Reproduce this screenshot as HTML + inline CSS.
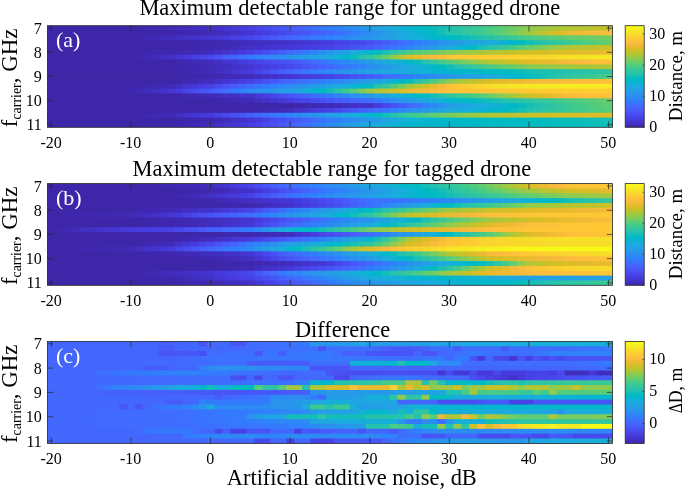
<!DOCTYPE html>
<html><head><meta charset="utf-8"><title>Detectable range</title>
<style>html,body{margin:0;padding:0;background:#fff}svg{display:block;font-family:"Liberation Serif",serif;will-change:transform}text{fill:#000}</style>
</head><body>
<svg width="685" height="489" viewBox="0 0 685 489">
<rect width="685" height="489" fill="#fff"/>
<g>
<rect x="47.40" y="25.70" width="88.85" height="6.14" fill="#3e26a8"/>
<rect x="134.95" y="25.70" width="9.26" height="6.14" fill="#3e27ac"/>
<rect x="142.91" y="25.70" width="9.26" height="6.14" fill="#3f28af"/>
<rect x="150.87" y="25.70" width="9.26" height="6.14" fill="#3f29b2"/>
<rect x="158.83" y="25.70" width="9.26" height="6.14" fill="#402ab4"/>
<rect x="166.79" y="25.70" width="9.26" height="6.14" fill="#402bb7"/>
<rect x="174.75" y="25.70" width="9.26" height="6.14" fill="#412cba"/>
<rect x="182.71" y="25.70" width="9.26" height="6.14" fill="#412dbd"/>
<rect x="190.66" y="25.70" width="9.26" height="6.14" fill="#422ebf"/>
<rect x="198.62" y="25.70" width="9.26" height="6.14" fill="#422fc2"/>
<rect x="206.58" y="25.70" width="9.26" height="6.14" fill="#4330c5"/>
<rect x="214.54" y="25.70" width="9.26" height="6.14" fill="#4332ca"/>
<rect x="222.50" y="25.70" width="9.26" height="6.14" fill="#4535d2"/>
<rect x="230.46" y="25.70" width="9.26" height="6.14" fill="#4538d7"/>
<rect x="238.42" y="25.70" width="9.26" height="6.14" fill="#463bde"/>
<rect x="246.38" y="25.70" width="9.26" height="6.14" fill="#473fe3"/>
<rect x="254.34" y="25.70" width="9.26" height="6.14" fill="#4745e9"/>
<rect x="262.30" y="25.70" width="9.26" height="6.14" fill="#484bee"/>
<rect x="270.26" y="25.70" width="9.26" height="6.14" fill="#4850f3"/>
<rect x="278.22" y="25.70" width="9.26" height="6.14" fill="#4756f7"/>
<rect x="286.17" y="25.70" width="9.26" height="6.14" fill="#475bfa"/>
<rect x="294.13" y="25.70" width="9.26" height="6.14" fill="#4562fc"/>
<rect x="302.09" y="25.70" width="9.26" height="6.14" fill="#4368fe"/>
<rect x="310.05" y="25.70" width="9.26" height="6.14" fill="#3e70ff"/>
<rect x="318.01" y="25.70" width="9.26" height="6.14" fill="#3876fe"/>
<rect x="325.97" y="25.70" width="9.26" height="6.14" fill="#317dfc"/>
<rect x="333.93" y="25.70" width="9.26" height="6.14" fill="#2e84f8"/>
<rect x="341.89" y="25.70" width="9.26" height="6.14" fill="#2d8af5"/>
<rect x="349.85" y="25.70" width="9.26" height="6.14" fill="#2c90f0"/>
<rect x="357.81" y="25.70" width="9.26" height="6.14" fill="#2895ec"/>
<rect x="365.77" y="25.70" width="9.26" height="6.14" fill="#259be8"/>
<rect x="373.73" y="25.70" width="9.26" height="6.14" fill="#23a1e4"/>
<rect x="381.68" y="25.70" width="9.26" height="6.14" fill="#1ea7e1"/>
<rect x="389.64" y="25.70" width="9.26" height="6.14" fill="#1aacdd"/>
<rect x="397.60" y="25.70" width="9.26" height="6.14" fill="#10b2d5"/>
<rect x="405.56" y="25.70" width="9.26" height="6.14" fill="#04b6ce"/>
<rect x="413.52" y="25.70" width="9.26" height="6.14" fill="#00b8c9"/>
<rect x="421.48" y="25.70" width="9.26" height="6.14" fill="#02bbc2"/>
<rect x="429.44" y="25.70" width="9.26" height="6.14" fill="#09bdbd"/>
<rect x="437.40" y="25.70" width="9.26" height="6.14" fill="#17bfb6"/>
<rect x="445.36" y="25.70" width="9.26" height="6.14" fill="#23c1af"/>
<rect x="453.32" y="25.70" width="9.26" height="6.14" fill="#2bc3a8"/>
<rect x="461.28" y="25.70" width="9.26" height="6.14" fill="#31c5a1"/>
<rect x="469.24" y="25.70" width="9.26" height="6.14" fill="#36c899"/>
<rect x="477.19" y="25.70" width="9.26" height="6.14" fill="#3dca90"/>
<rect x="485.15" y="25.70" width="9.26" height="6.14" fill="#48cb86"/>
<rect x="493.11" y="25.70" width="9.26" height="6.14" fill="#54cc7c"/>
<rect x="501.07" y="25.70" width="9.26" height="6.14" fill="#61cd72"/>
<rect x="509.03" y="25.70" width="9.26" height="6.14" fill="#6ecd66"/>
<rect x="516.99" y="25.70" width="9.26" height="6.14" fill="#7dcc5b"/>
<rect x="524.95" y="25.70" width="9.26" height="6.14" fill="#8fcb4e"/>
<rect x="532.91" y="25.70" width="9.26" height="6.14" fill="#96ca48"/>
<rect x="540.87" y="25.70" width="9.26" height="6.14" fill="#9dc943"/>
<rect x="548.83" y="25.70" width="9.26" height="6.14" fill="#a4c83e"/>
<rect x="556.79" y="25.70" width="9.26" height="6.14" fill="#abc739"/>
<rect x="564.75" y="25.70" width="9.26" height="6.14" fill="#b2c635"/>
<rect x="572.70" y="25.70" width="9.26" height="6.14" fill="#b5c533"/>
<rect x="580.66" y="25.70" width="9.26" height="6.14" fill="#b8c431"/>
<rect x="588.62" y="25.70" width="9.26" height="6.14" fill="#bbc42f"/>
<rect x="596.58" y="25.70" width="9.26" height="6.14" fill="#bec32d"/>
<rect x="604.54" y="25.70" width="7.96" height="6.14" fill="#c2c32c"/>
<rect x="47.40" y="30.54" width="128.65" height="6.14" fill="#3e26a8"/>
<rect x="174.75" y="30.54" width="9.26" height="6.14" fill="#3e27ac"/>
<rect x="182.71" y="30.54" width="9.26" height="6.14" fill="#3f28af"/>
<rect x="190.66" y="30.54" width="9.26" height="6.14" fill="#3f29b2"/>
<rect x="198.62" y="30.54" width="9.26" height="6.14" fill="#402ab4"/>
<rect x="206.58" y="30.54" width="9.26" height="6.14" fill="#402bb7"/>
<rect x="214.54" y="30.54" width="9.26" height="6.14" fill="#412dbd"/>
<rect x="222.50" y="30.54" width="9.26" height="6.14" fill="#422fc2"/>
<rect x="230.46" y="30.54" width="9.26" height="6.14" fill="#4331c8"/>
<rect x="238.42" y="30.54" width="9.26" height="6.14" fill="#4433cd"/>
<rect x="246.38" y="30.54" width="9.26" height="6.14" fill="#4535d2"/>
<rect x="254.34" y="30.54" width="9.26" height="6.14" fill="#4639d9"/>
<rect x="262.30" y="30.54" width="9.26" height="6.14" fill="#473ee1"/>
<rect x="270.26" y="30.54" width="9.26" height="6.14" fill="#4744e8"/>
<rect x="278.22" y="30.54" width="9.26" height="6.14" fill="#4848ec"/>
<rect x="286.17" y="30.54" width="9.26" height="6.14" fill="#484ef1"/>
<rect x="294.13" y="30.54" width="9.26" height="6.14" fill="#4852f4"/>
<rect x="302.09" y="30.54" width="9.26" height="6.14" fill="#4757f7"/>
<rect x="310.05" y="30.54" width="9.26" height="6.14" fill="#475dfa"/>
<rect x="318.01" y="30.54" width="9.26" height="6.14" fill="#4661fc"/>
<rect x="325.97" y="30.54" width="9.26" height="6.14" fill="#4367fd"/>
<rect x="333.93" y="30.54" width="9.26" height="6.14" fill="#3f6eff"/>
<rect x="341.89" y="30.54" width="9.26" height="6.14" fill="#3876fe"/>
<rect x="349.85" y="30.54" width="9.26" height="6.14" fill="#317dfc"/>
<rect x="357.81" y="30.54" width="9.26" height="6.14" fill="#2e84f8"/>
<rect x="365.77" y="30.54" width="9.26" height="6.14" fill="#2d8bf4"/>
<rect x="373.73" y="30.54" width="9.26" height="6.14" fill="#2a93ee"/>
<rect x="381.68" y="30.54" width="9.26" height="6.14" fill="#259be8"/>
<rect x="389.64" y="30.54" width="9.26" height="6.14" fill="#22a2e4"/>
<rect x="397.60" y="30.54" width="9.26" height="6.14" fill="#1da9e0"/>
<rect x="405.56" y="30.54" width="9.26" height="6.14" fill="#16afd9"/>
<rect x="413.52" y="30.54" width="9.26" height="6.14" fill="#0bb3d2"/>
<rect x="421.48" y="30.54" width="9.26" height="6.14" fill="#01b7ca"/>
<rect x="429.44" y="30.54" width="9.26" height="6.14" fill="#02bbc2"/>
<rect x="437.40" y="30.54" width="9.26" height="6.14" fill="#14beb8"/>
<rect x="445.36" y="30.54" width="9.26" height="6.14" fill="#23c1af"/>
<rect x="453.32" y="30.54" width="9.26" height="6.14" fill="#2bc3a8"/>
<rect x="461.28" y="30.54" width="9.26" height="6.14" fill="#31c5a1"/>
<rect x="469.24" y="30.54" width="9.26" height="6.14" fill="#36c899"/>
<rect x="477.19" y="30.54" width="9.26" height="6.14" fill="#3dca90"/>
<rect x="485.15" y="30.54" width="9.26" height="6.14" fill="#48cb86"/>
<rect x="493.11" y="30.54" width="9.26" height="6.14" fill="#57cc7a"/>
<rect x="501.07" y="30.54" width="9.26" height="6.14" fill="#67cd6c"/>
<rect x="509.03" y="30.54" width="9.26" height="6.14" fill="#79cc5e"/>
<rect x="516.99" y="30.54" width="9.26" height="6.14" fill="#8fcb4e"/>
<rect x="524.95" y="30.54" width="9.26" height="6.14" fill="#a1c840"/>
<rect x="532.91" y="30.54" width="9.26" height="6.14" fill="#b2c635"/>
<rect x="540.87" y="30.54" width="9.26" height="6.14" fill="#c2c32c"/>
<rect x="548.83" y="30.54" width="9.26" height="6.14" fill="#d0bf27"/>
<rect x="556.79" y="30.54" width="9.26" height="6.14" fill="#debc29"/>
<rect x="564.75" y="30.54" width="9.26" height="6.14" fill="#eaba30"/>
<rect x="572.70" y="30.54" width="9.26" height="6.14" fill="#efba35"/>
<rect x="580.66" y="30.54" width="9.26" height="6.14" fill="#f3ba39"/>
<rect x="588.62" y="30.54" width="9.26" height="6.14" fill="#f7ba3d"/>
<rect x="596.58" y="30.54" width="9.26" height="6.14" fill="#fbbb3e"/>
<rect x="604.54" y="30.54" width="7.96" height="6.14" fill="#febe3c"/>
<rect x="47.40" y="35.38" width="88.85" height="6.14" fill="#3e26a8"/>
<rect x="134.95" y="35.38" width="9.26" height="6.14" fill="#3e27ac"/>
<rect x="142.91" y="35.38" width="9.26" height="6.14" fill="#3f29b2"/>
<rect x="150.87" y="35.38" width="9.26" height="6.14" fill="#402ab4"/>
<rect x="158.83" y="35.38" width="9.26" height="6.14" fill="#412cba"/>
<rect x="166.79" y="35.38" width="9.26" height="6.14" fill="#412dbd"/>
<rect x="174.75" y="35.38" width="9.26" height="6.14" fill="#422fc2"/>
<rect x="182.71" y="35.38" width="9.26" height="6.14" fill="#4330c5"/>
<rect x="190.66" y="35.38" width="9.26" height="6.14" fill="#4332ca"/>
<rect x="198.62" y="35.38" width="9.26" height="6.14" fill="#4433cd"/>
<rect x="206.58" y="35.38" width="9.26" height="6.14" fill="#4535d2"/>
<rect x="214.54" y="35.38" width="9.26" height="6.14" fill="#4538d7"/>
<rect x="222.50" y="35.38" width="9.26" height="6.14" fill="#463bde"/>
<rect x="230.46" y="35.38" width="9.26" height="6.14" fill="#473fe3"/>
<rect x="238.42" y="35.38" width="9.26" height="6.14" fill="#4742e6"/>
<rect x="246.38" y="35.38" width="9.26" height="6.14" fill="#4746eb"/>
<rect x="254.34" y="35.38" width="9.26" height="6.14" fill="#484cf0"/>
<rect x="262.30" y="35.38" width="9.26" height="6.14" fill="#4853f5"/>
<rect x="270.26" y="35.38" width="9.26" height="6.14" fill="#4759f8"/>
<rect x="278.22" y="35.38" width="9.26" height="6.14" fill="#4660fb"/>
<rect x="286.17" y="35.38" width="9.26" height="6.14" fill="#4367fd"/>
<rect x="294.13" y="35.38" width="9.26" height="6.14" fill="#416bfe"/>
<rect x="302.09" y="35.38" width="9.26" height="6.14" fill="#3c71ff"/>
<rect x="310.05" y="35.38" width="9.26" height="6.14" fill="#3876fe"/>
<rect x="318.01" y="35.38" width="9.26" height="6.14" fill="#327cfc"/>
<rect x="325.97" y="35.38" width="9.26" height="6.14" fill="#2f82fa"/>
<rect x="333.93" y="35.38" width="9.26" height="6.14" fill="#2e86f8"/>
<rect x="341.89" y="35.38" width="9.26" height="6.14" fill="#2d8af5"/>
<rect x="349.85" y="35.38" width="9.26" height="6.14" fill="#2d8ef2"/>
<rect x="357.81" y="35.38" width="9.26" height="6.14" fill="#2b91ef"/>
<rect x="365.77" y="35.38" width="9.26" height="6.14" fill="#2895ec"/>
<rect x="373.73" y="35.38" width="9.26" height="6.14" fill="#269ae8"/>
<rect x="381.68" y="35.38" width="9.26" height="6.14" fill="#249fe5"/>
<rect x="389.64" y="35.38" width="9.26" height="6.14" fill="#21a3e3"/>
<rect x="397.60" y="35.38" width="9.26" height="6.14" fill="#1da8e1"/>
<rect x="405.56" y="35.38" width="9.26" height="6.14" fill="#1aacdd"/>
<rect x="413.52" y="35.38" width="9.26" height="6.14" fill="#14b0d8"/>
<rect x="421.48" y="35.38" width="9.26" height="6.14" fill="#0eb3d4"/>
<rect x="429.44" y="35.38" width="9.26" height="6.14" fill="#06b5cf"/>
<rect x="437.40" y="35.38" width="9.26" height="6.14" fill="#01b7ca"/>
<rect x="445.36" y="35.38" width="9.26" height="6.14" fill="#00bac6"/>
<rect x="453.32" y="35.38" width="9.26" height="6.14" fill="#04bbc1"/>
<rect x="461.28" y="35.38" width="9.26" height="6.14" fill="#0dbdbc"/>
<rect x="469.24" y="35.38" width="9.26" height="6.14" fill="#17bfb6"/>
<rect x="477.19" y="35.38" width="9.26" height="6.14" fill="#20c1b1"/>
<rect x="485.15" y="35.38" width="9.26" height="6.14" fill="#27c2ac"/>
<rect x="493.11" y="35.38" width="9.26" height="6.14" fill="#2ec4a5"/>
<rect x="501.07" y="35.38" width="9.26" height="6.14" fill="#32c69f"/>
<rect x="509.03" y="35.38" width="9.26" height="6.14" fill="#38c896"/>
<rect x="516.99" y="35.38" width="9.26" height="6.14" fill="#40ca8d"/>
<rect x="524.95" y="35.38" width="9.26" height="6.14" fill="#48cb86"/>
<rect x="532.91" y="35.38" width="9.26" height="6.14" fill="#4ecc81"/>
<rect x="540.87" y="35.38" width="9.26" height="6.14" fill="#51cc7f"/>
<rect x="548.83" y="35.38" width="9.26" height="6.14" fill="#57cc7a"/>
<rect x="556.79" y="35.38" width="9.26" height="6.14" fill="#5acc77"/>
<rect x="564.75" y="35.38" width="9.26" height="6.14" fill="#61cd72"/>
<rect x="572.70" y="35.38" width="9.26" height="6.14" fill="#64cd6f"/>
<rect x="580.66" y="35.38" width="9.26" height="6.14" fill="#67cd6c"/>
<rect x="588.62" y="35.38" width="9.26" height="6.14" fill="#6bcd69"/>
<rect x="596.58" y="35.38" width="9.26" height="6.14" fill="#6ecd66"/>
<rect x="604.54" y="35.38" width="7.96" height="6.14" fill="#72cd64"/>
<rect x="47.40" y="40.21" width="136.61" height="6.14" fill="#3e26a8"/>
<rect x="182.71" y="40.21" width="17.22" height="6.14" fill="#3e27ac"/>
<rect x="198.62" y="40.21" width="17.22" height="6.14" fill="#3f28af"/>
<rect x="214.54" y="40.21" width="9.26" height="6.14" fill="#3f29b2"/>
<rect x="222.50" y="40.21" width="9.26" height="6.14" fill="#402ab4"/>
<rect x="230.46" y="40.21" width="9.26" height="6.14" fill="#402bb7"/>
<rect x="238.42" y="40.21" width="9.26" height="6.14" fill="#412cba"/>
<rect x="246.38" y="40.21" width="9.26" height="6.14" fill="#412dbd"/>
<rect x="254.34" y="40.21" width="9.26" height="6.14" fill="#422ebf"/>
<rect x="262.30" y="40.21" width="9.26" height="6.14" fill="#422fc2"/>
<rect x="270.26" y="40.21" width="9.26" height="6.14" fill="#4330c5"/>
<rect x="278.22" y="40.21" width="9.26" height="6.14" fill="#4331c8"/>
<rect x="286.17" y="40.21" width="9.26" height="6.14" fill="#4332ca"/>
<rect x="294.13" y="40.21" width="9.26" height="6.14" fill="#4434d0"/>
<rect x="302.09" y="40.21" width="9.26" height="6.14" fill="#4535d2"/>
<rect x="310.05" y="40.21" width="9.26" height="6.14" fill="#4538d7"/>
<rect x="318.01" y="40.21" width="9.26" height="6.14" fill="#4639d9"/>
<rect x="325.97" y="40.21" width="9.26" height="6.14" fill="#463bde"/>
<rect x="333.93" y="40.21" width="9.26" height="6.14" fill="#473fe3"/>
<rect x="341.89" y="40.21" width="9.26" height="6.14" fill="#4742e6"/>
<rect x="349.85" y="40.21" width="9.26" height="6.14" fill="#4746eb"/>
<rect x="357.81" y="40.21" width="9.26" height="6.14" fill="#4849ed"/>
<rect x="365.77" y="40.21" width="9.26" height="6.14" fill="#484ef1"/>
<rect x="373.73" y="40.21" width="9.26" height="6.14" fill="#4854f6"/>
<rect x="381.68" y="40.21" width="9.26" height="6.14" fill="#475bfa"/>
<rect x="389.64" y="40.21" width="9.26" height="6.14" fill="#4562fc"/>
<rect x="397.60" y="40.21" width="9.26" height="6.14" fill="#426afe"/>
<rect x="405.56" y="40.21" width="9.26" height="6.14" fill="#3c71ff"/>
<rect x="413.52" y="40.21" width="9.26" height="6.14" fill="#337afd"/>
<rect x="421.48" y="40.21" width="9.26" height="6.14" fill="#2f82fa"/>
<rect x="429.44" y="40.21" width="9.26" height="6.14" fill="#2d88f6"/>
<rect x="437.40" y="40.21" width="9.26" height="6.14" fill="#2c8ff1"/>
<rect x="445.36" y="40.21" width="9.26" height="6.14" fill="#2895ec"/>
<rect x="453.32" y="40.21" width="9.26" height="6.14" fill="#269ae8"/>
<rect x="461.28" y="40.21" width="9.26" height="6.14" fill="#249ee6"/>
<rect x="469.24" y="40.21" width="9.26" height="6.14" fill="#22a2e4"/>
<rect x="477.19" y="40.21" width="9.26" height="6.14" fill="#1fa6e2"/>
<rect x="485.15" y="40.21" width="9.26" height="6.14" fill="#1caadf"/>
<rect x="493.11" y="40.21" width="9.26" height="6.14" fill="#16afd9"/>
<rect x="501.07" y="40.21" width="9.26" height="6.14" fill="#0bb3d2"/>
<rect x="509.03" y="40.21" width="9.26" height="6.14" fill="#01b7ca"/>
<rect x="516.99" y="40.21" width="9.26" height="6.14" fill="#02bbc2"/>
<rect x="524.95" y="40.21" width="9.26" height="6.14" fill="#14beb8"/>
<rect x="532.91" y="40.21" width="9.26" height="6.14" fill="#20c1b1"/>
<rect x="540.87" y="40.21" width="9.26" height="6.14" fill="#29c3aa"/>
<rect x="548.83" y="40.21" width="9.26" height="6.14" fill="#2fc5a3"/>
<rect x="556.79" y="40.21" width="9.26" height="6.14" fill="#35c79b"/>
<rect x="564.75" y="40.21" width="9.26" height="6.14" fill="#3bc992"/>
<rect x="572.70" y="40.21" width="9.26" height="6.14" fill="#42ca8b"/>
<rect x="580.66" y="40.21" width="9.26" height="6.14" fill="#4bcb84"/>
<rect x="588.62" y="40.21" width="9.26" height="6.14" fill="#54cc7c"/>
<rect x="596.58" y="40.21" width="9.26" height="6.14" fill="#5ecd74"/>
<rect x="604.54" y="40.21" width="7.96" height="6.14" fill="#67cd6c"/>
<rect x="47.40" y="45.05" width="136.61" height="6.14" fill="#3e26a8"/>
<rect x="182.71" y="45.05" width="17.22" height="6.14" fill="#3e27ac"/>
<rect x="198.62" y="45.05" width="17.22" height="6.14" fill="#3f28af"/>
<rect x="214.54" y="45.05" width="9.26" height="6.14" fill="#402ab4"/>
<rect x="222.50" y="45.05" width="9.26" height="6.14" fill="#402bb7"/>
<rect x="230.46" y="45.05" width="9.26" height="6.14" fill="#412dbd"/>
<rect x="238.42" y="45.05" width="9.26" height="6.14" fill="#422ebf"/>
<rect x="246.38" y="45.05" width="9.26" height="6.14" fill="#4330c5"/>
<rect x="254.34" y="45.05" width="9.26" height="6.14" fill="#4331c8"/>
<rect x="262.30" y="45.05" width="9.26" height="6.14" fill="#4433cd"/>
<rect x="270.26" y="45.05" width="9.26" height="6.14" fill="#4434d0"/>
<rect x="278.22" y="45.05" width="9.26" height="6.14" fill="#4537d5"/>
<rect x="286.17" y="45.05" width="9.26" height="6.14" fill="#4538d7"/>
<rect x="294.13" y="45.05" width="9.26" height="6.14" fill="#463adc"/>
<rect x="302.09" y="45.05" width="9.26" height="6.14" fill="#463bde"/>
<rect x="310.05" y="45.05" width="9.26" height="6.14" fill="#473ee1"/>
<rect x="318.01" y="45.05" width="9.26" height="6.14" fill="#4741e5"/>
<rect x="325.97" y="45.05" width="9.26" height="6.14" fill="#4742e6"/>
<rect x="333.93" y="45.05" width="9.26" height="6.14" fill="#4848ec"/>
<rect x="341.89" y="45.05" width="9.26" height="6.14" fill="#484cf0"/>
<rect x="349.85" y="45.05" width="9.26" height="6.14" fill="#4852f4"/>
<rect x="357.81" y="45.05" width="9.26" height="6.14" fill="#4756f7"/>
<rect x="365.77" y="45.05" width="9.26" height="6.14" fill="#475bfa"/>
<rect x="373.73" y="45.05" width="9.26" height="6.14" fill="#4564fd"/>
<rect x="381.68" y="45.05" width="9.26" height="6.14" fill="#416bfe"/>
<rect x="389.64" y="45.05" width="9.26" height="6.14" fill="#3974ff"/>
<rect x="397.60" y="45.05" width="9.26" height="6.14" fill="#317dfc"/>
<rect x="405.56" y="45.05" width="9.26" height="6.14" fill="#2e84f8"/>
<rect x="413.52" y="45.05" width="9.26" height="6.14" fill="#2d8cf3"/>
<rect x="421.48" y="45.05" width="9.26" height="6.14" fill="#2994ed"/>
<rect x="429.44" y="45.05" width="9.26" height="6.14" fill="#259ce7"/>
<rect x="437.40" y="45.05" width="9.26" height="6.14" fill="#21a3e3"/>
<rect x="445.36" y="45.05" width="9.26" height="6.14" fill="#1caadf"/>
<rect x="453.32" y="45.05" width="9.26" height="6.14" fill="#12b1d6"/>
<rect x="461.28" y="45.05" width="9.26" height="6.14" fill="#04b6ce"/>
<rect x="469.24" y="45.05" width="9.26" height="6.14" fill="#02bbc2"/>
<rect x="477.19" y="45.05" width="9.26" height="6.14" fill="#17bfb6"/>
<rect x="485.15" y="45.05" width="9.26" height="6.14" fill="#27c2ac"/>
<rect x="493.11" y="45.05" width="9.26" height="6.14" fill="#31c5a1"/>
<rect x="501.07" y="45.05" width="9.26" height="6.14" fill="#38c896"/>
<rect x="509.03" y="45.05" width="9.26" height="6.14" fill="#45cb89"/>
<rect x="516.99" y="45.05" width="9.26" height="6.14" fill="#57cc7a"/>
<rect x="524.95" y="45.05" width="9.26" height="6.14" fill="#67cd6c"/>
<rect x="532.91" y="45.05" width="9.26" height="6.14" fill="#76cc61"/>
<rect x="540.87" y="45.05" width="9.26" height="6.14" fill="#88cb53"/>
<rect x="548.83" y="45.05" width="9.26" height="6.14" fill="#96ca48"/>
<rect x="556.79" y="45.05" width="9.26" height="6.14" fill="#a4c83e"/>
<rect x="564.75" y="45.05" width="9.26" height="6.14" fill="#b2c635"/>
<rect x="572.70" y="45.05" width="9.26" height="6.14" fill="#b5c533"/>
<rect x="580.66" y="45.05" width="9.26" height="6.14" fill="#bbc42f"/>
<rect x="588.62" y="45.05" width="9.26" height="6.14" fill="#bec32d"/>
<rect x="596.58" y="45.05" width="9.26" height="6.14" fill="#c5c22a"/>
<rect x="604.54" y="45.05" width="7.96" height="6.14" fill="#cbc128"/>
<rect x="47.40" y="49.89" width="96.81" height="6.14" fill="#3e26a8"/>
<rect x="142.91" y="49.89" width="17.22" height="6.14" fill="#3e27ac"/>
<rect x="158.83" y="49.89" width="17.22" height="6.14" fill="#3f28af"/>
<rect x="174.75" y="49.89" width="9.26" height="6.14" fill="#3f29b2"/>
<rect x="182.71" y="49.89" width="9.26" height="6.14" fill="#402ab4"/>
<rect x="190.66" y="49.89" width="9.26" height="6.14" fill="#402bb7"/>
<rect x="198.62" y="49.89" width="9.26" height="6.14" fill="#412cba"/>
<rect x="206.58" y="49.89" width="9.26" height="6.14" fill="#412dbd"/>
<rect x="214.54" y="49.89" width="9.26" height="6.14" fill="#4330c5"/>
<rect x="222.50" y="49.89" width="9.26" height="6.14" fill="#4433cd"/>
<rect x="230.46" y="49.89" width="9.26" height="6.14" fill="#4537d5"/>
<rect x="238.42" y="49.89" width="9.26" height="6.14" fill="#463adc"/>
<rect x="246.38" y="49.89" width="9.26" height="6.14" fill="#473fe3"/>
<rect x="254.34" y="49.89" width="9.26" height="6.14" fill="#4746eb"/>
<rect x="262.30" y="49.89" width="9.26" height="6.14" fill="#484ff2"/>
<rect x="270.26" y="49.89" width="9.26" height="6.14" fill="#4756f7"/>
<rect x="278.22" y="49.89" width="9.26" height="6.14" fill="#465efb"/>
<rect x="286.17" y="49.89" width="9.26" height="6.14" fill="#4367fd"/>
<rect x="294.13" y="49.89" width="9.26" height="6.14" fill="#3e70ff"/>
<rect x="302.09" y="49.89" width="9.26" height="6.14" fill="#337afd"/>
<rect x="310.05" y="49.89" width="9.26" height="6.14" fill="#2e84f8"/>
<rect x="318.01" y="49.89" width="9.26" height="6.14" fill="#2d8cf3"/>
<rect x="325.97" y="49.89" width="9.26" height="6.14" fill="#2895ec"/>
<rect x="333.93" y="49.89" width="9.26" height="6.14" fill="#259ce7"/>
<rect x="341.89" y="49.89" width="9.26" height="6.14" fill="#21a3e3"/>
<rect x="349.85" y="49.89" width="9.26" height="6.14" fill="#1caadf"/>
<rect x="357.81" y="49.89" width="9.26" height="6.14" fill="#12b1d6"/>
<rect x="365.77" y="49.89" width="9.26" height="6.14" fill="#04b6ce"/>
<rect x="373.73" y="49.89" width="9.26" height="6.14" fill="#02bbc2"/>
<rect x="381.68" y="49.89" width="9.26" height="6.14" fill="#1ac0b5"/>
<rect x="389.64" y="49.89" width="9.26" height="6.14" fill="#2cc4a6"/>
<rect x="397.60" y="49.89" width="9.26" height="6.14" fill="#36c899"/>
<rect x="405.56" y="49.89" width="9.26" height="6.14" fill="#48cb86"/>
<rect x="413.52" y="49.89" width="9.26" height="6.14" fill="#54cc7c"/>
<rect x="421.48" y="49.89" width="9.26" height="6.14" fill="#5ecd74"/>
<rect x="429.44" y="49.89" width="9.26" height="6.14" fill="#6bcd69"/>
<rect x="437.40" y="49.89" width="9.26" height="6.14" fill="#76cc61"/>
<rect x="445.36" y="49.89" width="9.26" height="6.14" fill="#84cc56"/>
<rect x="453.32" y="49.89" width="9.26" height="6.14" fill="#8fcb4e"/>
<rect x="461.28" y="49.89" width="9.26" height="6.14" fill="#96ca48"/>
<rect x="469.24" y="49.89" width="9.26" height="6.14" fill="#a1c840"/>
<rect x="477.19" y="49.89" width="9.26" height="6.14" fill="#a7c73b"/>
<rect x="485.15" y="49.89" width="9.26" height="6.14" fill="#b2c635"/>
<rect x="493.11" y="49.89" width="9.26" height="6.14" fill="#b8c431"/>
<rect x="501.07" y="49.89" width="9.26" height="6.14" fill="#bec32d"/>
<rect x="509.03" y="49.89" width="9.26" height="6.14" fill="#c5c22a"/>
<rect x="516.99" y="49.89" width="9.26" height="6.14" fill="#cbc128"/>
<rect x="524.95" y="49.89" width="9.26" height="6.14" fill="#d0bf27"/>
<rect x="532.91" y="49.89" width="9.26" height="6.14" fill="#d3bf27"/>
<rect x="540.87" y="49.89" width="9.26" height="6.14" fill="#d6be27"/>
<rect x="548.83" y="49.89" width="9.26" height="6.14" fill="#d9be28"/>
<rect x="556.79" y="49.89" width="9.26" height="6.14" fill="#dbbd28"/>
<rect x="564.75" y="49.89" width="9.26" height="6.14" fill="#debc29"/>
<rect x="572.70" y="49.89" width="9.26" height="6.14" fill="#e1bc2a"/>
<rect x="580.66" y="49.89" width="9.26" height="6.14" fill="#e3bc2b"/>
<rect x="588.62" y="49.89" width="9.26" height="6.14" fill="#e6bb2d"/>
<rect x="596.58" y="49.89" width="9.26" height="6.14" fill="#e8bb2e"/>
<rect x="604.54" y="49.89" width="7.96" height="6.14" fill="#eaba30"/>
<rect x="47.40" y="54.73" width="88.85" height="6.14" fill="#3e26a8"/>
<rect x="134.95" y="54.73" width="9.26" height="6.14" fill="#3f28af"/>
<rect x="142.91" y="54.73" width="9.26" height="6.14" fill="#402ab4"/>
<rect x="150.87" y="54.73" width="9.26" height="6.14" fill="#412cba"/>
<rect x="158.83" y="54.73" width="9.26" height="6.14" fill="#422ebf"/>
<rect x="166.79" y="54.73" width="9.26" height="6.14" fill="#4330c5"/>
<rect x="174.75" y="54.73" width="9.26" height="6.14" fill="#4434d0"/>
<rect x="182.71" y="54.73" width="9.26" height="6.14" fill="#4639d9"/>
<rect x="190.66" y="54.73" width="9.26" height="6.14" fill="#473ee1"/>
<rect x="198.62" y="54.73" width="9.26" height="6.14" fill="#4744e8"/>
<rect x="206.58" y="54.73" width="9.26" height="6.14" fill="#4849ed"/>
<rect x="214.54" y="54.73" width="9.26" height="6.14" fill="#4853f5"/>
<rect x="222.50" y="54.73" width="9.26" height="6.14" fill="#475dfa"/>
<rect x="230.46" y="54.73" width="9.26" height="6.14" fill="#4465fd"/>
<rect x="238.42" y="54.73" width="9.26" height="6.14" fill="#3e70ff"/>
<rect x="246.38" y="54.73" width="9.26" height="6.14" fill="#337afd"/>
<rect x="254.34" y="54.73" width="9.26" height="6.14" fill="#2f80fa"/>
<rect x="262.30" y="54.73" width="9.26" height="6.14" fill="#2e86f8"/>
<rect x="270.26" y="54.73" width="9.26" height="6.14" fill="#2d8bf4"/>
<rect x="278.22" y="54.73" width="9.26" height="6.14" fill="#2c90f0"/>
<rect x="286.17" y="54.73" width="9.26" height="6.14" fill="#2895ec"/>
<rect x="294.13" y="54.73" width="9.26" height="6.14" fill="#269ae8"/>
<rect x="302.09" y="54.73" width="9.26" height="6.14" fill="#249ee6"/>
<rect x="310.05" y="54.73" width="9.26" height="6.14" fill="#22a2e4"/>
<rect x="318.01" y="54.73" width="9.26" height="6.14" fill="#1fa6e2"/>
<rect x="325.97" y="54.73" width="9.26" height="6.14" fill="#1caadf"/>
<rect x="333.93" y="54.73" width="9.26" height="6.14" fill="#10b2d5"/>
<rect x="341.89" y="54.73" width="9.26" height="6.14" fill="#01b7ca"/>
<rect x="349.85" y="54.73" width="9.26" height="6.14" fill="#09bdbd"/>
<rect x="357.81" y="54.73" width="9.26" height="6.14" fill="#23c1af"/>
<rect x="365.77" y="54.73" width="9.26" height="6.14" fill="#2fc5a3"/>
<rect x="373.73" y="54.73" width="9.26" height="6.14" fill="#45cb89"/>
<rect x="381.68" y="54.73" width="9.26" height="6.14" fill="#67cd6c"/>
<rect x="389.64" y="54.73" width="9.26" height="6.14" fill="#8fcb4e"/>
<rect x="397.60" y="54.73" width="9.26" height="6.14" fill="#b5c533"/>
<rect x="405.56" y="54.73" width="9.26" height="6.14" fill="#d9be28"/>
<rect x="413.52" y="54.73" width="9.26" height="6.14" fill="#e3bc2b"/>
<rect x="421.48" y="54.73" width="9.26" height="6.14" fill="#efba35"/>
<rect x="429.44" y="54.73" width="9.26" height="6.14" fill="#f7ba3d"/>
<rect x="437.40" y="54.73" width="9.26" height="6.14" fill="#febe3c"/>
<rect x="445.36" y="54.73" width="9.26" height="6.14" fill="#fec537"/>
<rect x="453.32" y="54.73" width="9.26" height="6.14" fill="#fec735"/>
<rect x="461.28" y="54.73" width="9.26" height="6.14" fill="#fec834"/>
<rect x="469.24" y="54.73" width="9.26" height="6.14" fill="#feca33"/>
<rect x="477.19" y="54.73" width="9.26" height="6.14" fill="#fdcb32"/>
<rect x="485.15" y="54.73" width="9.26" height="6.14" fill="#fdcd31"/>
<rect x="493.11" y="54.73" width="9.26" height="6.14" fill="#fdce31"/>
<rect x="501.07" y="54.73" width="9.26" height="6.14" fill="#fcd030"/>
<rect x="509.03" y="54.73" width="9.26" height="6.14" fill="#fbd22f"/>
<rect x="516.99" y="54.73" width="9.26" height="6.14" fill="#fbd32e"/>
<rect x="524.95" y="54.73" width="9.26" height="6.14" fill="#fad52e"/>
<rect x="532.91" y="54.73" width="9.26" height="6.14" fill="#f9d62d"/>
<rect x="540.87" y="54.73" width="9.26" height="6.14" fill="#f8d92b"/>
<rect x="548.83" y="54.73" width="9.26" height="6.14" fill="#f7dd2a"/>
<rect x="556.79" y="54.73" width="9.26" height="6.14" fill="#f6de29"/>
<rect x="564.75" y="54.73" width="9.26" height="6.14" fill="#f5e128"/>
<rect x="572.70" y="54.73" width="9.26" height="6.14" fill="#f5e327"/>
<rect x="580.66" y="54.73" width="9.26" height="6.14" fill="#f5e526"/>
<rect x="588.62" y="54.73" width="9.26" height="6.14" fill="#f5e626"/>
<rect x="596.58" y="54.73" width="9.26" height="6.14" fill="#f5e825"/>
<rect x="604.54" y="54.73" width="7.96" height="6.14" fill="#f5e924"/>
<rect x="47.40" y="59.57" width="128.65" height="6.14" fill="#3e26a8"/>
<rect x="174.75" y="59.57" width="9.26" height="6.14" fill="#3e27ac"/>
<rect x="182.71" y="59.57" width="9.26" height="6.14" fill="#3f29b2"/>
<rect x="190.66" y="59.57" width="9.26" height="6.14" fill="#402ab4"/>
<rect x="198.62" y="59.57" width="9.26" height="6.14" fill="#412cba"/>
<rect x="206.58" y="59.57" width="9.26" height="6.14" fill="#412dbd"/>
<rect x="214.54" y="59.57" width="9.26" height="6.14" fill="#4330c5"/>
<rect x="222.50" y="59.57" width="9.26" height="6.14" fill="#4433cd"/>
<rect x="230.46" y="59.57" width="9.26" height="6.14" fill="#4537d5"/>
<rect x="238.42" y="59.57" width="9.26" height="6.14" fill="#463adc"/>
<rect x="246.38" y="59.57" width="9.26" height="6.14" fill="#473fe3"/>
<rect x="254.34" y="59.57" width="9.26" height="6.14" fill="#4744e8"/>
<rect x="262.30" y="59.57" width="9.26" height="6.14" fill="#4848ec"/>
<rect x="270.26" y="59.57" width="9.26" height="6.14" fill="#484cf0"/>
<rect x="278.22" y="59.57" width="9.26" height="6.14" fill="#4850f3"/>
<rect x="286.17" y="59.57" width="9.26" height="6.14" fill="#4854f6"/>
<rect x="294.13" y="59.57" width="9.26" height="6.14" fill="#475bfa"/>
<rect x="302.09" y="59.57" width="9.26" height="6.14" fill="#4562fc"/>
<rect x="310.05" y="59.57" width="9.26" height="6.14" fill="#426afe"/>
<rect x="318.01" y="59.57" width="9.26" height="6.14" fill="#3c71ff"/>
<rect x="325.97" y="59.57" width="9.26" height="6.14" fill="#337afd"/>
<rect x="333.93" y="59.57" width="9.26" height="6.14" fill="#2f82fa"/>
<rect x="341.89" y="59.57" width="9.26" height="6.14" fill="#2d88f6"/>
<rect x="349.85" y="59.57" width="9.26" height="6.14" fill="#2c8ff1"/>
<rect x="357.81" y="59.57" width="9.26" height="6.14" fill="#2895ec"/>
<rect x="365.77" y="59.57" width="9.26" height="6.14" fill="#259be8"/>
<rect x="373.73" y="59.57" width="9.26" height="6.14" fill="#22a2e4"/>
<rect x="381.68" y="59.57" width="9.26" height="6.14" fill="#1da8e1"/>
<rect x="389.64" y="59.57" width="9.26" height="6.14" fill="#17aeda"/>
<rect x="397.60" y="59.57" width="9.26" height="6.14" fill="#0bb3d2"/>
<rect x="405.56" y="59.57" width="9.26" height="6.14" fill="#01b7ca"/>
<rect x="413.52" y="59.57" width="9.26" height="6.14" fill="#09bdbd"/>
<rect x="421.48" y="59.57" width="9.26" height="6.14" fill="#25c2ae"/>
<rect x="429.44" y="59.57" width="9.26" height="6.14" fill="#32c69f"/>
<rect x="437.40" y="59.57" width="9.26" height="6.14" fill="#40ca8d"/>
<rect x="445.36" y="59.57" width="9.26" height="6.14" fill="#57cc7a"/>
<rect x="453.32" y="59.57" width="9.26" height="6.14" fill="#67cd6c"/>
<rect x="461.28" y="59.57" width="9.26" height="6.14" fill="#79cc5e"/>
<rect x="469.24" y="59.57" width="9.26" height="6.14" fill="#8fcb4e"/>
<rect x="477.19" y="59.57" width="9.26" height="6.14" fill="#a1c840"/>
<rect x="485.15" y="59.57" width="9.26" height="6.14" fill="#b2c635"/>
<rect x="493.11" y="59.57" width="9.26" height="6.14" fill="#bbc42f"/>
<rect x="501.07" y="59.57" width="9.26" height="6.14" fill="#c5c22a"/>
<rect x="509.03" y="59.57" width="9.26" height="6.14" fill="#cec027"/>
<rect x="516.99" y="59.57" width="9.26" height="6.14" fill="#d6be27"/>
<rect x="524.95" y="59.57" width="9.26" height="6.14" fill="#debc29"/>
<rect x="532.91" y="59.57" width="9.26" height="6.14" fill="#e3bc2b"/>
<rect x="540.87" y="59.57" width="9.26" height="6.14" fill="#e8bb2e"/>
<rect x="548.83" y="59.57" width="9.26" height="6.14" fill="#ecba32"/>
<rect x="556.79" y="59.57" width="9.26" height="6.14" fill="#f1ba37"/>
<rect x="564.75" y="59.57" width="9.26" height="6.14" fill="#f5ba3b"/>
<rect x="572.70" y="59.57" width="9.26" height="6.14" fill="#f9ba3e"/>
<rect x="580.66" y="59.57" width="9.26" height="6.14" fill="#fbbb3e"/>
<rect x="588.62" y="59.57" width="9.26" height="6.14" fill="#febd3d"/>
<rect x="596.58" y="59.57" width="9.26" height="6.14" fill="#fec03b"/>
<rect x="604.54" y="59.57" width="7.96" height="6.14" fill="#fec13a"/>
<rect x="47.40" y="64.40" width="128.65" height="6.14" fill="#3e26a8"/>
<rect x="174.75" y="64.40" width="9.26" height="6.14" fill="#3e27ac"/>
<rect x="182.71" y="64.40" width="9.26" height="6.14" fill="#3f28af"/>
<rect x="190.66" y="64.40" width="9.26" height="6.14" fill="#3f29b2"/>
<rect x="198.62" y="64.40" width="9.26" height="6.14" fill="#402ab4"/>
<rect x="206.58" y="64.40" width="9.26" height="6.14" fill="#402bb7"/>
<rect x="214.54" y="64.40" width="9.26" height="6.14" fill="#412dbd"/>
<rect x="222.50" y="64.40" width="9.26" height="6.14" fill="#422fc2"/>
<rect x="230.46" y="64.40" width="9.26" height="6.14" fill="#4331c8"/>
<rect x="238.42" y="64.40" width="9.26" height="6.14" fill="#4433cd"/>
<rect x="246.38" y="64.40" width="9.26" height="6.14" fill="#4535d2"/>
<rect x="254.34" y="64.40" width="9.26" height="6.14" fill="#4639d9"/>
<rect x="262.30" y="64.40" width="9.26" height="6.14" fill="#463de0"/>
<rect x="270.26" y="64.40" width="9.26" height="6.14" fill="#4741e5"/>
<rect x="278.22" y="64.40" width="9.26" height="6.14" fill="#4745e9"/>
<rect x="286.17" y="64.40" width="9.26" height="6.14" fill="#4849ed"/>
<rect x="294.13" y="64.40" width="9.26" height="6.14" fill="#484ff2"/>
<rect x="302.09" y="64.40" width="9.26" height="6.14" fill="#4854f6"/>
<rect x="310.05" y="64.40" width="9.26" height="6.14" fill="#475bfa"/>
<rect x="318.01" y="64.40" width="9.26" height="6.14" fill="#4661fc"/>
<rect x="325.97" y="64.40" width="9.26" height="6.14" fill="#4367fd"/>
<rect x="333.93" y="64.40" width="9.26" height="6.14" fill="#3f6eff"/>
<rect x="341.89" y="64.40" width="9.26" height="6.14" fill="#3876fe"/>
<rect x="349.85" y="64.40" width="9.26" height="6.14" fill="#317dfc"/>
<rect x="357.81" y="64.40" width="9.26" height="6.14" fill="#2e84f8"/>
<rect x="365.77" y="64.40" width="9.26" height="6.14" fill="#2d8bf4"/>
<rect x="373.73" y="64.40" width="9.26" height="6.14" fill="#2b91ef"/>
<rect x="381.68" y="64.40" width="9.26" height="6.14" fill="#2699e9"/>
<rect x="389.64" y="64.40" width="9.26" height="6.14" fill="#249fe5"/>
<rect x="397.60" y="64.40" width="9.26" height="6.14" fill="#20a5e3"/>
<rect x="405.56" y="64.40" width="9.26" height="6.14" fill="#1caadf"/>
<rect x="413.52" y="64.40" width="9.26" height="6.14" fill="#16afd9"/>
<rect x="421.48" y="64.40" width="9.26" height="6.14" fill="#0bb3d2"/>
<rect x="429.44" y="64.40" width="9.26" height="6.14" fill="#01b7ca"/>
<rect x="437.40" y="64.40" width="9.26" height="6.14" fill="#02bbc2"/>
<rect x="445.36" y="64.40" width="9.26" height="6.14" fill="#14beb8"/>
<rect x="453.32" y="64.40" width="9.26" height="6.14" fill="#23c1af"/>
<rect x="461.28" y="64.40" width="9.26" height="6.14" fill="#2cc4a6"/>
<rect x="469.24" y="64.40" width="9.26" height="6.14" fill="#33c79d"/>
<rect x="477.19" y="64.40" width="9.26" height="6.14" fill="#3bc992"/>
<rect x="485.15" y="64.40" width="9.26" height="6.14" fill="#48cb86"/>
<rect x="493.11" y="64.40" width="9.26" height="6.14" fill="#54cc7c"/>
<rect x="501.07" y="64.40" width="9.26" height="6.14" fill="#5ecd74"/>
<rect x="509.03" y="64.40" width="9.26" height="6.14" fill="#6bcd69"/>
<rect x="516.99" y="64.40" width="9.26" height="6.14" fill="#76cc61"/>
<rect x="524.95" y="64.40" width="9.26" height="6.14" fill="#84cc56"/>
<rect x="532.91" y="64.40" width="9.26" height="6.14" fill="#8bcb51"/>
<rect x="540.87" y="64.40" width="9.26" height="6.14" fill="#8fcb4e"/>
<rect x="548.83" y="64.40" width="9.26" height="6.14" fill="#96ca48"/>
<rect x="556.79" y="64.40" width="9.26" height="6.14" fill="#9ac946"/>
<rect x="564.75" y="64.40" width="9.26" height="6.14" fill="#a1c840"/>
<rect x="572.70" y="64.40" width="9.26" height="6.14" fill="#a4c83e"/>
<rect x="580.66" y="64.40" width="9.26" height="6.14" fill="#a7c73b"/>
<rect x="588.62" y="64.40" width="9.26" height="6.14" fill="#abc739"/>
<rect x="596.58" y="64.40" width="9.26" height="6.14" fill="#aec637"/>
<rect x="604.54" y="64.40" width="7.96" height="6.14" fill="#b2c635"/>
<rect x="47.40" y="69.24" width="128.65" height="6.14" fill="#3e26a8"/>
<rect x="174.75" y="69.24" width="9.26" height="6.14" fill="#3e27ac"/>
<rect x="182.71" y="69.24" width="9.26" height="6.14" fill="#3f28af"/>
<rect x="190.66" y="69.24" width="9.26" height="6.14" fill="#3f29b2"/>
<rect x="198.62" y="69.24" width="9.26" height="6.14" fill="#402ab4"/>
<rect x="206.58" y="69.24" width="9.26" height="6.14" fill="#402bb7"/>
<rect x="214.54" y="69.24" width="9.26" height="6.14" fill="#422ebf"/>
<rect x="222.50" y="69.24" width="9.26" height="6.14" fill="#4331c8"/>
<rect x="230.46" y="69.24" width="9.26" height="6.14" fill="#4434d0"/>
<rect x="238.42" y="69.24" width="9.26" height="6.14" fill="#4538d7"/>
<rect x="246.38" y="69.24" width="9.26" height="6.14" fill="#463bde"/>
<rect x="254.34" y="69.24" width="9.26" height="6.14" fill="#4744e8"/>
<rect x="262.30" y="69.24" width="9.26" height="6.14" fill="#484cf0"/>
<rect x="270.26" y="69.24" width="9.26" height="6.14" fill="#4854f6"/>
<rect x="278.22" y="69.24" width="9.26" height="6.14" fill="#465efb"/>
<rect x="286.17" y="69.24" width="9.26" height="6.14" fill="#4367fd"/>
<rect x="294.13" y="69.24" width="9.26" height="6.14" fill="#3f6eff"/>
<rect x="302.09" y="69.24" width="9.26" height="6.14" fill="#3876fe"/>
<rect x="310.05" y="69.24" width="9.26" height="6.14" fill="#317dfc"/>
<rect x="318.01" y="69.24" width="9.26" height="6.14" fill="#2e84f8"/>
<rect x="325.97" y="69.24" width="9.26" height="6.14" fill="#2d8bf4"/>
<rect x="333.93" y="69.24" width="9.26" height="6.14" fill="#2c90f0"/>
<rect x="341.89" y="69.24" width="9.26" height="6.14" fill="#2994ed"/>
<rect x="349.85" y="69.24" width="9.26" height="6.14" fill="#2699e9"/>
<rect x="357.81" y="69.24" width="9.26" height="6.14" fill="#249ee6"/>
<rect x="365.77" y="69.24" width="9.26" height="6.14" fill="#23a1e4"/>
<rect x="373.73" y="69.24" width="9.26" height="6.14" fill="#20a5e3"/>
<rect x="381.68" y="69.24" width="9.26" height="6.14" fill="#1ea7e1"/>
<rect x="389.64" y="69.24" width="9.26" height="6.14" fill="#1caadf"/>
<rect x="397.60" y="69.24" width="9.26" height="6.14" fill="#1aacdd"/>
<rect x="405.56" y="69.24" width="9.26" height="6.14" fill="#16afd9"/>
<rect x="413.52" y="69.24" width="9.26" height="6.14" fill="#12b1d6"/>
<rect x="421.48" y="69.24" width="9.26" height="6.14" fill="#10b2d5"/>
<rect x="429.44" y="69.24" width="9.26" height="6.14" fill="#0bb3d2"/>
<rect x="437.40" y="69.24" width="9.26" height="6.14" fill="#08b4d1"/>
<rect x="445.36" y="69.24" width="9.26" height="6.14" fill="#04b6ce"/>
<rect x="453.32" y="69.24" width="9.26" height="6.14" fill="#02b7cc"/>
<rect x="461.28" y="69.24" width="9.26" height="6.14" fill="#01b7ca"/>
<rect x="469.24" y="69.24" width="9.26" height="6.14" fill="#00b8c9"/>
<rect x="477.19" y="69.24" width="9.26" height="6.14" fill="#00b9c7"/>
<rect x="485.15" y="69.24" width="9.26" height="6.14" fill="#00bac6"/>
<rect x="493.11" y="69.24" width="9.26" height="6.14" fill="#01bac4"/>
<rect x="501.07" y="69.24" width="9.26" height="6.14" fill="#04bbc1"/>
<rect x="509.03" y="69.24" width="9.26" height="6.14" fill="#06bcbf"/>
<rect x="516.99" y="69.24" width="9.26" height="6.14" fill="#0dbdbc"/>
<rect x="524.95" y="69.24" width="9.26" height="6.14" fill="#14beb8"/>
<rect x="532.91" y="69.24" width="9.26" height="6.14" fill="#17bfb6"/>
<rect x="540.87" y="69.24" width="9.26" height="6.14" fill="#1ac0b5"/>
<rect x="548.83" y="69.24" width="9.26" height="6.14" fill="#1dc0b3"/>
<rect x="556.79" y="69.24" width="9.26" height="6.14" fill="#20c1b1"/>
<rect x="564.75" y="69.24" width="9.26" height="6.14" fill="#23c1af"/>
<rect x="572.70" y="69.24" width="9.26" height="6.14" fill="#25c2ae"/>
<rect x="580.66" y="69.24" width="9.26" height="6.14" fill="#27c2ac"/>
<rect x="588.62" y="69.24" width="9.26" height="6.14" fill="#29c3aa"/>
<rect x="596.58" y="69.24" width="9.26" height="6.14" fill="#2bc3a8"/>
<rect x="604.54" y="69.24" width="7.96" height="6.14" fill="#2cc4a6"/>
<rect x="47.40" y="74.08" width="136.61" height="6.14" fill="#3e26a8"/>
<rect x="182.71" y="74.08" width="17.22" height="6.14" fill="#3e27ac"/>
<rect x="198.62" y="74.08" width="17.22" height="6.14" fill="#3f28af"/>
<rect x="214.54" y="74.08" width="9.26" height="6.14" fill="#3f29b2"/>
<rect x="222.50" y="74.08" width="9.26" height="6.14" fill="#402ab4"/>
<rect x="230.46" y="74.08" width="9.26" height="6.14" fill="#402bb7"/>
<rect x="238.42" y="74.08" width="9.26" height="6.14" fill="#412cba"/>
<rect x="246.38" y="74.08" width="9.26" height="6.14" fill="#412dbd"/>
<rect x="254.34" y="74.08" width="9.26" height="6.14" fill="#422fc2"/>
<rect x="262.30" y="74.08" width="9.26" height="6.14" fill="#4330c5"/>
<rect x="270.26" y="74.08" width="9.26" height="6.14" fill="#4332ca"/>
<rect x="278.22" y="74.08" width="9.26" height="6.14" fill="#4433cd"/>
<rect x="286.17" y="74.08" width="9.26" height="6.14" fill="#4535d2"/>
<rect x="294.13" y="74.08" width="9.26" height="6.14" fill="#4538d7"/>
<rect x="302.09" y="74.08" width="9.26" height="6.14" fill="#463adc"/>
<rect x="310.05" y="74.08" width="9.26" height="6.14" fill="#463de0"/>
<rect x="318.01" y="74.08" width="9.26" height="6.14" fill="#473fe3"/>
<rect x="325.97" y="74.08" width="9.26" height="6.14" fill="#4742e6"/>
<rect x="333.93" y="74.08" width="9.26" height="6.14" fill="#4848ec"/>
<rect x="341.89" y="74.08" width="9.26" height="6.14" fill="#484cf0"/>
<rect x="349.85" y="74.08" width="9.26" height="6.14" fill="#4852f4"/>
<rect x="357.81" y="74.08" width="9.26" height="6.14" fill="#4756f7"/>
<rect x="365.77" y="74.08" width="9.26" height="6.14" fill="#475bfa"/>
<rect x="373.73" y="74.08" width="9.26" height="6.14" fill="#4562fc"/>
<rect x="381.68" y="74.08" width="9.26" height="6.14" fill="#4368fe"/>
<rect x="389.64" y="74.08" width="9.26" height="6.14" fill="#3e70ff"/>
<rect x="397.60" y="74.08" width="9.26" height="6.14" fill="#3876fe"/>
<rect x="405.56" y="74.08" width="9.26" height="6.14" fill="#317dfc"/>
<rect x="413.52" y="74.08" width="9.26" height="6.14" fill="#2e83f9"/>
<rect x="421.48" y="74.08" width="9.26" height="6.14" fill="#2e87f7"/>
<rect x="429.44" y="74.08" width="9.26" height="6.14" fill="#2d8cf3"/>
<rect x="437.40" y="74.08" width="9.26" height="6.14" fill="#2c90f0"/>
<rect x="445.36" y="74.08" width="9.26" height="6.14" fill="#2895ec"/>
<rect x="453.32" y="74.08" width="9.26" height="6.14" fill="#269ae8"/>
<rect x="461.28" y="74.08" width="9.26" height="6.14" fill="#249ee6"/>
<rect x="469.24" y="74.08" width="9.26" height="6.14" fill="#22a2e4"/>
<rect x="477.19" y="74.08" width="9.26" height="6.14" fill="#1fa6e2"/>
<rect x="485.15" y="74.08" width="9.26" height="6.14" fill="#1caadf"/>
<rect x="493.11" y="74.08" width="9.26" height="6.14" fill="#17aeda"/>
<rect x="501.07" y="74.08" width="9.26" height="6.14" fill="#10b2d5"/>
<rect x="509.03" y="74.08" width="9.26" height="6.14" fill="#06b5cf"/>
<rect x="516.99" y="74.08" width="9.26" height="6.14" fill="#00b8c9"/>
<rect x="524.95" y="74.08" width="9.26" height="6.14" fill="#02bbc2"/>
<rect x="532.91" y="74.08" width="9.26" height="6.14" fill="#0dbdbc"/>
<rect x="540.87" y="74.08" width="9.26" height="6.14" fill="#1ac0b5"/>
<rect x="548.83" y="74.08" width="9.26" height="6.14" fill="#23c1af"/>
<rect x="556.79" y="74.08" width="9.26" height="6.14" fill="#2bc3a8"/>
<rect x="564.75" y="74.08" width="9.26" height="6.14" fill="#2fc5a3"/>
<rect x="572.70" y="74.08" width="9.26" height="6.14" fill="#33c79d"/>
<rect x="580.66" y="74.08" width="9.26" height="6.14" fill="#36c899"/>
<rect x="588.62" y="74.08" width="9.26" height="6.14" fill="#3bc992"/>
<rect x="596.58" y="74.08" width="9.26" height="6.14" fill="#42ca8b"/>
<rect x="604.54" y="74.08" width="7.96" height="6.14" fill="#48cb86"/>
<rect x="47.40" y="78.92" width="128.65" height="6.14" fill="#3e26a8"/>
<rect x="174.75" y="78.92" width="9.26" height="6.14" fill="#3e27ac"/>
<rect x="182.71" y="78.92" width="9.26" height="6.14" fill="#3f29b2"/>
<rect x="190.66" y="78.92" width="9.26" height="6.14" fill="#402ab4"/>
<rect x="198.62" y="78.92" width="9.26" height="6.14" fill="#412cba"/>
<rect x="206.58" y="78.92" width="9.26" height="6.14" fill="#412dbd"/>
<rect x="214.54" y="78.92" width="9.26" height="6.14" fill="#4331c8"/>
<rect x="222.50" y="78.92" width="9.26" height="6.14" fill="#4434d0"/>
<rect x="230.46" y="78.92" width="9.26" height="6.14" fill="#4639d9"/>
<rect x="238.42" y="78.92" width="9.26" height="6.14" fill="#473ee1"/>
<rect x="246.38" y="78.92" width="9.26" height="6.14" fill="#4742e6"/>
<rect x="254.34" y="78.92" width="9.26" height="6.14" fill="#4849ed"/>
<rect x="262.30" y="78.92" width="9.26" height="6.14" fill="#4850f3"/>
<rect x="270.26" y="78.92" width="9.26" height="6.14" fill="#4757f7"/>
<rect x="278.22" y="78.92" width="9.26" height="6.14" fill="#4660fb"/>
<rect x="286.17" y="78.92" width="9.26" height="6.14" fill="#4367fd"/>
<rect x="294.13" y="78.92" width="9.26" height="6.14" fill="#416bfe"/>
<rect x="302.09" y="78.92" width="9.26" height="6.14" fill="#3c71ff"/>
<rect x="310.05" y="78.92" width="9.26" height="6.14" fill="#3876fe"/>
<rect x="318.01" y="78.92" width="9.26" height="6.14" fill="#327cfc"/>
<rect x="325.97" y="78.92" width="9.26" height="6.14" fill="#2f82fa"/>
<rect x="333.93" y="78.92" width="9.26" height="6.14" fill="#2e87f7"/>
<rect x="341.89" y="78.92" width="9.26" height="6.14" fill="#2d8ef2"/>
<rect x="349.85" y="78.92" width="9.26" height="6.14" fill="#2a93ee"/>
<rect x="357.81" y="78.92" width="9.26" height="6.14" fill="#2699e9"/>
<rect x="365.77" y="78.92" width="9.26" height="6.14" fill="#249fe5"/>
<rect x="373.73" y="78.92" width="9.26" height="6.14" fill="#1fa6e2"/>
<rect x="381.68" y="78.92" width="9.26" height="6.14" fill="#19addc"/>
<rect x="389.64" y="78.92" width="9.26" height="6.14" fill="#0bb3d2"/>
<rect x="397.60" y="78.92" width="9.26" height="6.14" fill="#00b8c9"/>
<rect x="405.56" y="78.92" width="9.26" height="6.14" fill="#09bdbd"/>
<rect x="413.52" y="78.92" width="9.26" height="6.14" fill="#27c2ac"/>
<rect x="421.48" y="78.92" width="9.26" height="6.14" fill="#35c79b"/>
<rect x="429.44" y="78.92" width="9.26" height="6.14" fill="#4bcb84"/>
<rect x="437.40" y="78.92" width="9.26" height="6.14" fill="#6bcd69"/>
<rect x="445.36" y="78.92" width="9.26" height="6.14" fill="#8fcb4e"/>
<rect x="453.32" y="78.92" width="9.26" height="6.14" fill="#a1c840"/>
<rect x="461.28" y="78.92" width="9.26" height="6.14" fill="#b2c635"/>
<rect x="469.24" y="78.92" width="9.26" height="6.14" fill="#c2c32c"/>
<rect x="477.19" y="78.92" width="9.26" height="6.14" fill="#d0bf27"/>
<rect x="485.15" y="78.92" width="9.26" height="6.14" fill="#debc29"/>
<rect x="493.11" y="78.92" width="9.26" height="6.14" fill="#e3bc2b"/>
<rect x="501.07" y="78.92" width="9.26" height="6.14" fill="#e6bb2d"/>
<rect x="509.03" y="78.92" width="9.26" height="6.14" fill="#eaba30"/>
<rect x="516.99" y="78.92" width="9.26" height="6.14" fill="#ecba32"/>
<rect x="524.95" y="78.92" width="9.26" height="6.14" fill="#f1ba37"/>
<rect x="532.91" y="78.92" width="9.26" height="6.14" fill="#f3ba39"/>
<rect x="540.87" y="78.92" width="9.26" height="6.14" fill="#f5ba3b"/>
<rect x="548.83" y="78.92" width="9.26" height="6.14" fill="#f7ba3d"/>
<rect x="556.79" y="78.92" width="9.26" height="6.14" fill="#f9ba3e"/>
<rect x="564.75" y="78.92" width="9.26" height="6.14" fill="#fbbb3e"/>
<rect x="572.70" y="78.92" width="9.26" height="6.14" fill="#fcbc3e"/>
<rect x="580.66" y="78.92" width="9.26" height="6.14" fill="#febd3d"/>
<rect x="588.62" y="78.92" width="9.26" height="6.14" fill="#febe3c"/>
<rect x="596.58" y="78.92" width="9.26" height="6.14" fill="#fec03b"/>
<rect x="604.54" y="78.92" width="7.96" height="6.14" fill="#fec13a"/>
<rect x="47.40" y="83.76" width="88.85" height="6.14" fill="#3e26a8"/>
<rect x="134.95" y="83.76" width="9.26" height="6.14" fill="#3e27ac"/>
<rect x="142.91" y="83.76" width="9.26" height="6.14" fill="#3f28af"/>
<rect x="150.87" y="83.76" width="9.26" height="6.14" fill="#3f29b2"/>
<rect x="158.83" y="83.76" width="9.26" height="6.14" fill="#402ab4"/>
<rect x="166.79" y="83.76" width="9.26" height="6.14" fill="#402bb7"/>
<rect x="174.75" y="83.76" width="9.26" height="6.14" fill="#422fc2"/>
<rect x="182.71" y="83.76" width="9.26" height="6.14" fill="#4433cd"/>
<rect x="190.66" y="83.76" width="9.26" height="6.14" fill="#4538d7"/>
<rect x="198.62" y="83.76" width="9.26" height="6.14" fill="#463de0"/>
<rect x="206.58" y="83.76" width="9.26" height="6.14" fill="#4742e6"/>
<rect x="214.54" y="83.76" width="9.26" height="6.14" fill="#484bee"/>
<rect x="222.50" y="83.76" width="9.26" height="6.14" fill="#4853f5"/>
<rect x="230.46" y="83.76" width="9.26" height="6.14" fill="#475dfa"/>
<rect x="238.42" y="83.76" width="9.26" height="6.14" fill="#4465fd"/>
<rect x="246.38" y="83.76" width="9.26" height="6.14" fill="#3f6eff"/>
<rect x="254.34" y="83.76" width="9.26" height="6.14" fill="#3974ff"/>
<rect x="262.30" y="83.76" width="9.26" height="6.14" fill="#337afd"/>
<rect x="270.26" y="83.76" width="9.26" height="6.14" fill="#2f80fa"/>
<rect x="278.22" y="83.76" width="9.26" height="6.14" fill="#2e86f8"/>
<rect x="286.17" y="83.76" width="9.26" height="6.14" fill="#2d8bf4"/>
<rect x="294.13" y="83.76" width="9.26" height="6.14" fill="#2c90f0"/>
<rect x="302.09" y="83.76" width="9.26" height="6.14" fill="#2895ec"/>
<rect x="310.05" y="83.76" width="9.26" height="6.14" fill="#259be8"/>
<rect x="318.01" y="83.76" width="9.26" height="6.14" fill="#23a0e5"/>
<rect x="325.97" y="83.76" width="9.26" height="6.14" fill="#20a5e3"/>
<rect x="333.93" y="83.76" width="9.26" height="6.14" fill="#1caadf"/>
<rect x="341.89" y="83.76" width="9.26" height="6.14" fill="#16afd9"/>
<rect x="349.85" y="83.76" width="9.26" height="6.14" fill="#0bb3d2"/>
<rect x="357.81" y="83.76" width="9.26" height="6.14" fill="#01b7ca"/>
<rect x="365.77" y="83.76" width="9.26" height="6.14" fill="#02bbc2"/>
<rect x="373.73" y="83.76" width="9.26" height="6.14" fill="#25c2ae"/>
<rect x="381.68" y="83.76" width="9.26" height="6.14" fill="#36c899"/>
<rect x="389.64" y="83.76" width="9.26" height="6.14" fill="#51cc7f"/>
<rect x="397.60" y="83.76" width="9.26" height="6.14" fill="#76cc61"/>
<rect x="405.56" y="83.76" width="9.26" height="6.14" fill="#a1c840"/>
<rect x="413.52" y="83.76" width="9.26" height="6.14" fill="#b8c431"/>
<rect x="421.48" y="83.76" width="9.26" height="6.14" fill="#d0bf27"/>
<rect x="429.44" y="83.76" width="9.26" height="6.14" fill="#e6bb2d"/>
<rect x="437.40" y="83.76" width="9.26" height="6.14" fill="#f5ba3b"/>
<rect x="445.36" y="83.76" width="9.26" height="6.14" fill="#fec13a"/>
<rect x="453.32" y="83.76" width="9.26" height="6.14" fill="#fec735"/>
<rect x="461.28" y="83.76" width="9.26" height="6.14" fill="#fdcb32"/>
<rect x="469.24" y="83.76" width="9.26" height="6.14" fill="#fbd22f"/>
<rect x="477.19" y="83.76" width="9.26" height="6.14" fill="#f9d62d"/>
<rect x="485.15" y="83.76" width="9.26" height="6.14" fill="#f7dd2a"/>
<rect x="493.11" y="83.76" width="9.26" height="6.14" fill="#f6e028"/>
<rect x="501.07" y="83.76" width="9.26" height="6.14" fill="#f5e128"/>
<rect x="509.03" y="83.76" width="9.26" height="6.14" fill="#f5e526"/>
<rect x="516.99" y="83.76" width="9.26" height="6.14" fill="#f5e626"/>
<rect x="524.95" y="83.76" width="17.22" height="6.14" fill="#f5e924"/>
<rect x="540.87" y="83.76" width="17.22" height="6.14" fill="#f5eb23"/>
<rect x="556.79" y="83.76" width="55.71" height="6.14" fill="#f5ec22"/>
<rect x="47.40" y="88.60" width="33.14" height="6.14" fill="#3e26a8"/>
<rect x="79.24" y="88.60" width="33.14" height="6.14" fill="#3e27ac"/>
<rect x="111.07" y="88.60" width="25.18" height="6.14" fill="#3f28af"/>
<rect x="134.95" y="88.60" width="9.26" height="6.14" fill="#402bb7"/>
<rect x="142.91" y="88.60" width="9.26" height="6.14" fill="#412dbd"/>
<rect x="150.87" y="88.60" width="9.26" height="6.14" fill="#4330c5"/>
<rect x="158.83" y="88.60" width="9.26" height="6.14" fill="#4332ca"/>
<rect x="166.79" y="88.60" width="9.26" height="6.14" fill="#4535d2"/>
<rect x="174.75" y="88.60" width="9.26" height="6.14" fill="#463bde"/>
<rect x="182.71" y="88.60" width="9.26" height="6.14" fill="#4744e8"/>
<rect x="190.66" y="88.60" width="9.26" height="6.14" fill="#484cf0"/>
<rect x="198.62" y="88.60" width="9.26" height="6.14" fill="#4853f5"/>
<rect x="206.58" y="88.60" width="9.26" height="6.14" fill="#475bfa"/>
<rect x="214.54" y="88.60" width="9.26" height="6.14" fill="#4465fd"/>
<rect x="222.50" y="88.60" width="9.26" height="6.14" fill="#3f6eff"/>
<rect x="230.46" y="88.60" width="9.26" height="6.14" fill="#3579fd"/>
<rect x="238.42" y="88.60" width="9.26" height="6.14" fill="#2e83f9"/>
<rect x="246.38" y="88.60" width="9.26" height="6.14" fill="#2d8bf4"/>
<rect x="254.34" y="88.60" width="9.26" height="6.14" fill="#2c90f0"/>
<rect x="262.30" y="88.60" width="9.26" height="6.14" fill="#2994ed"/>
<rect x="270.26" y="88.60" width="9.26" height="6.14" fill="#2699e9"/>
<rect x="278.22" y="88.60" width="9.26" height="6.14" fill="#249ee6"/>
<rect x="286.17" y="88.60" width="9.26" height="6.14" fill="#23a1e4"/>
<rect x="294.13" y="88.60" width="9.26" height="6.14" fill="#1da9e0"/>
<rect x="302.09" y="88.60" width="9.26" height="6.14" fill="#14b0d8"/>
<rect x="310.05" y="88.60" width="9.26" height="6.14" fill="#06b5cf"/>
<rect x="318.01" y="88.60" width="9.26" height="6.14" fill="#01bac4"/>
<rect x="325.97" y="88.60" width="9.26" height="6.14" fill="#14beb8"/>
<rect x="333.93" y="88.60" width="9.26" height="6.14" fill="#2cc4a6"/>
<rect x="341.89" y="88.60" width="9.26" height="6.14" fill="#3bc992"/>
<rect x="349.85" y="88.60" width="9.26" height="6.14" fill="#57cc7a"/>
<rect x="357.81" y="88.60" width="9.26" height="6.14" fill="#79cc5e"/>
<rect x="365.77" y="88.60" width="9.26" height="6.14" fill="#a1c840"/>
<rect x="373.73" y="88.60" width="9.26" height="6.14" fill="#b2c635"/>
<rect x="381.68" y="88.60" width="9.26" height="6.14" fill="#c2c32c"/>
<rect x="389.64" y="88.60" width="9.26" height="6.14" fill="#d0bf27"/>
<rect x="397.60" y="88.60" width="9.26" height="6.14" fill="#debc29"/>
<rect x="405.56" y="88.60" width="9.26" height="6.14" fill="#eaba30"/>
<rect x="413.52" y="88.60" width="9.26" height="6.14" fill="#f1ba37"/>
<rect x="421.48" y="88.60" width="9.26" height="6.14" fill="#f5ba3b"/>
<rect x="429.44" y="88.60" width="9.26" height="6.14" fill="#fbbb3e"/>
<rect x="437.40" y="88.60" width="9.26" height="6.14" fill="#febe3c"/>
<rect x="445.36" y="88.60" width="9.26" height="6.14" fill="#fec13a"/>
<rect x="453.32" y="88.60" width="17.22" height="6.14" fill="#fec239"/>
<rect x="469.24" y="88.60" width="17.22" height="6.14" fill="#fec438"/>
<rect x="485.15" y="88.60" width="17.22" height="6.14" fill="#fec537"/>
<rect x="501.07" y="88.60" width="17.22" height="6.14" fill="#fec735"/>
<rect x="516.99" y="88.60" width="17.22" height="6.14" fill="#fec834"/>
<rect x="532.91" y="88.60" width="17.22" height="6.14" fill="#feca33"/>
<rect x="548.83" y="88.60" width="17.22" height="6.14" fill="#fdcb32"/>
<rect x="564.75" y="88.60" width="47.75" height="6.14" fill="#fdcd31"/>
<rect x="47.40" y="93.43" width="128.65" height="6.14" fill="#3e26a8"/>
<rect x="174.75" y="93.43" width="9.26" height="6.14" fill="#3e27ac"/>
<rect x="182.71" y="93.43" width="9.26" height="6.14" fill="#3f28af"/>
<rect x="190.66" y="93.43" width="9.26" height="6.14" fill="#3f29b2"/>
<rect x="198.62" y="93.43" width="9.26" height="6.14" fill="#402ab4"/>
<rect x="206.58" y="93.43" width="9.26" height="6.14" fill="#402bb7"/>
<rect x="214.54" y="93.43" width="9.26" height="6.14" fill="#412cba"/>
<rect x="222.50" y="93.43" width="9.26" height="6.14" fill="#422ebf"/>
<rect x="230.46" y="93.43" width="9.26" height="6.14" fill="#422fc2"/>
<rect x="238.42" y="93.43" width="9.26" height="6.14" fill="#4331c8"/>
<rect x="246.38" y="93.43" width="9.26" height="6.14" fill="#4332ca"/>
<rect x="254.34" y="93.43" width="9.26" height="6.14" fill="#4538d7"/>
<rect x="262.30" y="93.43" width="9.26" height="6.14" fill="#473fe3"/>
<rect x="270.26" y="93.43" width="9.26" height="6.14" fill="#4746eb"/>
<rect x="278.22" y="93.43" width="9.26" height="6.14" fill="#484ef1"/>
<rect x="286.17" y="93.43" width="9.26" height="6.14" fill="#4854f6"/>
<rect x="294.13" y="93.43" width="9.26" height="6.14" fill="#475bfa"/>
<rect x="302.09" y="93.43" width="9.26" height="6.14" fill="#4562fc"/>
<rect x="310.05" y="93.43" width="9.26" height="6.14" fill="#426afe"/>
<rect x="318.01" y="93.43" width="9.26" height="6.14" fill="#3c71ff"/>
<rect x="325.97" y="93.43" width="9.26" height="6.14" fill="#337afd"/>
<rect x="333.93" y="93.43" width="9.26" height="6.14" fill="#2f82fa"/>
<rect x="341.89" y="93.43" width="9.26" height="6.14" fill="#2d88f6"/>
<rect x="349.85" y="93.43" width="9.26" height="6.14" fill="#2c8ff1"/>
<rect x="357.81" y="93.43" width="9.26" height="6.14" fill="#2895ec"/>
<rect x="365.77" y="93.43" width="9.26" height="6.14" fill="#259be8"/>
<rect x="373.73" y="93.43" width="9.26" height="6.14" fill="#23a1e4"/>
<rect x="381.68" y="93.43" width="9.26" height="6.14" fill="#1fa6e2"/>
<rect x="389.64" y="93.43" width="9.26" height="6.14" fill="#1babde"/>
<rect x="397.60" y="93.43" width="9.26" height="6.14" fill="#14b0d8"/>
<rect x="405.56" y="93.43" width="9.26" height="6.14" fill="#0bb3d2"/>
<rect x="413.52" y="93.43" width="9.26" height="6.14" fill="#01b7ca"/>
<rect x="421.48" y="93.43" width="9.26" height="6.14" fill="#02bbc2"/>
<rect x="429.44" y="93.43" width="9.26" height="6.14" fill="#14beb8"/>
<rect x="437.40" y="93.43" width="9.26" height="6.14" fill="#23c1af"/>
<rect x="445.36" y="93.43" width="9.26" height="6.14" fill="#2cc4a6"/>
<rect x="453.32" y="93.43" width="9.26" height="6.14" fill="#33c79d"/>
<rect x="461.28" y="93.43" width="9.26" height="6.14" fill="#3bc992"/>
<rect x="469.24" y="93.43" width="9.26" height="6.14" fill="#48cb86"/>
<rect x="477.19" y="93.43" width="9.26" height="6.14" fill="#57cc7a"/>
<rect x="485.15" y="93.43" width="9.26" height="6.14" fill="#67cd6c"/>
<rect x="493.11" y="93.43" width="9.26" height="6.14" fill="#7dcc5b"/>
<rect x="501.07" y="93.43" width="9.26" height="6.14" fill="#93ca4b"/>
<rect x="509.03" y="93.43" width="9.26" height="6.14" fill="#a4c83e"/>
<rect x="516.99" y="93.43" width="9.26" height="6.14" fill="#b8c431"/>
<rect x="524.95" y="93.43" width="9.26" height="6.14" fill="#cbc128"/>
<rect x="532.91" y="93.43" width="9.26" height="6.14" fill="#d6be27"/>
<rect x="540.87" y="93.43" width="9.26" height="6.14" fill="#e1bc2a"/>
<rect x="548.83" y="93.43" width="9.26" height="6.14" fill="#eaba30"/>
<rect x="556.79" y="93.43" width="9.26" height="6.14" fill="#f3ba39"/>
<rect x="564.75" y="93.43" width="9.26" height="6.14" fill="#fbbb3e"/>
<rect x="572.70" y="93.43" width="9.26" height="6.14" fill="#fcbc3e"/>
<rect x="580.66" y="93.43" width="9.26" height="6.14" fill="#febd3d"/>
<rect x="588.62" y="93.43" width="9.26" height="6.14" fill="#febe3c"/>
<rect x="596.58" y="93.43" width="9.26" height="6.14" fill="#fec03b"/>
<rect x="604.54" y="93.43" width="7.96" height="6.14" fill="#fec13a"/>
<rect x="47.40" y="98.27" width="168.44" height="6.14" fill="#3e26a8"/>
<rect x="214.54" y="98.27" width="9.26" height="6.14" fill="#3e27ac"/>
<rect x="222.50" y="98.27" width="9.26" height="6.14" fill="#3f28af"/>
<rect x="230.46" y="98.27" width="9.26" height="6.14" fill="#3f29b2"/>
<rect x="238.42" y="98.27" width="9.26" height="6.14" fill="#402ab4"/>
<rect x="246.38" y="98.27" width="9.26" height="6.14" fill="#402bb7"/>
<rect x="254.34" y="98.27" width="9.26" height="6.14" fill="#422ebf"/>
<rect x="262.30" y="98.27" width="9.26" height="6.14" fill="#4331c8"/>
<rect x="270.26" y="98.27" width="9.26" height="6.14" fill="#4434d0"/>
<rect x="278.22" y="98.27" width="9.26" height="6.14" fill="#4538d7"/>
<rect x="286.17" y="98.27" width="9.26" height="6.14" fill="#463bde"/>
<rect x="294.13" y="98.27" width="9.26" height="6.14" fill="#4741e5"/>
<rect x="302.09" y="98.27" width="9.26" height="6.14" fill="#4745e9"/>
<rect x="310.05" y="98.27" width="9.26" height="6.14" fill="#484bee"/>
<rect x="318.01" y="98.27" width="9.26" height="6.14" fill="#484ff2"/>
<rect x="325.97" y="98.27" width="9.26" height="6.14" fill="#4854f6"/>
<rect x="333.93" y="98.27" width="9.26" height="6.14" fill="#4759f8"/>
<rect x="341.89" y="98.27" width="9.26" height="6.14" fill="#465efb"/>
<rect x="349.85" y="98.27" width="9.26" height="6.14" fill="#4564fd"/>
<rect x="357.81" y="98.27" width="9.26" height="6.14" fill="#4368fe"/>
<rect x="365.77" y="98.27" width="9.26" height="6.14" fill="#3f6eff"/>
<rect x="373.73" y="98.27" width="9.26" height="6.14" fill="#3677fe"/>
<rect x="381.68" y="98.27" width="9.26" height="6.14" fill="#2f82fa"/>
<rect x="389.64" y="98.27" width="9.26" height="6.14" fill="#2d8bf4"/>
<rect x="397.60" y="98.27" width="9.26" height="6.14" fill="#2a93ee"/>
<rect x="405.56" y="98.27" width="9.26" height="6.14" fill="#259be8"/>
<rect x="413.52" y="98.27" width="9.26" height="6.14" fill="#23a1e4"/>
<rect x="421.48" y="98.27" width="9.26" height="6.14" fill="#1ea7e1"/>
<rect x="429.44" y="98.27" width="9.26" height="6.14" fill="#1aacdd"/>
<rect x="437.40" y="98.27" width="9.26" height="6.14" fill="#10b2d5"/>
<rect x="445.36" y="98.27" width="9.26" height="6.14" fill="#04b6ce"/>
<rect x="453.32" y="98.27" width="9.26" height="6.14" fill="#01b7ca"/>
<rect x="461.28" y="98.27" width="9.26" height="6.14" fill="#00bac6"/>
<rect x="469.24" y="98.27" width="9.26" height="6.14" fill="#02bbc2"/>
<rect x="477.19" y="98.27" width="9.26" height="6.14" fill="#09bdbd"/>
<rect x="485.15" y="98.27" width="9.26" height="6.14" fill="#14beb8"/>
<rect x="493.11" y="98.27" width="9.26" height="6.14" fill="#1ac0b5"/>
<rect x="501.07" y="98.27" width="9.26" height="6.14" fill="#23c1af"/>
<rect x="509.03" y="98.27" width="9.26" height="6.14" fill="#27c2ac"/>
<rect x="516.99" y="98.27" width="9.26" height="6.14" fill="#2cc4a6"/>
<rect x="524.95" y="98.27" width="9.26" height="6.14" fill="#2fc5a3"/>
<rect x="532.91" y="98.27" width="9.26" height="6.14" fill="#33c79d"/>
<rect x="540.87" y="98.27" width="9.26" height="6.14" fill="#36c899"/>
<rect x="548.83" y="98.27" width="9.26" height="6.14" fill="#3bc992"/>
<rect x="556.79" y="98.27" width="9.26" height="6.14" fill="#42ca8b"/>
<rect x="564.75" y="98.27" width="9.26" height="6.14" fill="#48cb86"/>
<rect x="572.70" y="98.27" width="9.26" height="6.14" fill="#4ecc81"/>
<rect x="580.66" y="98.27" width="9.26" height="6.14" fill="#54cc7c"/>
<rect x="588.62" y="98.27" width="9.26" height="6.14" fill="#5acc77"/>
<rect x="596.58" y="98.27" width="9.26" height="6.14" fill="#61cd72"/>
<rect x="604.54" y="98.27" width="7.96" height="6.14" fill="#67cd6c"/>
<rect x="47.40" y="103.11" width="248.03" height="6.14" fill="#3e26a8"/>
<rect x="294.13" y="103.11" width="9.26" height="6.14" fill="#3e27ac"/>
<rect x="302.09" y="103.11" width="9.26" height="6.14" fill="#3f28af"/>
<rect x="310.05" y="103.11" width="9.26" height="6.14" fill="#3f29b2"/>
<rect x="318.01" y="103.11" width="9.26" height="6.14" fill="#402ab4"/>
<rect x="325.97" y="103.11" width="9.26" height="6.14" fill="#402bb7"/>
<rect x="333.93" y="103.11" width="9.26" height="6.14" fill="#412cba"/>
<rect x="341.89" y="103.11" width="9.26" height="6.14" fill="#422ebf"/>
<rect x="349.85" y="103.11" width="9.26" height="6.14" fill="#422fc2"/>
<rect x="357.81" y="103.11" width="9.26" height="6.14" fill="#4331c8"/>
<rect x="365.77" y="103.11" width="9.26" height="6.14" fill="#4332ca"/>
<rect x="373.73" y="103.11" width="9.26" height="6.14" fill="#463bde"/>
<rect x="381.68" y="103.11" width="9.26" height="6.14" fill="#4746eb"/>
<rect x="389.64" y="103.11" width="9.26" height="6.14" fill="#4850f3"/>
<rect x="397.60" y="103.11" width="9.26" height="6.14" fill="#475bfa"/>
<rect x="405.56" y="103.11" width="9.26" height="6.14" fill="#4367fd"/>
<rect x="413.52" y="103.11" width="9.26" height="6.14" fill="#3c71ff"/>
<rect x="421.48" y="103.11" width="9.26" height="6.14" fill="#317dfc"/>
<rect x="429.44" y="103.11" width="9.26" height="6.14" fill="#2d88f6"/>
<rect x="437.40" y="103.11" width="9.26" height="6.14" fill="#2b91ef"/>
<rect x="445.36" y="103.11" width="9.26" height="6.14" fill="#259be8"/>
<rect x="453.32" y="103.11" width="9.26" height="6.14" fill="#23a0e5"/>
<rect x="461.28" y="103.11" width="9.26" height="6.14" fill="#21a3e3"/>
<rect x="469.24" y="103.11" width="9.26" height="6.14" fill="#1da8e1"/>
<rect x="477.19" y="103.11" width="9.26" height="6.14" fill="#1babde"/>
<rect x="485.15" y="103.11" width="9.26" height="6.14" fill="#16afd9"/>
<rect x="493.11" y="103.11" width="9.26" height="6.14" fill="#0eb3d4"/>
<rect x="501.07" y="103.11" width="9.26" height="6.14" fill="#04b6ce"/>
<rect x="509.03" y="103.11" width="9.26" height="6.14" fill="#00b9c7"/>
<rect x="516.99" y="103.11" width="9.26" height="6.14" fill="#04bbc1"/>
<rect x="524.95" y="103.11" width="9.26" height="6.14" fill="#14beb8"/>
<rect x="532.91" y="103.11" width="9.26" height="6.14" fill="#20c1b1"/>
<rect x="540.87" y="103.11" width="9.26" height="6.14" fill="#29c3aa"/>
<rect x="548.83" y="103.11" width="9.26" height="6.14" fill="#2fc5a3"/>
<rect x="556.79" y="103.11" width="9.26" height="6.14" fill="#35c79b"/>
<rect x="564.75" y="103.11" width="9.26" height="6.14" fill="#3bc992"/>
<rect x="572.70" y="103.11" width="9.26" height="6.14" fill="#42ca8b"/>
<rect x="580.66" y="103.11" width="9.26" height="6.14" fill="#48cb86"/>
<rect x="588.62" y="103.11" width="9.26" height="6.14" fill="#51cc7f"/>
<rect x="596.58" y="103.11" width="9.26" height="6.14" fill="#57cc7a"/>
<rect x="604.54" y="103.11" width="7.96" height="6.14" fill="#61cd72"/>
<rect x="47.40" y="107.95" width="208.24" height="6.14" fill="#3e26a8"/>
<rect x="254.34" y="107.95" width="9.26" height="6.14" fill="#3e27ac"/>
<rect x="262.30" y="107.95" width="9.26" height="6.14" fill="#3f29b2"/>
<rect x="270.26" y="107.95" width="9.26" height="6.14" fill="#402ab4"/>
<rect x="278.22" y="107.95" width="9.26" height="6.14" fill="#412cba"/>
<rect x="286.17" y="107.95" width="9.26" height="6.14" fill="#412dbd"/>
<rect x="294.13" y="107.95" width="9.26" height="6.14" fill="#4331c8"/>
<rect x="302.09" y="107.95" width="9.26" height="6.14" fill="#4434d0"/>
<rect x="310.05" y="107.95" width="9.26" height="6.14" fill="#4639d9"/>
<rect x="318.01" y="107.95" width="9.26" height="6.14" fill="#473ee1"/>
<rect x="325.97" y="107.95" width="9.26" height="6.14" fill="#4742e6"/>
<rect x="333.93" y="107.95" width="9.26" height="6.14" fill="#4849ed"/>
<rect x="341.89" y="107.95" width="9.26" height="6.14" fill="#4850f3"/>
<rect x="349.85" y="107.95" width="9.26" height="6.14" fill="#4757f7"/>
<rect x="357.81" y="107.95" width="9.26" height="6.14" fill="#4660fb"/>
<rect x="365.77" y="107.95" width="9.26" height="6.14" fill="#4367fd"/>
<rect x="373.73" y="107.95" width="9.26" height="6.14" fill="#3f6eff"/>
<rect x="381.68" y="107.95" width="9.26" height="6.14" fill="#3677fe"/>
<rect x="389.64" y="107.95" width="9.26" height="6.14" fill="#2f80fa"/>
<rect x="397.60" y="107.95" width="9.26" height="6.14" fill="#2e87f7"/>
<rect x="405.56" y="107.95" width="9.26" height="6.14" fill="#2c8ff1"/>
<rect x="413.52" y="107.95" width="9.26" height="6.14" fill="#2994ed"/>
<rect x="421.48" y="107.95" width="9.26" height="6.14" fill="#269ae8"/>
<rect x="429.44" y="107.95" width="9.26" height="6.14" fill="#23a0e5"/>
<rect x="437.40" y="107.95" width="9.26" height="6.14" fill="#20a5e3"/>
<rect x="445.36" y="107.95" width="9.26" height="6.14" fill="#1caadf"/>
<rect x="453.32" y="107.95" width="9.26" height="6.14" fill="#1aacdd"/>
<rect x="461.28" y="107.95" width="9.26" height="6.14" fill="#16afd9"/>
<rect x="469.24" y="107.95" width="9.26" height="6.14" fill="#10b2d5"/>
<rect x="477.19" y="107.95" width="9.26" height="6.14" fill="#0bb3d2"/>
<rect x="485.15" y="107.95" width="9.26" height="6.14" fill="#04b6ce"/>
<rect x="493.11" y="107.95" width="9.26" height="6.14" fill="#00b8c9"/>
<rect x="501.07" y="107.95" width="9.26" height="6.14" fill="#02bbc2"/>
<rect x="509.03" y="107.95" width="9.26" height="6.14" fill="#09bdbd"/>
<rect x="516.99" y="107.95" width="9.26" height="6.14" fill="#17bfb6"/>
<rect x="524.95" y="107.95" width="9.26" height="6.14" fill="#23c1af"/>
<rect x="532.91" y="107.95" width="9.26" height="6.14" fill="#29c3aa"/>
<rect x="540.87" y="107.95" width="9.26" height="6.14" fill="#2ec4a5"/>
<rect x="548.83" y="107.95" width="9.26" height="6.14" fill="#32c69f"/>
<rect x="556.79" y="107.95" width="9.26" height="6.14" fill="#36c899"/>
<rect x="564.75" y="107.95" width="9.26" height="6.14" fill="#3bc992"/>
<rect x="572.70" y="107.95" width="9.26" height="6.14" fill="#40ca8d"/>
<rect x="580.66" y="107.95" width="9.26" height="6.14" fill="#45cb89"/>
<rect x="588.62" y="107.95" width="9.26" height="6.14" fill="#4bcb84"/>
<rect x="596.58" y="107.95" width="9.26" height="6.14" fill="#51cc7f"/>
<rect x="604.54" y="107.95" width="7.96" height="6.14" fill="#57cc7a"/>
<rect x="47.40" y="112.79" width="88.85" height="6.14" fill="#3e26a8"/>
<rect x="134.95" y="112.79" width="9.26" height="6.14" fill="#3e27ac"/>
<rect x="142.91" y="112.79" width="9.26" height="6.14" fill="#3f28af"/>
<rect x="150.87" y="112.79" width="9.26" height="6.14" fill="#3f29b2"/>
<rect x="158.83" y="112.79" width="9.26" height="6.14" fill="#402ab4"/>
<rect x="166.79" y="112.79" width="9.26" height="6.14" fill="#402bb7"/>
<rect x="174.75" y="112.79" width="9.26" height="6.14" fill="#422ebf"/>
<rect x="182.71" y="112.79" width="9.26" height="6.14" fill="#4331c8"/>
<rect x="190.66" y="112.79" width="9.26" height="6.14" fill="#4434d0"/>
<rect x="198.62" y="112.79" width="9.26" height="6.14" fill="#4538d7"/>
<rect x="206.58" y="112.79" width="9.26" height="6.14" fill="#463bde"/>
<rect x="214.54" y="112.79" width="9.26" height="6.14" fill="#4742e6"/>
<rect x="222.50" y="112.79" width="9.26" height="6.14" fill="#4849ed"/>
<rect x="230.46" y="112.79" width="9.26" height="6.14" fill="#4850f3"/>
<rect x="238.42" y="112.79" width="9.26" height="6.14" fill="#4757f7"/>
<rect x="246.38" y="112.79" width="9.26" height="6.14" fill="#4660fb"/>
<rect x="254.34" y="112.79" width="9.26" height="6.14" fill="#4367fd"/>
<rect x="262.30" y="112.79" width="9.26" height="6.14" fill="#3f6eff"/>
<rect x="270.26" y="112.79" width="9.26" height="6.14" fill="#3876fe"/>
<rect x="278.22" y="112.79" width="9.26" height="6.14" fill="#317dfc"/>
<rect x="286.17" y="112.79" width="9.26" height="6.14" fill="#2e84f8"/>
<rect x="294.13" y="112.79" width="9.26" height="6.14" fill="#2d8af5"/>
<rect x="302.09" y="112.79" width="9.26" height="6.14" fill="#2c8ff1"/>
<rect x="310.05" y="112.79" width="9.26" height="6.14" fill="#2994ed"/>
<rect x="318.01" y="112.79" width="9.26" height="6.14" fill="#269ae8"/>
<rect x="325.97" y="112.79" width="9.26" height="6.14" fill="#249fe5"/>
<rect x="333.93" y="112.79" width="9.26" height="6.14" fill="#21a3e3"/>
<rect x="341.89" y="112.79" width="9.26" height="6.14" fill="#1da9e0"/>
<rect x="349.85" y="112.79" width="9.26" height="6.14" fill="#19addc"/>
<rect x="357.81" y="112.79" width="9.26" height="6.14" fill="#10b2d5"/>
<rect x="365.77" y="112.79" width="9.26" height="6.14" fill="#04b6ce"/>
<rect x="373.73" y="112.79" width="9.26" height="6.14" fill="#01bac4"/>
<rect x="381.68" y="112.79" width="9.26" height="6.14" fill="#14beb8"/>
<rect x="389.64" y="112.79" width="9.26" height="6.14" fill="#27c2ac"/>
<rect x="397.60" y="112.79" width="9.26" height="6.14" fill="#31c5a1"/>
<rect x="405.56" y="112.79" width="9.26" height="6.14" fill="#3bc992"/>
<rect x="413.52" y="112.79" width="9.26" height="6.14" fill="#45cb89"/>
<rect x="421.48" y="112.79" width="9.26" height="6.14" fill="#51cc7f"/>
<rect x="429.44" y="112.79" width="9.26" height="6.14" fill="#5ecd74"/>
<rect x="437.40" y="112.79" width="9.26" height="6.14" fill="#6bcd69"/>
<rect x="445.36" y="112.79" width="9.26" height="6.14" fill="#79cc5e"/>
<rect x="453.32" y="112.79" width="9.26" height="6.14" fill="#88cb53"/>
<rect x="461.28" y="112.79" width="9.26" height="6.14" fill="#93ca4b"/>
<rect x="469.24" y="112.79" width="9.26" height="6.14" fill="#9dc943"/>
<rect x="477.19" y="112.79" width="9.26" height="6.14" fill="#a7c73b"/>
<rect x="485.15" y="112.79" width="9.26" height="6.14" fill="#b2c635"/>
<rect x="493.11" y="112.79" width="9.26" height="6.14" fill="#b5c533"/>
<rect x="501.07" y="112.79" width="9.26" height="6.14" fill="#bbc42f"/>
<rect x="509.03" y="112.79" width="9.26" height="6.14" fill="#bec32d"/>
<rect x="516.99" y="112.79" width="9.26" height="6.14" fill="#c5c22a"/>
<rect x="524.95" y="112.79" width="9.26" height="6.14" fill="#cbc128"/>
<rect x="532.91" y="112.79" width="9.26" height="6.14" fill="#cec027"/>
<rect x="540.87" y="112.79" width="9.26" height="6.14" fill="#d0bf27"/>
<rect x="548.83" y="112.79" width="9.26" height="6.14" fill="#d3bf27"/>
<rect x="556.79" y="112.79" width="9.26" height="6.14" fill="#d6be27"/>
<rect x="564.75" y="112.79" width="17.22" height="6.14" fill="#d9be28"/>
<rect x="580.66" y="112.79" width="17.22" height="6.14" fill="#dbbd28"/>
<rect x="596.58" y="112.79" width="15.92" height="6.14" fill="#debc29"/>
<rect x="47.40" y="117.62" width="136.61" height="6.14" fill="#3e26a8"/>
<rect x="182.71" y="117.62" width="17.22" height="6.14" fill="#3e27ac"/>
<rect x="198.62" y="117.62" width="17.22" height="6.14" fill="#3f28af"/>
<rect x="214.54" y="117.62" width="9.26" height="6.14" fill="#402bb7"/>
<rect x="222.50" y="117.62" width="9.26" height="6.14" fill="#412dbd"/>
<rect x="230.46" y="117.62" width="9.26" height="6.14" fill="#4330c5"/>
<rect x="238.42" y="117.62" width="9.26" height="6.14" fill="#4332ca"/>
<rect x="246.38" y="117.62" width="9.26" height="6.14" fill="#4535d2"/>
<rect x="254.34" y="117.62" width="9.26" height="6.14" fill="#463adc"/>
<rect x="262.30" y="117.62" width="9.26" height="6.14" fill="#4741e5"/>
<rect x="270.26" y="117.62" width="9.26" height="6.14" fill="#4848ec"/>
<rect x="278.22" y="117.62" width="9.26" height="6.14" fill="#484ef1"/>
<rect x="286.17" y="117.62" width="9.26" height="6.14" fill="#4854f6"/>
<rect x="294.13" y="117.62" width="9.26" height="6.14" fill="#475bfa"/>
<rect x="302.09" y="117.62" width="9.26" height="6.14" fill="#4562fc"/>
<rect x="310.05" y="117.62" width="9.26" height="6.14" fill="#426afe"/>
<rect x="318.01" y="117.62" width="9.26" height="6.14" fill="#3c71ff"/>
<rect x="325.97" y="117.62" width="9.26" height="6.14" fill="#337afd"/>
<rect x="333.93" y="117.62" width="9.26" height="6.14" fill="#2f80fa"/>
<rect x="341.89" y="117.62" width="9.26" height="6.14" fill="#2e86f8"/>
<rect x="349.85" y="117.62" width="9.26" height="6.14" fill="#2d8bf4"/>
<rect x="357.81" y="117.62" width="9.26" height="6.14" fill="#2c90f0"/>
<rect x="365.77" y="117.62" width="9.26" height="6.14" fill="#2895ec"/>
<rect x="373.73" y="117.62" width="9.26" height="6.14" fill="#259be8"/>
<rect x="381.68" y="117.62" width="9.26" height="6.14" fill="#23a1e4"/>
<rect x="389.64" y="117.62" width="9.26" height="6.14" fill="#1ea7e1"/>
<rect x="397.60" y="117.62" width="9.26" height="6.14" fill="#1aacdd"/>
<rect x="405.56" y="117.62" width="9.26" height="6.14" fill="#10b2d5"/>
<rect x="413.52" y="117.62" width="9.26" height="6.14" fill="#0eb3d4"/>
<rect x="421.48" y="117.62" width="9.26" height="6.14" fill="#08b4d1"/>
<rect x="429.44" y="117.62" width="9.26" height="6.14" fill="#06b5cf"/>
<rect x="437.40" y="117.62" width="9.26" height="6.14" fill="#02b7cc"/>
<rect x="445.36" y="117.62" width="9.26" height="6.14" fill="#01b7ca"/>
<rect x="453.32" y="117.62" width="17.22" height="6.14" fill="#00b8c9"/>
<rect x="469.24" y="117.62" width="17.22" height="6.14" fill="#00b9c7"/>
<rect x="485.15" y="117.62" width="17.22" height="6.14" fill="#00bac6"/>
<rect x="501.07" y="117.62" width="17.22" height="6.14" fill="#01bac4"/>
<rect x="516.99" y="117.62" width="17.22" height="6.14" fill="#02bbc2"/>
<rect x="532.91" y="117.62" width="17.22" height="6.14" fill="#04bbc1"/>
<rect x="548.83" y="117.62" width="17.22" height="6.14" fill="#06bcbf"/>
<rect x="564.75" y="117.62" width="17.22" height="6.14" fill="#09bdbd"/>
<rect x="580.66" y="117.62" width="17.22" height="6.14" fill="#0dbdbc"/>
<rect x="596.58" y="117.62" width="9.26" height="6.14" fill="#10beba"/>
<rect x="604.54" y="117.62" width="7.96" height="6.14" fill="#14beb8"/>
<rect x="47.40" y="122.46" width="128.65" height="4.84" fill="#3e26a8"/>
<rect x="174.75" y="122.46" width="9.26" height="4.84" fill="#3e27ac"/>
<rect x="182.71" y="122.46" width="9.26" height="4.84" fill="#3f29b2"/>
<rect x="190.66" y="122.46" width="9.26" height="4.84" fill="#402ab4"/>
<rect x="198.62" y="122.46" width="9.26" height="4.84" fill="#412cba"/>
<rect x="206.58" y="122.46" width="9.26" height="4.84" fill="#412dbd"/>
<rect x="214.54" y="122.46" width="9.26" height="4.84" fill="#4330c5"/>
<rect x="222.50" y="122.46" width="9.26" height="4.84" fill="#4433cd"/>
<rect x="230.46" y="122.46" width="9.26" height="4.84" fill="#4537d5"/>
<rect x="238.42" y="122.46" width="9.26" height="4.84" fill="#463adc"/>
<rect x="246.38" y="122.46" width="9.26" height="4.84" fill="#473fe3"/>
<rect x="254.34" y="122.46" width="9.26" height="4.84" fill="#4745e9"/>
<rect x="262.30" y="122.46" width="9.26" height="4.84" fill="#484cf0"/>
<rect x="270.26" y="122.46" width="9.26" height="4.84" fill="#4852f4"/>
<rect x="278.22" y="122.46" width="9.26" height="4.84" fill="#4759f8"/>
<rect x="286.17" y="122.46" width="9.26" height="4.84" fill="#4660fb"/>
<rect x="294.13" y="122.46" width="9.26" height="4.84" fill="#4368fe"/>
<rect x="302.09" y="122.46" width="9.26" height="4.84" fill="#3c71ff"/>
<rect x="310.05" y="122.46" width="9.26" height="4.84" fill="#337afd"/>
<rect x="318.01" y="122.46" width="9.26" height="4.84" fill="#2e83f9"/>
<rect x="325.97" y="122.46" width="9.26" height="4.84" fill="#2d8bf4"/>
<rect x="333.93" y="122.46" width="9.26" height="4.84" fill="#2b91ef"/>
<rect x="341.89" y="122.46" width="9.26" height="4.84" fill="#2699e9"/>
<rect x="349.85" y="122.46" width="9.26" height="4.84" fill="#249fe5"/>
<rect x="357.81" y="122.46" width="9.26" height="4.84" fill="#20a5e3"/>
<rect x="365.77" y="122.46" width="9.26" height="4.84" fill="#1caadf"/>
<rect x="373.73" y="122.46" width="9.26" height="4.84" fill="#1aacdd"/>
<rect x="381.68" y="122.46" width="9.26" height="4.84" fill="#16afd9"/>
<rect x="389.64" y="122.46" width="9.26" height="4.84" fill="#10b2d5"/>
<rect x="397.60" y="122.46" width="9.26" height="4.84" fill="#0bb3d2"/>
<rect x="405.56" y="122.46" width="17.22" height="4.84" fill="#04b6ce"/>
<rect x="421.48" y="122.46" width="17.22" height="4.84" fill="#02b7cc"/>
<rect x="437.40" y="122.46" width="17.22" height="4.84" fill="#01b7ca"/>
<rect x="453.32" y="122.46" width="17.22" height="4.84" fill="#00b8c9"/>
<rect x="469.24" y="122.46" width="17.22" height="4.84" fill="#00b9c7"/>
<rect x="485.15" y="122.46" width="17.22" height="4.84" fill="#00bac6"/>
<rect x="501.07" y="122.46" width="17.22" height="4.84" fill="#01bac4"/>
<rect x="516.99" y="122.46" width="17.22" height="4.84" fill="#02bbc2"/>
<rect x="532.91" y="122.46" width="17.22" height="4.84" fill="#04bbc1"/>
<rect x="548.83" y="122.46" width="17.22" height="4.84" fill="#06bcbf"/>
<rect x="564.75" y="122.46" width="17.22" height="4.84" fill="#09bdbd"/>
<rect x="580.66" y="122.46" width="17.22" height="4.84" fill="#0dbdbc"/>
<rect x="596.58" y="122.46" width="9.26" height="4.84" fill="#10beba"/>
<rect x="604.54" y="122.46" width="7.96" height="4.84" fill="#14beb8"/>
</g>
<rect x="47.40" y="25.70" width="565.10" height="101.60" fill="none" stroke="#262626" stroke-width="0.8"/>
<path d="M51.38 25.70v5.7M51.38 127.30v-5.7" stroke="#262626" stroke-width="0.7" fill="none"/>
<text x="51.08" y="148.00" text-anchor="middle" font-size="16">-20</text>
<path d="M130.97 25.70v5.7M130.97 127.30v-5.7" stroke="#262626" stroke-width="0.7" fill="none"/>
<text x="130.67" y="148.00" text-anchor="middle" font-size="16">-10</text>
<path d="M210.56 25.70v5.7M210.56 127.30v-5.7" stroke="#262626" stroke-width="0.7" fill="none"/>
<text x="210.26" y="148.00" text-anchor="middle" font-size="16">0</text>
<path d="M290.15 25.70v5.7M290.15 127.30v-5.7" stroke="#262626" stroke-width="0.7" fill="none"/>
<text x="289.85" y="148.00" text-anchor="middle" font-size="16">10</text>
<path d="M369.75 25.70v5.7M369.75 127.30v-5.7" stroke="#262626" stroke-width="0.7" fill="none"/>
<text x="369.45" y="148.00" text-anchor="middle" font-size="16">20</text>
<path d="M449.34 25.70v5.7M449.34 127.30v-5.7" stroke="#262626" stroke-width="0.7" fill="none"/>
<text x="449.04" y="148.00" text-anchor="middle" font-size="16">30</text>
<path d="M528.93 25.70v5.7M528.93 127.30v-5.7" stroke="#262626" stroke-width="0.7" fill="none"/>
<text x="528.63" y="148.00" text-anchor="middle" font-size="16">40</text>
<path d="M608.52 25.70v5.7M608.52 127.30v-5.7" stroke="#262626" stroke-width="0.7" fill="none"/>
<text x="608.22" y="148.00" text-anchor="middle" font-size="16">50</text>
<path d="M47.40 28.12h5.7M612.50 28.12h-5.7" stroke="#262626" stroke-width="0.7" fill="none"/>
<text x="41.80" y="33.72" text-anchor="end" font-size="16">7</text>
<path d="M47.40 52.31h5.7M612.50 52.31h-5.7" stroke="#262626" stroke-width="0.7" fill="none"/>
<text x="41.80" y="57.91" text-anchor="end" font-size="16">8</text>
<path d="M47.40 76.50h5.7M612.50 76.50h-5.7" stroke="#262626" stroke-width="0.7" fill="none"/>
<text x="41.80" y="82.10" text-anchor="end" font-size="16">9</text>
<path d="M47.40 100.69h5.7M612.50 100.69h-5.7" stroke="#262626" stroke-width="0.7" fill="none"/>
<text x="41.80" y="106.29" text-anchor="end" font-size="16">10</text>
<path d="M47.40 124.88h5.7M612.50 124.88h-5.7" stroke="#262626" stroke-width="0.7" fill="none"/>
<text x="41.80" y="130.48" text-anchor="end" font-size="16">11</text>
<text x="139.40" y="15.40" font-size="22.4">Maximum detectable range for untagged drone</text>
<text x="55.90" y="47.10" font-size="22" style="fill:#fff">(a)</text>
<linearGradient id="cb0" x1="0" y1="1" x2="0" y2="0"><stop offset="0.0000" stop-color="#3e26a8"/><stop offset="0.0156" stop-color="#402ab4"/><stop offset="0.0312" stop-color="#422ebf"/><stop offset="0.0469" stop-color="#4332ca"/><stop offset="0.0625" stop-color="#4537d5"/><stop offset="0.0781" stop-color="#463bde"/><stop offset="0.0938" stop-color="#4741e5"/><stop offset="0.1094" stop-color="#4746eb"/><stop offset="0.1250" stop-color="#484cf0"/><stop offset="0.1406" stop-color="#4852f4"/><stop offset="0.1562" stop-color="#4757f7"/><stop offset="0.1719" stop-color="#475dfa"/><stop offset="0.1875" stop-color="#4562fc"/><stop offset="0.2031" stop-color="#4368fe"/><stop offset="0.2188" stop-color="#3f6eff"/><stop offset="0.2344" stop-color="#3974ff"/><stop offset="0.2500" stop-color="#337afd"/><stop offset="0.2656" stop-color="#2f80fa"/><stop offset="0.2812" stop-color="#2e86f8"/><stop offset="0.2969" stop-color="#2d8bf4"/><stop offset="0.3125" stop-color="#2c90f0"/><stop offset="0.3281" stop-color="#2895ec"/><stop offset="0.3438" stop-color="#269ae8"/><stop offset="0.3594" stop-color="#249fe5"/><stop offset="0.3750" stop-color="#21a3e3"/><stop offset="0.3906" stop-color="#1da8e1"/><stop offset="0.4062" stop-color="#1aacdd"/><stop offset="0.4219" stop-color="#14b0d8"/><stop offset="0.4375" stop-color="#0bb3d2"/><stop offset="0.4531" stop-color="#02b7cc"/><stop offset="0.4688" stop-color="#00bac6"/><stop offset="0.4844" stop-color="#06bcbf"/><stop offset="0.5000" stop-color="#14beb8"/><stop offset="0.5156" stop-color="#20c1b1"/><stop offset="0.5312" stop-color="#29c3aa"/><stop offset="0.5469" stop-color="#2fc5a3"/><stop offset="0.5625" stop-color="#35c79b"/><stop offset="0.5781" stop-color="#3bc992"/><stop offset="0.5938" stop-color="#45cb89"/><stop offset="0.6094" stop-color="#51cc7f"/><stop offset="0.6250" stop-color="#5ecd74"/><stop offset="0.6406" stop-color="#6bcd69"/><stop offset="0.6562" stop-color="#79cc5e"/><stop offset="0.6719" stop-color="#88cb53"/><stop offset="0.6875" stop-color="#96ca48"/><stop offset="0.7031" stop-color="#a4c83e"/><stop offset="0.7188" stop-color="#b2c635"/><stop offset="0.7344" stop-color="#bec32d"/><stop offset="0.7500" stop-color="#cbc128"/><stop offset="0.7656" stop-color="#d6be27"/><stop offset="0.7812" stop-color="#e1bc2a"/><stop offset="0.7969" stop-color="#eaba30"/><stop offset="0.8125" stop-color="#f3ba39"/><stop offset="0.8281" stop-color="#fbbb3e"/><stop offset="0.8438" stop-color="#fec03b"/><stop offset="0.8594" stop-color="#fec537"/><stop offset="0.8750" stop-color="#fdcb32"/><stop offset="0.8906" stop-color="#fbd22f"/><stop offset="0.9062" stop-color="#f9d82c"/><stop offset="0.9219" stop-color="#f6de29"/><stop offset="0.9375" stop-color="#f5e526"/><stop offset="0.9531" stop-color="#f5eb23"/><stop offset="0.9688" stop-color="#f6f11f"/><stop offset="0.9844" stop-color="#f8f71a"/><stop offset="1.0000" stop-color="#f9fb15"/></linearGradient>
<rect x="625.20" y="25.70" width="19.00" height="101.60" fill="url(#cb0)" stroke="#262626" stroke-width="0.8"/>
<path d="M644.20 127.30h-1.6" stroke="#262626" stroke-width="0.7"/>
<text x="649.20" y="132.00" font-size="16">0</text>
<path d="M644.20 96.13h-1.6" stroke="#262626" stroke-width="0.7"/>
<text x="649.20" y="100.83" font-size="16">10</text>
<path d="M644.20 64.97h-1.6" stroke="#262626" stroke-width="0.7"/>
<text x="649.20" y="69.67" font-size="16">20</text>
<path d="M644.20 33.80h-1.6" stroke="#262626" stroke-width="0.7"/>
<text x="649.20" y="38.50" font-size="16">30</text>
<text transform="translate(682.30 76.10) rotate(-90)" text-anchor="middle" font-size="18.9">Distance, m</text>
<text transform="translate(17 77.90) rotate(-90)" text-anchor="middle" font-size="22.9">f<tspan font-size="13.9" dy="4.2">carrier</tspan><tspan dy="-4.2">, GHz</tspan></text>
<g>
<rect x="47.40" y="183.60" width="96.81" height="6.14" fill="#3e26a8"/>
<rect x="142.91" y="183.60" width="17.22" height="6.14" fill="#3e27ac"/>
<rect x="158.83" y="183.60" width="17.22" height="6.14" fill="#3f28af"/>
<rect x="174.75" y="183.60" width="9.26" height="6.14" fill="#3f29b2"/>
<rect x="182.71" y="183.60" width="9.26" height="6.14" fill="#402ab4"/>
<rect x="190.66" y="183.60" width="9.26" height="6.14" fill="#402bb7"/>
<rect x="198.62" y="183.60" width="9.26" height="6.14" fill="#412cba"/>
<rect x="206.58" y="183.60" width="9.26" height="6.14" fill="#412dbd"/>
<rect x="214.54" y="183.60" width="9.26" height="6.14" fill="#4331c8"/>
<rect x="222.50" y="183.60" width="9.26" height="6.14" fill="#4434d0"/>
<rect x="230.46" y="183.60" width="9.26" height="6.14" fill="#4639d9"/>
<rect x="238.42" y="183.60" width="9.26" height="6.14" fill="#473ee1"/>
<rect x="246.38" y="183.60" width="9.26" height="6.14" fill="#4742e6"/>
<rect x="254.34" y="183.60" width="9.26" height="6.14" fill="#484bee"/>
<rect x="262.30" y="183.60" width="9.26" height="6.14" fill="#4853f5"/>
<rect x="270.26" y="183.60" width="9.26" height="6.14" fill="#475dfa"/>
<rect x="278.22" y="183.60" width="9.26" height="6.14" fill="#4465fd"/>
<rect x="286.17" y="183.60" width="9.26" height="6.14" fill="#3f6eff"/>
<rect x="294.13" y="183.60" width="9.26" height="6.14" fill="#3974ff"/>
<rect x="302.09" y="183.60" width="9.26" height="6.14" fill="#337afd"/>
<rect x="310.05" y="183.60" width="9.26" height="6.14" fill="#2f80fa"/>
<rect x="318.01" y="183.60" width="9.26" height="6.14" fill="#2e86f8"/>
<rect x="325.97" y="183.60" width="9.26" height="6.14" fill="#2d8bf4"/>
<rect x="333.93" y="183.60" width="9.26" height="6.14" fill="#2c90f0"/>
<rect x="341.89" y="183.60" width="9.26" height="6.14" fill="#2895ec"/>
<rect x="349.85" y="183.60" width="9.26" height="6.14" fill="#259be8"/>
<rect x="357.81" y="183.60" width="9.26" height="6.14" fill="#23a0e5"/>
<rect x="365.77" y="183.60" width="9.26" height="6.14" fill="#20a5e3"/>
<rect x="373.73" y="183.60" width="9.26" height="6.14" fill="#1da9e0"/>
<rect x="381.68" y="183.60" width="9.26" height="6.14" fill="#17aeda"/>
<rect x="389.64" y="183.60" width="9.26" height="6.14" fill="#0eb3d4"/>
<rect x="397.60" y="183.60" width="9.26" height="6.14" fill="#04b6ce"/>
<rect x="405.56" y="183.60" width="9.26" height="6.14" fill="#00bac6"/>
<rect x="413.52" y="183.60" width="9.26" height="6.14" fill="#06bcbf"/>
<rect x="421.48" y="183.60" width="9.26" height="6.14" fill="#14beb8"/>
<rect x="429.44" y="183.60" width="9.26" height="6.14" fill="#20c1b1"/>
<rect x="437.40" y="183.60" width="9.26" height="6.14" fill="#29c3aa"/>
<rect x="445.36" y="183.60" width="9.26" height="6.14" fill="#2fc5a3"/>
<rect x="453.32" y="183.60" width="9.26" height="6.14" fill="#36c899"/>
<rect x="461.28" y="183.60" width="9.26" height="6.14" fill="#42ca8b"/>
<rect x="469.24" y="183.60" width="9.26" height="6.14" fill="#51cc7f"/>
<rect x="477.19" y="183.60" width="9.26" height="6.14" fill="#61cd72"/>
<rect x="485.15" y="183.60" width="9.26" height="6.14" fill="#72cd64"/>
<rect x="493.11" y="183.60" width="9.26" height="6.14" fill="#88cb53"/>
<rect x="501.07" y="183.60" width="9.26" height="6.14" fill="#9dc943"/>
<rect x="509.03" y="183.60" width="9.26" height="6.14" fill="#b2c635"/>
<rect x="516.99" y="183.60" width="9.26" height="6.14" fill="#c5c22a"/>
<rect x="524.95" y="183.60" width="9.26" height="6.14" fill="#d9be28"/>
<rect x="532.91" y="183.60" width="9.26" height="6.14" fill="#e3bc2b"/>
<rect x="540.87" y="183.60" width="9.26" height="6.14" fill="#ecba32"/>
<rect x="548.83" y="183.60" width="9.26" height="6.14" fill="#f5ba3b"/>
<rect x="556.79" y="183.60" width="9.26" height="6.14" fill="#fcbc3e"/>
<rect x="564.75" y="183.60" width="9.26" height="6.14" fill="#fec13a"/>
<rect x="572.70" y="183.60" width="9.26" height="6.14" fill="#fec239"/>
<rect x="580.66" y="183.60" width="9.26" height="6.14" fill="#fec438"/>
<rect x="588.62" y="183.60" width="9.26" height="6.14" fill="#fec537"/>
<rect x="596.58" y="183.60" width="9.26" height="6.14" fill="#fec735"/>
<rect x="604.54" y="183.60" width="7.96" height="6.14" fill="#fec834"/>
<rect x="47.40" y="188.44" width="136.61" height="6.14" fill="#3e26a8"/>
<rect x="182.71" y="188.44" width="17.22" height="6.14" fill="#3e27ac"/>
<rect x="198.62" y="188.44" width="17.22" height="6.14" fill="#3f28af"/>
<rect x="214.54" y="188.44" width="9.26" height="6.14" fill="#402ab4"/>
<rect x="222.50" y="188.44" width="9.26" height="6.14" fill="#412cba"/>
<rect x="230.46" y="188.44" width="9.26" height="6.14" fill="#422ebf"/>
<rect x="238.42" y="188.44" width="9.26" height="6.14" fill="#4330c5"/>
<rect x="246.38" y="188.44" width="9.26" height="6.14" fill="#4332ca"/>
<rect x="254.34" y="188.44" width="9.26" height="6.14" fill="#4538d7"/>
<rect x="262.30" y="188.44" width="9.26" height="6.14" fill="#473fe3"/>
<rect x="270.26" y="188.44" width="9.26" height="6.14" fill="#4746eb"/>
<rect x="278.22" y="188.44" width="9.26" height="6.14" fill="#484ef1"/>
<rect x="286.17" y="188.44" width="9.26" height="6.14" fill="#4854f6"/>
<rect x="294.13" y="188.44" width="9.26" height="6.14" fill="#475bfa"/>
<rect x="302.09" y="188.44" width="9.26" height="6.14" fill="#4562fc"/>
<rect x="310.05" y="188.44" width="9.26" height="6.14" fill="#426afe"/>
<rect x="318.01" y="188.44" width="9.26" height="6.14" fill="#3c71ff"/>
<rect x="325.97" y="188.44" width="9.26" height="6.14" fill="#337afd"/>
<rect x="333.93" y="188.44" width="9.26" height="6.14" fill="#2f80fa"/>
<rect x="341.89" y="188.44" width="9.26" height="6.14" fill="#2e86f8"/>
<rect x="349.85" y="188.44" width="9.26" height="6.14" fill="#2d8bf4"/>
<rect x="357.81" y="188.44" width="9.26" height="6.14" fill="#2c90f0"/>
<rect x="365.77" y="188.44" width="9.26" height="6.14" fill="#2895ec"/>
<rect x="373.73" y="188.44" width="9.26" height="6.14" fill="#259be8"/>
<rect x="381.68" y="188.44" width="9.26" height="6.14" fill="#23a1e4"/>
<rect x="389.64" y="188.44" width="9.26" height="6.14" fill="#1ea7e1"/>
<rect x="397.60" y="188.44" width="9.26" height="6.14" fill="#1aacdd"/>
<rect x="405.56" y="188.44" width="9.26" height="6.14" fill="#10b2d5"/>
<rect x="413.52" y="188.44" width="9.26" height="6.14" fill="#06b5cf"/>
<rect x="421.48" y="188.44" width="9.26" height="6.14" fill="#00b9c7"/>
<rect x="429.44" y="188.44" width="9.26" height="6.14" fill="#04bbc1"/>
<rect x="437.40" y="188.44" width="9.26" height="6.14" fill="#14beb8"/>
<rect x="445.36" y="188.44" width="9.26" height="6.14" fill="#23c1af"/>
<rect x="453.32" y="188.44" width="9.26" height="6.14" fill="#2cc4a6"/>
<rect x="461.28" y="188.44" width="9.26" height="6.14" fill="#33c79d"/>
<rect x="469.24" y="188.44" width="9.26" height="6.14" fill="#3bc992"/>
<rect x="477.19" y="188.44" width="9.26" height="6.14" fill="#48cb86"/>
<rect x="485.15" y="188.44" width="9.26" height="6.14" fill="#57cc7a"/>
<rect x="493.11" y="188.44" width="9.26" height="6.14" fill="#64cd6f"/>
<rect x="501.07" y="188.44" width="9.26" height="6.14" fill="#72cd64"/>
<rect x="509.03" y="188.44" width="9.26" height="6.14" fill="#84cc56"/>
<rect x="516.99" y="188.44" width="9.26" height="6.14" fill="#93ca4b"/>
<rect x="524.95" y="188.44" width="9.26" height="6.14" fill="#a1c840"/>
<rect x="532.91" y="188.44" width="9.26" height="6.14" fill="#abc739"/>
<rect x="540.87" y="188.44" width="9.26" height="6.14" fill="#b5c533"/>
<rect x="548.83" y="188.44" width="9.26" height="6.14" fill="#bec32d"/>
<rect x="556.79" y="188.44" width="9.26" height="6.14" fill="#c8c129"/>
<rect x="564.75" y="188.44" width="9.26" height="6.14" fill="#d0bf27"/>
<rect x="572.70" y="188.44" width="9.26" height="6.14" fill="#d6be27"/>
<rect x="580.66" y="188.44" width="9.26" height="6.14" fill="#d9be28"/>
<rect x="588.62" y="188.44" width="9.26" height="6.14" fill="#debc29"/>
<rect x="596.58" y="188.44" width="9.26" height="6.14" fill="#e1bc2a"/>
<rect x="604.54" y="188.44" width="7.96" height="6.14" fill="#e6bb2d"/>
<rect x="47.40" y="193.29" width="128.65" height="6.14" fill="#3e26a8"/>
<rect x="174.75" y="193.29" width="9.26" height="6.14" fill="#3f28af"/>
<rect x="182.71" y="193.29" width="9.26" height="6.14" fill="#402ab4"/>
<rect x="190.66" y="193.29" width="9.26" height="6.14" fill="#412cba"/>
<rect x="198.62" y="193.29" width="9.26" height="6.14" fill="#422ebf"/>
<rect x="206.58" y="193.29" width="9.26" height="6.14" fill="#4330c5"/>
<rect x="214.54" y="193.29" width="9.26" height="6.14" fill="#4433cd"/>
<rect x="222.50" y="193.29" width="9.26" height="6.14" fill="#4537d5"/>
<rect x="230.46" y="193.29" width="9.26" height="6.14" fill="#463adc"/>
<rect x="238.42" y="193.29" width="9.26" height="6.14" fill="#473ee1"/>
<rect x="246.38" y="193.29" width="9.26" height="6.14" fill="#4742e6"/>
<rect x="254.34" y="193.29" width="9.26" height="6.14" fill="#484bee"/>
<rect x="262.30" y="193.29" width="9.26" height="6.14" fill="#4853f5"/>
<rect x="270.26" y="193.29" width="9.26" height="6.14" fill="#475dfa"/>
<rect x="278.22" y="193.29" width="9.26" height="6.14" fill="#4465fd"/>
<rect x="286.17" y="193.29" width="9.26" height="6.14" fill="#3f6eff"/>
<rect x="294.13" y="193.29" width="9.26" height="6.14" fill="#3974ff"/>
<rect x="302.09" y="193.29" width="9.26" height="6.14" fill="#337afd"/>
<rect x="310.05" y="193.29" width="9.26" height="6.14" fill="#2f80fa"/>
<rect x="318.01" y="193.29" width="9.26" height="6.14" fill="#2e86f8"/>
<rect x="325.97" y="193.29" width="9.26" height="6.14" fill="#2d8bf4"/>
<rect x="333.93" y="193.29" width="9.26" height="6.14" fill="#2c8ff1"/>
<rect x="341.89" y="193.29" width="9.26" height="6.14" fill="#2a93ee"/>
<rect x="349.85" y="193.29" width="9.26" height="6.14" fill="#2798ea"/>
<rect x="357.81" y="193.29" width="9.26" height="6.14" fill="#259be8"/>
<rect x="365.77" y="193.29" width="9.26" height="6.14" fill="#249fe5"/>
<rect x="373.73" y="193.29" width="9.26" height="6.14" fill="#21a3e3"/>
<rect x="381.68" y="193.29" width="9.26" height="6.14" fill="#1da8e1"/>
<rect x="389.64" y="193.29" width="9.26" height="6.14" fill="#1aacdd"/>
<rect x="397.60" y="193.29" width="9.26" height="6.14" fill="#14b0d8"/>
<rect x="405.56" y="193.29" width="9.26" height="6.14" fill="#0bb3d2"/>
<rect x="413.52" y="193.29" width="9.26" height="6.14" fill="#04b6ce"/>
<rect x="421.48" y="193.29" width="9.26" height="6.14" fill="#00b8c9"/>
<rect x="429.44" y="193.29" width="9.26" height="6.14" fill="#01bac4"/>
<rect x="437.40" y="193.29" width="9.26" height="6.14" fill="#06bcbf"/>
<rect x="445.36" y="193.29" width="9.26" height="6.14" fill="#14beb8"/>
<rect x="453.32" y="193.29" width="9.26" height="6.14" fill="#1dc0b3"/>
<rect x="461.28" y="193.29" width="9.26" height="6.14" fill="#27c2ac"/>
<rect x="469.24" y="193.29" width="9.26" height="6.14" fill="#2cc4a6"/>
<rect x="477.19" y="193.29" width="9.26" height="6.14" fill="#32c69f"/>
<rect x="485.15" y="193.29" width="9.26" height="6.14" fill="#36c899"/>
<rect x="493.11" y="193.29" width="9.26" height="6.14" fill="#3bc992"/>
<rect x="501.07" y="193.29" width="9.26" height="6.14" fill="#45cb89"/>
<rect x="509.03" y="193.29" width="9.26" height="6.14" fill="#4ecc81"/>
<rect x="516.99" y="193.29" width="9.26" height="6.14" fill="#57cc7a"/>
<rect x="524.95" y="193.29" width="9.26" height="6.14" fill="#61cd72"/>
<rect x="532.91" y="193.29" width="9.26" height="6.14" fill="#67cd6c"/>
<rect x="540.87" y="193.29" width="9.26" height="6.14" fill="#72cd64"/>
<rect x="548.83" y="193.29" width="9.26" height="6.14" fill="#79cc5e"/>
<rect x="556.79" y="193.29" width="9.26" height="6.14" fill="#84cc56"/>
<rect x="564.75" y="193.29" width="9.26" height="6.14" fill="#8fcb4e"/>
<rect x="572.70" y="193.29" width="9.26" height="6.14" fill="#93ca4b"/>
<rect x="580.66" y="193.29" width="9.26" height="6.14" fill="#96ca48"/>
<rect x="588.62" y="193.29" width="9.26" height="6.14" fill="#9ac946"/>
<rect x="596.58" y="193.29" width="9.26" height="6.14" fill="#9dc943"/>
<rect x="604.54" y="193.29" width="7.96" height="6.14" fill="#a1c840"/>
<rect x="47.40" y="198.13" width="136.61" height="6.14" fill="#3e26a8"/>
<rect x="182.71" y="198.13" width="17.22" height="6.14" fill="#3e27ac"/>
<rect x="198.62" y="198.13" width="17.22" height="6.14" fill="#3f28af"/>
<rect x="214.54" y="198.13" width="9.26" height="6.14" fill="#402ab4"/>
<rect x="222.50" y="198.13" width="9.26" height="6.14" fill="#402bb7"/>
<rect x="230.46" y="198.13" width="9.26" height="6.14" fill="#412dbd"/>
<rect x="238.42" y="198.13" width="9.26" height="6.14" fill="#422ebf"/>
<rect x="246.38" y="198.13" width="9.26" height="6.14" fill="#4330c5"/>
<rect x="254.34" y="198.13" width="9.26" height="6.14" fill="#4331c8"/>
<rect x="262.30" y="198.13" width="9.26" height="6.14" fill="#4433cd"/>
<rect x="270.26" y="198.13" width="9.26" height="6.14" fill="#4434d0"/>
<rect x="278.22" y="198.13" width="9.26" height="6.14" fill="#4537d5"/>
<rect x="286.17" y="198.13" width="9.26" height="6.14" fill="#4538d7"/>
<rect x="294.13" y="198.13" width="9.26" height="6.14" fill="#463bde"/>
<rect x="302.09" y="198.13" width="9.26" height="6.14" fill="#4741e5"/>
<rect x="310.05" y="198.13" width="9.26" height="6.14" fill="#4745e9"/>
<rect x="318.01" y="198.13" width="9.26" height="6.14" fill="#4849ed"/>
<rect x="325.97" y="198.13" width="9.26" height="6.14" fill="#484ef1"/>
<rect x="333.93" y="198.13" width="9.26" height="6.14" fill="#4854f6"/>
<rect x="341.89" y="198.13" width="9.26" height="6.14" fill="#475bfa"/>
<rect x="349.85" y="198.13" width="9.26" height="6.14" fill="#4562fc"/>
<rect x="357.81" y="198.13" width="9.26" height="6.14" fill="#426afe"/>
<rect x="365.77" y="198.13" width="9.26" height="6.14" fill="#3c71ff"/>
<rect x="373.73" y="198.13" width="17.22" height="6.14" fill="#3b73ff"/>
<rect x="389.64" y="198.13" width="17.22" height="6.14" fill="#3974ff"/>
<rect x="405.56" y="198.13" width="9.26" height="6.14" fill="#3876fe"/>
<rect x="413.52" y="198.13" width="9.26" height="6.14" fill="#337afd"/>
<rect x="421.48" y="198.13" width="9.26" height="6.14" fill="#317dfc"/>
<rect x="429.44" y="198.13" width="9.26" height="6.14" fill="#2f82fa"/>
<rect x="437.40" y="198.13" width="9.26" height="6.14" fill="#2e84f8"/>
<rect x="445.36" y="198.13" width="9.26" height="6.14" fill="#2d88f6"/>
<rect x="453.32" y="198.13" width="9.26" height="6.14" fill="#2d8cf3"/>
<rect x="461.28" y="198.13" width="9.26" height="6.14" fill="#2b91ef"/>
<rect x="469.24" y="198.13" width="9.26" height="6.14" fill="#2895ec"/>
<rect x="477.19" y="198.13" width="9.26" height="6.14" fill="#269ae8"/>
<rect x="485.15" y="198.13" width="9.26" height="6.14" fill="#249fe5"/>
<rect x="493.11" y="198.13" width="9.26" height="6.14" fill="#22a2e4"/>
<rect x="501.07" y="198.13" width="9.26" height="6.14" fill="#1ea7e1"/>
<rect x="509.03" y="198.13" width="9.26" height="6.14" fill="#1caadf"/>
<rect x="516.99" y="198.13" width="9.26" height="6.14" fill="#17aeda"/>
<rect x="524.95" y="198.13" width="9.26" height="6.14" fill="#10b2d5"/>
<rect x="532.91" y="198.13" width="9.26" height="6.14" fill="#08b4d1"/>
<rect x="540.87" y="198.13" width="9.26" height="6.14" fill="#01b7ca"/>
<rect x="548.83" y="198.13" width="9.26" height="6.14" fill="#00bac6"/>
<rect x="556.79" y="198.13" width="9.26" height="6.14" fill="#06bcbf"/>
<rect x="564.75" y="198.13" width="9.26" height="6.14" fill="#14beb8"/>
<rect x="572.70" y="198.13" width="9.26" height="6.14" fill="#1dc0b3"/>
<rect x="580.66" y="198.13" width="9.26" height="6.14" fill="#25c2ae"/>
<rect x="588.62" y="198.13" width="9.26" height="6.14" fill="#2bc3a8"/>
<rect x="596.58" y="198.13" width="9.26" height="6.14" fill="#2fc5a3"/>
<rect x="604.54" y="198.13" width="7.96" height="6.14" fill="#33c79d"/>
<rect x="47.40" y="202.97" width="176.40" height="6.14" fill="#3e26a8"/>
<rect x="222.50" y="202.97" width="17.22" height="6.14" fill="#3e27ac"/>
<rect x="238.42" y="202.97" width="17.22" height="6.14" fill="#3f28af"/>
<rect x="254.34" y="202.97" width="9.26" height="6.14" fill="#402ab4"/>
<rect x="262.30" y="202.97" width="9.26" height="6.14" fill="#412cba"/>
<rect x="270.26" y="202.97" width="9.26" height="6.14" fill="#422ebf"/>
<rect x="278.22" y="202.97" width="9.26" height="6.14" fill="#4330c5"/>
<rect x="286.17" y="202.97" width="9.26" height="6.14" fill="#4332ca"/>
<rect x="294.13" y="202.97" width="9.26" height="6.14" fill="#4537d5"/>
<rect x="302.09" y="202.97" width="9.26" height="6.14" fill="#463adc"/>
<rect x="310.05" y="202.97" width="9.26" height="6.14" fill="#473fe3"/>
<rect x="318.01" y="202.97" width="9.26" height="6.14" fill="#4745e9"/>
<rect x="325.97" y="202.97" width="9.26" height="6.14" fill="#4849ed"/>
<rect x="333.93" y="202.97" width="9.26" height="6.14" fill="#4850f3"/>
<rect x="341.89" y="202.97" width="9.26" height="6.14" fill="#4757f7"/>
<rect x="349.85" y="202.97" width="9.26" height="6.14" fill="#4660fb"/>
<rect x="357.81" y="202.97" width="9.26" height="6.14" fill="#4367fd"/>
<rect x="365.77" y="202.97" width="9.26" height="6.14" fill="#3f6eff"/>
<rect x="373.73" y="202.97" width="9.26" height="6.14" fill="#3677fe"/>
<rect x="381.68" y="202.97" width="9.26" height="6.14" fill="#2f82fa"/>
<rect x="389.64" y="202.97" width="9.26" height="6.14" fill="#2d8bf4"/>
<rect x="397.60" y="202.97" width="9.26" height="6.14" fill="#2a93ee"/>
<rect x="405.56" y="202.97" width="9.26" height="6.14" fill="#259be8"/>
<rect x="413.52" y="202.97" width="9.26" height="6.14" fill="#21a3e3"/>
<rect x="421.48" y="202.97" width="9.26" height="6.14" fill="#1caadf"/>
<rect x="429.44" y="202.97" width="9.26" height="6.14" fill="#12b1d6"/>
<rect x="437.40" y="202.97" width="9.26" height="6.14" fill="#02b7cc"/>
<rect x="445.36" y="202.97" width="9.26" height="6.14" fill="#02bbc2"/>
<rect x="453.32" y="202.97" width="9.26" height="6.14" fill="#14beb8"/>
<rect x="461.28" y="202.97" width="9.26" height="6.14" fill="#23c1af"/>
<rect x="469.24" y="202.97" width="9.26" height="6.14" fill="#2cc4a6"/>
<rect x="477.19" y="202.97" width="9.26" height="6.14" fill="#33c79d"/>
<rect x="485.15" y="202.97" width="9.26" height="6.14" fill="#3bc992"/>
<rect x="493.11" y="202.97" width="9.26" height="6.14" fill="#48cb86"/>
<rect x="501.07" y="202.97" width="9.26" height="6.14" fill="#57cc7a"/>
<rect x="509.03" y="202.97" width="9.26" height="6.14" fill="#67cd6c"/>
<rect x="516.99" y="202.97" width="9.26" height="6.14" fill="#79cc5e"/>
<rect x="524.95" y="202.97" width="9.26" height="6.14" fill="#8fcb4e"/>
<rect x="532.91" y="202.97" width="9.26" height="6.14" fill="#96ca48"/>
<rect x="540.87" y="202.97" width="9.26" height="6.14" fill="#9dc943"/>
<rect x="548.83" y="202.97" width="9.26" height="6.14" fill="#a4c83e"/>
<rect x="556.79" y="202.97" width="9.26" height="6.14" fill="#abc739"/>
<rect x="564.75" y="202.97" width="9.26" height="6.14" fill="#b2c635"/>
<rect x="572.70" y="202.97" width="9.26" height="6.14" fill="#b5c533"/>
<rect x="580.66" y="202.97" width="9.26" height="6.14" fill="#bbc42f"/>
<rect x="588.62" y="202.97" width="9.26" height="6.14" fill="#bec32d"/>
<rect x="596.58" y="202.97" width="9.26" height="6.14" fill="#c5c22a"/>
<rect x="604.54" y="202.97" width="7.96" height="6.14" fill="#cbc128"/>
<rect x="47.40" y="207.81" width="88.85" height="6.14" fill="#3e26a8"/>
<rect x="134.95" y="207.81" width="9.26" height="6.14" fill="#3e27ac"/>
<rect x="142.91" y="207.81" width="9.26" height="6.14" fill="#3f28af"/>
<rect x="150.87" y="207.81" width="9.26" height="6.14" fill="#3f29b2"/>
<rect x="158.83" y="207.81" width="9.26" height="6.14" fill="#402ab4"/>
<rect x="166.79" y="207.81" width="9.26" height="6.14" fill="#402bb7"/>
<rect x="174.75" y="207.81" width="9.26" height="6.14" fill="#412cba"/>
<rect x="182.71" y="207.81" width="9.26" height="6.14" fill="#422ebf"/>
<rect x="190.66" y="207.81" width="9.26" height="6.14" fill="#422fc2"/>
<rect x="198.62" y="207.81" width="9.26" height="6.14" fill="#4331c8"/>
<rect x="206.58" y="207.81" width="9.26" height="6.14" fill="#4332ca"/>
<rect x="214.54" y="207.81" width="9.26" height="6.14" fill="#4535d2"/>
<rect x="222.50" y="207.81" width="9.26" height="6.14" fill="#4538d7"/>
<rect x="230.46" y="207.81" width="9.26" height="6.14" fill="#463bde"/>
<rect x="238.42" y="207.81" width="9.26" height="6.14" fill="#473fe3"/>
<rect x="246.38" y="207.81" width="9.26" height="6.14" fill="#4742e6"/>
<rect x="254.34" y="207.81" width="9.26" height="6.14" fill="#484ef1"/>
<rect x="262.30" y="207.81" width="9.26" height="6.14" fill="#4757f7"/>
<rect x="270.26" y="207.81" width="9.26" height="6.14" fill="#4562fc"/>
<rect x="278.22" y="207.81" width="9.26" height="6.14" fill="#3f6eff"/>
<rect x="286.17" y="207.81" width="9.26" height="6.14" fill="#337afd"/>
<rect x="294.13" y="207.81" width="9.26" height="6.14" fill="#2f82fa"/>
<rect x="302.09" y="207.81" width="9.26" height="6.14" fill="#2d88f6"/>
<rect x="310.05" y="207.81" width="9.26" height="6.14" fill="#2c8ff1"/>
<rect x="318.01" y="207.81" width="9.26" height="6.14" fill="#2895ec"/>
<rect x="325.97" y="207.81" width="9.26" height="6.14" fill="#259be8"/>
<rect x="333.93" y="207.81" width="9.26" height="6.14" fill="#21a3e3"/>
<rect x="341.89" y="207.81" width="9.26" height="6.14" fill="#1caadf"/>
<rect x="349.85" y="207.81" width="9.26" height="6.14" fill="#12b1d6"/>
<rect x="357.81" y="207.81" width="9.26" height="6.14" fill="#02b7cc"/>
<rect x="365.77" y="207.81" width="9.26" height="6.14" fill="#02bbc2"/>
<rect x="373.73" y="207.81" width="9.26" height="6.14" fill="#17bfb6"/>
<rect x="381.68" y="207.81" width="9.26" height="6.14" fill="#27c2ac"/>
<rect x="389.64" y="207.81" width="9.26" height="6.14" fill="#31c5a1"/>
<rect x="397.60" y="207.81" width="9.26" height="6.14" fill="#39c994"/>
<rect x="405.56" y="207.81" width="9.26" height="6.14" fill="#48cb86"/>
<rect x="413.52" y="207.81" width="9.26" height="6.14" fill="#57cc7a"/>
<rect x="421.48" y="207.81" width="9.26" height="6.14" fill="#67cd6c"/>
<rect x="429.44" y="207.81" width="9.26" height="6.14" fill="#79cc5e"/>
<rect x="437.40" y="207.81" width="9.26" height="6.14" fill="#8fcb4e"/>
<rect x="445.36" y="207.81" width="9.26" height="6.14" fill="#a1c840"/>
<rect x="453.32" y="207.81" width="9.26" height="6.14" fill="#a7c73b"/>
<rect x="461.28" y="207.81" width="9.26" height="6.14" fill="#b2c635"/>
<rect x="469.24" y="207.81" width="9.26" height="6.14" fill="#b8c431"/>
<rect x="477.19" y="207.81" width="9.26" height="6.14" fill="#c2c32c"/>
<rect x="485.15" y="207.81" width="9.26" height="6.14" fill="#cbc128"/>
<rect x="493.11" y="207.81" width="9.26" height="6.14" fill="#cec027"/>
<rect x="501.07" y="207.81" width="9.26" height="6.14" fill="#d3bf27"/>
<rect x="509.03" y="207.81" width="9.26" height="6.14" fill="#d6be27"/>
<rect x="516.99" y="207.81" width="9.26" height="6.14" fill="#dbbd28"/>
<rect x="524.95" y="207.81" width="9.26" height="6.14" fill="#debc29"/>
<rect x="532.91" y="207.81" width="9.26" height="6.14" fill="#e1bc2a"/>
<rect x="540.87" y="207.81" width="9.26" height="6.14" fill="#e3bc2b"/>
<rect x="548.83" y="207.81" width="9.26" height="6.14" fill="#e6bb2d"/>
<rect x="556.79" y="207.81" width="9.26" height="6.14" fill="#e8bb2e"/>
<rect x="564.75" y="207.81" width="9.26" height="6.14" fill="#eaba30"/>
<rect x="572.70" y="207.81" width="9.26" height="6.14" fill="#ecba32"/>
<rect x="580.66" y="207.81" width="9.26" height="6.14" fill="#efba35"/>
<rect x="588.62" y="207.81" width="9.26" height="6.14" fill="#f1ba37"/>
<rect x="596.58" y="207.81" width="9.26" height="6.14" fill="#f3ba39"/>
<rect x="604.54" y="207.81" width="7.96" height="6.14" fill="#f5ba3b"/>
<rect x="47.40" y="212.66" width="17.22" height="6.14" fill="#3e26a8"/>
<rect x="63.32" y="212.66" width="17.22" height="6.14" fill="#3e27ac"/>
<rect x="79.24" y="212.66" width="17.22" height="6.14" fill="#3f28af"/>
<rect x="95.15" y="212.66" width="17.22" height="6.14" fill="#3f29b2"/>
<rect x="111.07" y="212.66" width="17.22" height="6.14" fill="#402ab4"/>
<rect x="126.99" y="212.66" width="9.26" height="6.14" fill="#402bb7"/>
<rect x="134.95" y="212.66" width="9.26" height="6.14" fill="#412dbd"/>
<rect x="142.91" y="212.66" width="9.26" height="6.14" fill="#422fc2"/>
<rect x="150.87" y="212.66" width="9.26" height="6.14" fill="#4331c8"/>
<rect x="158.83" y="212.66" width="9.26" height="6.14" fill="#4433cd"/>
<rect x="166.79" y="212.66" width="9.26" height="6.14" fill="#4535d2"/>
<rect x="174.75" y="212.66" width="9.26" height="6.14" fill="#463adc"/>
<rect x="182.71" y="212.66" width="9.26" height="6.14" fill="#4741e5"/>
<rect x="190.66" y="212.66" width="9.26" height="6.14" fill="#4848ec"/>
<rect x="198.62" y="212.66" width="9.26" height="6.14" fill="#484ef1"/>
<rect x="206.58" y="212.66" width="9.26" height="6.14" fill="#4854f6"/>
<rect x="214.54" y="212.66" width="9.26" height="6.14" fill="#4759f8"/>
<rect x="222.50" y="212.66" width="9.26" height="6.14" fill="#465efb"/>
<rect x="230.46" y="212.66" width="9.26" height="6.14" fill="#4564fd"/>
<rect x="238.42" y="212.66" width="9.26" height="6.14" fill="#4368fe"/>
<rect x="246.38" y="212.66" width="9.26" height="6.14" fill="#3f6eff"/>
<rect x="254.34" y="212.66" width="9.26" height="6.14" fill="#3876fe"/>
<rect x="262.30" y="212.66" width="9.26" height="6.14" fill="#307ffb"/>
<rect x="270.26" y="212.66" width="9.26" height="6.14" fill="#2e87f7"/>
<rect x="278.22" y="212.66" width="9.26" height="6.14" fill="#2d8ef2"/>
<rect x="286.17" y="212.66" width="9.26" height="6.14" fill="#2895ec"/>
<rect x="294.13" y="212.66" width="9.26" height="6.14" fill="#259be8"/>
<rect x="302.09" y="212.66" width="9.26" height="6.14" fill="#23a0e5"/>
<rect x="310.05" y="212.66" width="9.26" height="6.14" fill="#1fa6e2"/>
<rect x="318.01" y="212.66" width="9.26" height="6.14" fill="#1caadf"/>
<rect x="325.97" y="212.66" width="9.26" height="6.14" fill="#16afd9"/>
<rect x="333.93" y="212.66" width="9.26" height="6.14" fill="#06b5cf"/>
<rect x="341.89" y="212.66" width="9.26" height="6.14" fill="#00bac6"/>
<rect x="349.85" y="212.66" width="9.26" height="6.14" fill="#10beba"/>
<rect x="357.81" y="212.66" width="9.26" height="6.14" fill="#25c2ae"/>
<rect x="365.77" y="212.66" width="9.26" height="6.14" fill="#2fc5a3"/>
<rect x="373.73" y="212.66" width="9.26" height="6.14" fill="#40ca8d"/>
<rect x="381.68" y="212.66" width="9.26" height="6.14" fill="#5ecd74"/>
<rect x="389.64" y="212.66" width="9.26" height="6.14" fill="#7dcc5b"/>
<rect x="397.60" y="212.66" width="9.26" height="6.14" fill="#a1c840"/>
<rect x="405.56" y="212.66" width="9.26" height="6.14" fill="#c2c32c"/>
<rect x="413.52" y="212.66" width="9.26" height="6.14" fill="#cbc128"/>
<rect x="421.48" y="212.66" width="9.26" height="6.14" fill="#d3bf27"/>
<rect x="429.44" y="212.66" width="9.26" height="6.14" fill="#dbbd28"/>
<rect x="437.40" y="212.66" width="9.26" height="6.14" fill="#e3bc2b"/>
<rect x="445.36" y="212.66" width="9.26" height="6.14" fill="#eaba30"/>
<rect x="453.32" y="212.66" width="9.26" height="6.14" fill="#efba35"/>
<rect x="461.28" y="212.66" width="9.26" height="6.14" fill="#f3ba39"/>
<rect x="469.24" y="212.66" width="9.26" height="6.14" fill="#f7ba3d"/>
<rect x="477.19" y="212.66" width="9.26" height="6.14" fill="#fbbb3e"/>
<rect x="485.15" y="212.66" width="9.26" height="6.14" fill="#febe3c"/>
<rect x="493.11" y="212.66" width="9.26" height="6.14" fill="#fec03b"/>
<rect x="501.07" y="212.66" width="9.26" height="6.14" fill="#fec13a"/>
<rect x="509.03" y="212.66" width="9.26" height="6.14" fill="#fec239"/>
<rect x="516.99" y="212.66" width="9.26" height="6.14" fill="#fec438"/>
<rect x="524.95" y="212.66" width="17.22" height="6.14" fill="#fec537"/>
<rect x="540.87" y="212.66" width="17.22" height="6.14" fill="#fec735"/>
<rect x="556.79" y="212.66" width="55.71" height="6.14" fill="#fec834"/>
<rect x="47.40" y="217.50" width="96.81" height="6.14" fill="#3e26a8"/>
<rect x="142.91" y="217.50" width="17.22" height="6.14" fill="#3e27ac"/>
<rect x="158.83" y="217.50" width="17.22" height="6.14" fill="#3f28af"/>
<rect x="174.75" y="217.50" width="9.26" height="6.14" fill="#3f29b2"/>
<rect x="182.71" y="217.50" width="9.26" height="6.14" fill="#402ab4"/>
<rect x="190.66" y="217.50" width="9.26" height="6.14" fill="#402bb7"/>
<rect x="198.62" y="217.50" width="9.26" height="6.14" fill="#412cba"/>
<rect x="206.58" y="217.50" width="9.26" height="6.14" fill="#412dbd"/>
<rect x="214.54" y="217.50" width="9.26" height="6.14" fill="#422fc2"/>
<rect x="222.50" y="217.50" width="9.26" height="6.14" fill="#4330c5"/>
<rect x="230.46" y="217.50" width="9.26" height="6.14" fill="#4332ca"/>
<rect x="238.42" y="217.50" width="9.26" height="6.14" fill="#4433cd"/>
<rect x="246.38" y="217.50" width="9.26" height="6.14" fill="#4535d2"/>
<rect x="254.34" y="217.50" width="9.26" height="6.14" fill="#463adc"/>
<rect x="262.30" y="217.50" width="9.26" height="6.14" fill="#4741e5"/>
<rect x="270.26" y="217.50" width="9.26" height="6.14" fill="#4848ec"/>
<rect x="278.22" y="217.50" width="9.26" height="6.14" fill="#484ef1"/>
<rect x="286.17" y="217.50" width="9.26" height="6.14" fill="#4854f6"/>
<rect x="294.13" y="217.50" width="9.26" height="6.14" fill="#475bfa"/>
<rect x="302.09" y="217.50" width="9.26" height="6.14" fill="#4562fc"/>
<rect x="310.05" y="217.50" width="9.26" height="6.14" fill="#426afe"/>
<rect x="318.01" y="217.50" width="9.26" height="6.14" fill="#3c71ff"/>
<rect x="325.97" y="217.50" width="9.26" height="6.14" fill="#337afd"/>
<rect x="333.93" y="217.50" width="9.26" height="6.14" fill="#2f80fa"/>
<rect x="341.89" y="217.50" width="9.26" height="6.14" fill="#2e86f8"/>
<rect x="349.85" y="217.50" width="9.26" height="6.14" fill="#2d8bf4"/>
<rect x="357.81" y="217.50" width="9.26" height="6.14" fill="#2c90f0"/>
<rect x="365.77" y="217.50" width="9.26" height="6.14" fill="#2895ec"/>
<rect x="373.73" y="217.50" width="9.26" height="6.14" fill="#259ce7"/>
<rect x="381.68" y="217.50" width="9.26" height="6.14" fill="#21a3e3"/>
<rect x="389.64" y="217.50" width="9.26" height="6.14" fill="#1caadf"/>
<rect x="397.60" y="217.50" width="9.26" height="6.14" fill="#12b1d6"/>
<rect x="405.56" y="217.50" width="9.26" height="6.14" fill="#04b6ce"/>
<rect x="413.52" y="217.50" width="9.26" height="6.14" fill="#02bbc2"/>
<rect x="421.48" y="217.50" width="9.26" height="6.14" fill="#1ac0b5"/>
<rect x="429.44" y="217.50" width="9.26" height="6.14" fill="#2cc4a6"/>
<rect x="437.40" y="217.50" width="9.26" height="6.14" fill="#36c899"/>
<rect x="445.36" y="217.50" width="9.26" height="6.14" fill="#48cb86"/>
<rect x="453.32" y="217.50" width="9.26" height="6.14" fill="#57cc7a"/>
<rect x="461.28" y="217.50" width="9.26" height="6.14" fill="#67cd6c"/>
<rect x="469.24" y="217.50" width="9.26" height="6.14" fill="#79cc5e"/>
<rect x="477.19" y="217.50" width="9.26" height="6.14" fill="#8fcb4e"/>
<rect x="485.15" y="217.50" width="9.26" height="6.14" fill="#a1c840"/>
<rect x="493.11" y="217.50" width="9.26" height="6.14" fill="#abc739"/>
<rect x="501.07" y="217.50" width="9.26" height="6.14" fill="#b5c533"/>
<rect x="509.03" y="217.50" width="9.26" height="6.14" fill="#bec32d"/>
<rect x="516.99" y="217.50" width="9.26" height="6.14" fill="#c8c129"/>
<rect x="524.95" y="217.50" width="9.26" height="6.14" fill="#d0bf27"/>
<rect x="532.91" y="217.50" width="9.26" height="6.14" fill="#d6be27"/>
<rect x="540.87" y="217.50" width="9.26" height="6.14" fill="#dbbd28"/>
<rect x="548.83" y="217.50" width="9.26" height="6.14" fill="#e1bc2a"/>
<rect x="556.79" y="217.50" width="9.26" height="6.14" fill="#e6bb2d"/>
<rect x="564.75" y="217.50" width="9.26" height="6.14" fill="#eaba30"/>
<rect x="572.70" y="217.50" width="9.26" height="6.14" fill="#efba35"/>
<rect x="580.66" y="217.50" width="9.26" height="6.14" fill="#f1ba37"/>
<rect x="588.62" y="217.50" width="9.26" height="6.14" fill="#f5ba3b"/>
<rect x="596.58" y="217.50" width="9.26" height="6.14" fill="#f7ba3d"/>
<rect x="604.54" y="217.50" width="7.96" height="6.14" fill="#fbbb3e"/>
<rect x="47.40" y="222.34" width="96.81" height="6.14" fill="#3e26a8"/>
<rect x="142.91" y="222.34" width="17.22" height="6.14" fill="#3e27ac"/>
<rect x="158.83" y="222.34" width="17.22" height="6.14" fill="#3f28af"/>
<rect x="174.75" y="222.34" width="9.26" height="6.14" fill="#3f29b2"/>
<rect x="182.71" y="222.34" width="9.26" height="6.14" fill="#402ab4"/>
<rect x="190.66" y="222.34" width="9.26" height="6.14" fill="#402bb7"/>
<rect x="198.62" y="222.34" width="9.26" height="6.14" fill="#412cba"/>
<rect x="206.58" y="222.34" width="9.26" height="6.14" fill="#412dbd"/>
<rect x="214.54" y="222.34" width="9.26" height="6.14" fill="#422fc2"/>
<rect x="222.50" y="222.34" width="9.26" height="6.14" fill="#4331c8"/>
<rect x="230.46" y="222.34" width="9.26" height="6.14" fill="#4433cd"/>
<rect x="238.42" y="222.34" width="9.26" height="6.14" fill="#4535d2"/>
<rect x="246.38" y="222.34" width="9.26" height="6.14" fill="#4538d7"/>
<rect x="254.34" y="222.34" width="9.26" height="6.14" fill="#4741e5"/>
<rect x="262.30" y="222.34" width="9.26" height="6.14" fill="#484bee"/>
<rect x="270.26" y="222.34" width="9.26" height="6.14" fill="#4853f5"/>
<rect x="278.22" y="222.34" width="9.26" height="6.14" fill="#475dfa"/>
<rect x="286.17" y="222.34" width="9.26" height="6.14" fill="#4367fd"/>
<rect x="294.13" y="222.34" width="9.26" height="6.14" fill="#3f6eff"/>
<rect x="302.09" y="222.34" width="9.26" height="6.14" fill="#3876fe"/>
<rect x="310.05" y="222.34" width="9.26" height="6.14" fill="#317dfc"/>
<rect x="318.01" y="222.34" width="9.26" height="6.14" fill="#2e84f8"/>
<rect x="325.97" y="222.34" width="9.26" height="6.14" fill="#2d8bf4"/>
<rect x="333.93" y="222.34" width="9.26" height="6.14" fill="#2b91ef"/>
<rect x="341.89" y="222.34" width="9.26" height="6.14" fill="#2699e9"/>
<rect x="349.85" y="222.34" width="9.26" height="6.14" fill="#249fe5"/>
<rect x="357.81" y="222.34" width="9.26" height="6.14" fill="#20a5e3"/>
<rect x="365.77" y="222.34" width="9.26" height="6.14" fill="#1caadf"/>
<rect x="373.73" y="222.34" width="9.26" height="6.14" fill="#10b2d5"/>
<rect x="381.68" y="222.34" width="9.26" height="6.14" fill="#01b7ca"/>
<rect x="389.64" y="222.34" width="9.26" height="6.14" fill="#09bdbd"/>
<rect x="397.60" y="222.34" width="9.26" height="6.14" fill="#23c1af"/>
<rect x="405.56" y="222.34" width="9.26" height="6.14" fill="#2fc5a3"/>
<rect x="413.52" y="222.34" width="9.26" height="6.14" fill="#39c994"/>
<rect x="421.48" y="222.34" width="9.26" height="6.14" fill="#4bcb84"/>
<rect x="429.44" y="222.34" width="9.26" height="6.14" fill="#5ecd74"/>
<rect x="437.40" y="222.34" width="9.26" height="6.14" fill="#76cc61"/>
<rect x="445.36" y="222.34" width="9.26" height="6.14" fill="#8fcb4e"/>
<rect x="453.32" y="222.34" width="9.26" height="6.14" fill="#a1c840"/>
<rect x="461.28" y="222.34" width="9.26" height="6.14" fill="#b2c635"/>
<rect x="469.24" y="222.34" width="9.26" height="6.14" fill="#c2c32c"/>
<rect x="477.19" y="222.34" width="9.26" height="6.14" fill="#d0bf27"/>
<rect x="485.15" y="222.34" width="9.26" height="6.14" fill="#debc29"/>
<rect x="493.11" y="222.34" width="9.26" height="6.14" fill="#e6bb2d"/>
<rect x="501.07" y="222.34" width="9.26" height="6.14" fill="#ecba32"/>
<rect x="509.03" y="222.34" width="9.26" height="6.14" fill="#f3ba39"/>
<rect x="516.99" y="222.34" width="9.26" height="6.14" fill="#f9ba3e"/>
<rect x="524.95" y="222.34" width="9.26" height="6.14" fill="#febe3c"/>
<rect x="532.91" y="222.34" width="9.26" height="6.14" fill="#fec03b"/>
<rect x="540.87" y="222.34" width="9.26" height="6.14" fill="#fec13a"/>
<rect x="548.83" y="222.34" width="9.26" height="6.14" fill="#fec239"/>
<rect x="556.79" y="222.34" width="9.26" height="6.14" fill="#fec438"/>
<rect x="564.75" y="222.34" width="17.22" height="6.14" fill="#fec537"/>
<rect x="580.66" y="222.34" width="17.22" height="6.14" fill="#fec735"/>
<rect x="596.58" y="222.34" width="15.92" height="6.14" fill="#fec834"/>
<rect x="47.40" y="227.19" width="9.26" height="6.14" fill="#3e26a8"/>
<rect x="55.36" y="227.19" width="9.26" height="6.14" fill="#3f28af"/>
<rect x="63.32" y="227.19" width="9.26" height="6.14" fill="#402ab4"/>
<rect x="71.28" y="227.19" width="9.26" height="6.14" fill="#412cba"/>
<rect x="79.24" y="227.19" width="9.26" height="6.14" fill="#422ebf"/>
<rect x="87.20" y="227.19" width="9.26" height="6.14" fill="#4330c5"/>
<rect x="95.15" y="227.19" width="9.26" height="6.14" fill="#4332ca"/>
<rect x="103.11" y="227.19" width="9.26" height="6.14" fill="#4434d0"/>
<rect x="111.07" y="227.19" width="9.26" height="6.14" fill="#4537d5"/>
<rect x="119.03" y="227.19" width="9.26" height="6.14" fill="#4639d9"/>
<rect x="126.99" y="227.19" width="9.26" height="6.14" fill="#463bde"/>
<rect x="134.95" y="227.19" width="9.26" height="6.14" fill="#463de0"/>
<rect x="142.91" y="227.19" width="9.26" height="6.14" fill="#473ee1"/>
<rect x="150.87" y="227.19" width="9.26" height="6.14" fill="#473fe3"/>
<rect x="158.83" y="227.19" width="9.26" height="6.14" fill="#4741e5"/>
<rect x="166.79" y="227.19" width="9.26" height="6.14" fill="#4742e6"/>
<rect x="174.75" y="227.19" width="9.26" height="6.14" fill="#4848ec"/>
<rect x="182.71" y="227.19" width="9.26" height="6.14" fill="#484ef1"/>
<rect x="190.66" y="227.19" width="9.26" height="6.14" fill="#4853f5"/>
<rect x="198.62" y="227.19" width="9.26" height="6.14" fill="#4759f8"/>
<rect x="206.58" y="227.19" width="9.26" height="6.14" fill="#4660fb"/>
<rect x="214.54" y="227.19" width="9.26" height="6.14" fill="#4564fd"/>
<rect x="222.50" y="227.19" width="9.26" height="6.14" fill="#426afe"/>
<rect x="230.46" y="227.19" width="9.26" height="6.14" fill="#3f6eff"/>
<rect x="238.42" y="227.19" width="9.26" height="6.14" fill="#3974ff"/>
<rect x="246.38" y="227.19" width="9.26" height="6.14" fill="#337afd"/>
<rect x="254.34" y="227.19" width="9.26" height="6.14" fill="#2e87f7"/>
<rect x="262.30" y="227.19" width="9.26" height="6.14" fill="#2a93ee"/>
<rect x="270.26" y="227.19" width="9.26" height="6.14" fill="#249ee6"/>
<rect x="278.22" y="227.19" width="9.26" height="6.14" fill="#1da8e1"/>
<rect x="286.17" y="227.19" width="9.26" height="6.14" fill="#10b2d5"/>
<rect x="294.13" y="227.19" width="9.26" height="6.14" fill="#06b5cf"/>
<rect x="302.09" y="227.19" width="9.26" height="6.14" fill="#00b9c7"/>
<rect x="310.05" y="227.19" width="9.26" height="6.14" fill="#04bbc1"/>
<rect x="318.01" y="227.19" width="9.26" height="6.14" fill="#14beb8"/>
<rect x="325.97" y="227.19" width="9.26" height="6.14" fill="#23c1af"/>
<rect x="333.93" y="227.19" width="9.26" height="6.14" fill="#2ec4a5"/>
<rect x="341.89" y="227.19" width="9.26" height="6.14" fill="#38c896"/>
<rect x="349.85" y="227.19" width="9.26" height="6.14" fill="#48cb86"/>
<rect x="357.81" y="227.19" width="9.26" height="6.14" fill="#5acc77"/>
<rect x="365.77" y="227.19" width="9.26" height="6.14" fill="#72cd64"/>
<rect x="373.73" y="227.19" width="9.26" height="6.14" fill="#88cb53"/>
<rect x="381.68" y="227.19" width="9.26" height="6.14" fill="#9ac946"/>
<rect x="389.64" y="227.19" width="9.26" height="6.14" fill="#aec637"/>
<rect x="397.60" y="227.19" width="9.26" height="6.14" fill="#bec32d"/>
<rect x="405.56" y="227.19" width="9.26" height="6.14" fill="#d0bf27"/>
<rect x="413.52" y="227.19" width="9.26" height="6.14" fill="#d6be27"/>
<rect x="421.48" y="227.19" width="9.26" height="6.14" fill="#dbbd28"/>
<rect x="429.44" y="227.19" width="9.26" height="6.14" fill="#e1bc2a"/>
<rect x="437.40" y="227.19" width="9.26" height="6.14" fill="#e6bb2d"/>
<rect x="445.36" y="227.19" width="9.26" height="6.14" fill="#eaba30"/>
<rect x="453.32" y="227.19" width="9.26" height="6.14" fill="#efba35"/>
<rect x="461.28" y="227.19" width="9.26" height="6.14" fill="#f3ba39"/>
<rect x="469.24" y="227.19" width="9.26" height="6.14" fill="#f7ba3d"/>
<rect x="477.19" y="227.19" width="9.26" height="6.14" fill="#fbbb3e"/>
<rect x="485.15" y="227.19" width="9.26" height="6.14" fill="#febe3c"/>
<rect x="493.11" y="227.19" width="9.26" height="6.14" fill="#fec03b"/>
<rect x="501.07" y="227.19" width="9.26" height="6.14" fill="#fec13a"/>
<rect x="509.03" y="227.19" width="9.26" height="6.14" fill="#fec239"/>
<rect x="516.99" y="227.19" width="9.26" height="6.14" fill="#fec438"/>
<rect x="524.95" y="227.19" width="17.22" height="6.14" fill="#fec537"/>
<rect x="540.87" y="227.19" width="17.22" height="6.14" fill="#fec735"/>
<rect x="556.79" y="227.19" width="55.71" height="6.14" fill="#fec834"/>
<rect x="47.40" y="232.03" width="176.40" height="6.14" fill="#3e26a8"/>
<rect x="222.50" y="232.03" width="17.22" height="6.14" fill="#3e27ac"/>
<rect x="238.42" y="232.03" width="17.22" height="6.14" fill="#3f28af"/>
<rect x="254.34" y="232.03" width="9.26" height="6.14" fill="#3f29b2"/>
<rect x="262.30" y="232.03" width="9.26" height="6.14" fill="#402ab4"/>
<rect x="270.26" y="232.03" width="9.26" height="6.14" fill="#402bb7"/>
<rect x="278.22" y="232.03" width="9.26" height="6.14" fill="#412cba"/>
<rect x="286.17" y="232.03" width="9.26" height="6.14" fill="#412dbd"/>
<rect x="294.13" y="232.03" width="9.26" height="6.14" fill="#4332ca"/>
<rect x="302.09" y="232.03" width="9.26" height="6.14" fill="#4537d5"/>
<rect x="310.05" y="232.03" width="9.26" height="6.14" fill="#463de0"/>
<rect x="318.01" y="232.03" width="9.26" height="6.14" fill="#4744e8"/>
<rect x="325.97" y="232.03" width="9.26" height="6.14" fill="#4849ed"/>
<rect x="333.93" y="232.03" width="9.26" height="6.14" fill="#4850f3"/>
<rect x="341.89" y="232.03" width="9.26" height="6.14" fill="#4757f7"/>
<rect x="349.85" y="232.03" width="9.26" height="6.14" fill="#4660fb"/>
<rect x="357.81" y="232.03" width="9.26" height="6.14" fill="#4367fd"/>
<rect x="365.77" y="232.03" width="9.26" height="6.14" fill="#3f6eff"/>
<rect x="373.73" y="232.03" width="9.26" height="6.14" fill="#3677fe"/>
<rect x="381.68" y="232.03" width="9.26" height="6.14" fill="#2f82fa"/>
<rect x="389.64" y="232.03" width="9.26" height="6.14" fill="#2d8bf4"/>
<rect x="397.60" y="232.03" width="9.26" height="6.14" fill="#2a93ee"/>
<rect x="405.56" y="232.03" width="9.26" height="6.14" fill="#259be8"/>
<rect x="413.52" y="232.03" width="9.26" height="6.14" fill="#21a3e3"/>
<rect x="421.48" y="232.03" width="9.26" height="6.14" fill="#1caadf"/>
<rect x="429.44" y="232.03" width="9.26" height="6.14" fill="#12b1d6"/>
<rect x="437.40" y="232.03" width="9.26" height="6.14" fill="#02b7cc"/>
<rect x="445.36" y="232.03" width="9.26" height="6.14" fill="#02bbc2"/>
<rect x="453.32" y="232.03" width="9.26" height="6.14" fill="#1ac0b5"/>
<rect x="461.28" y="232.03" width="9.26" height="6.14" fill="#2bc3a8"/>
<rect x="469.24" y="232.03" width="9.26" height="6.14" fill="#35c79b"/>
<rect x="477.19" y="232.03" width="9.26" height="6.14" fill="#42ca8b"/>
<rect x="485.15" y="232.03" width="9.26" height="6.14" fill="#57cc7a"/>
<rect x="493.11" y="232.03" width="9.26" height="6.14" fill="#72cd64"/>
<rect x="501.07" y="232.03" width="9.26" height="6.14" fill="#93ca4b"/>
<rect x="509.03" y="232.03" width="9.26" height="6.14" fill="#aec637"/>
<rect x="516.99" y="232.03" width="9.26" height="6.14" fill="#c8c129"/>
<rect x="524.95" y="232.03" width="9.26" height="6.14" fill="#debc29"/>
<rect x="532.91" y="232.03" width="9.26" height="6.14" fill="#e6bb2d"/>
<rect x="540.87" y="232.03" width="9.26" height="6.14" fill="#ecba32"/>
<rect x="548.83" y="232.03" width="9.26" height="6.14" fill="#f3ba39"/>
<rect x="556.79" y="232.03" width="9.26" height="6.14" fill="#f9ba3e"/>
<rect x="564.75" y="232.03" width="9.26" height="6.14" fill="#febe3c"/>
<rect x="572.70" y="232.03" width="9.26" height="6.14" fill="#fec03b"/>
<rect x="580.66" y="232.03" width="9.26" height="6.14" fill="#fec13a"/>
<rect x="588.62" y="232.03" width="9.26" height="6.14" fill="#fec239"/>
<rect x="596.58" y="232.03" width="9.26" height="6.14" fill="#fec438"/>
<rect x="604.54" y="232.03" width="7.96" height="6.14" fill="#fec537"/>
<rect x="47.40" y="236.87" width="128.65" height="6.14" fill="#3e26a8"/>
<rect x="174.75" y="236.87" width="9.26" height="6.14" fill="#3e27ac"/>
<rect x="182.71" y="236.87" width="9.26" height="6.14" fill="#3f29b2"/>
<rect x="190.66" y="236.87" width="9.26" height="6.14" fill="#402ab4"/>
<rect x="198.62" y="236.87" width="9.26" height="6.14" fill="#412cba"/>
<rect x="206.58" y="236.87" width="9.26" height="6.14" fill="#412dbd"/>
<rect x="214.54" y="236.87" width="9.26" height="6.14" fill="#4330c5"/>
<rect x="222.50" y="236.87" width="9.26" height="6.14" fill="#4332ca"/>
<rect x="230.46" y="236.87" width="9.26" height="6.14" fill="#4535d2"/>
<rect x="238.42" y="236.87" width="9.26" height="6.14" fill="#4538d7"/>
<rect x="246.38" y="236.87" width="9.26" height="6.14" fill="#463bde"/>
<rect x="254.34" y="236.87" width="9.26" height="6.14" fill="#4742e6"/>
<rect x="262.30" y="236.87" width="9.26" height="6.14" fill="#4849ed"/>
<rect x="270.26" y="236.87" width="9.26" height="6.14" fill="#4850f3"/>
<rect x="278.22" y="236.87" width="9.26" height="6.14" fill="#4757f7"/>
<rect x="286.17" y="236.87" width="9.26" height="6.14" fill="#4660fb"/>
<rect x="294.13" y="236.87" width="9.26" height="6.14" fill="#4368fe"/>
<rect x="302.09" y="236.87" width="9.26" height="6.14" fill="#3c71ff"/>
<rect x="310.05" y="236.87" width="9.26" height="6.14" fill="#337afd"/>
<rect x="318.01" y="236.87" width="9.26" height="6.14" fill="#2e83f9"/>
<rect x="325.97" y="236.87" width="9.26" height="6.14" fill="#2d8bf4"/>
<rect x="333.93" y="236.87" width="9.26" height="6.14" fill="#2895ec"/>
<rect x="341.89" y="236.87" width="9.26" height="6.14" fill="#249fe5"/>
<rect x="349.85" y="236.87" width="9.26" height="6.14" fill="#1ea7e1"/>
<rect x="357.81" y="236.87" width="9.26" height="6.14" fill="#16afd9"/>
<rect x="365.77" y="236.87" width="9.26" height="6.14" fill="#04b6ce"/>
<rect x="373.73" y="236.87" width="9.26" height="6.14" fill="#17bfb6"/>
<rect x="381.68" y="236.87" width="9.26" height="6.14" fill="#32c69f"/>
<rect x="389.64" y="236.87" width="9.26" height="6.14" fill="#51cc7f"/>
<rect x="397.60" y="236.87" width="9.26" height="6.14" fill="#81cc59"/>
<rect x="405.56" y="236.87" width="9.26" height="6.14" fill="#b2c635"/>
<rect x="413.52" y="236.87" width="9.26" height="6.14" fill="#c5c22a"/>
<rect x="421.48" y="236.87" width="9.26" height="6.14" fill="#d9be28"/>
<rect x="429.44" y="236.87" width="9.26" height="6.14" fill="#eaba30"/>
<rect x="437.40" y="236.87" width="9.26" height="6.14" fill="#f7ba3d"/>
<rect x="445.36" y="236.87" width="9.26" height="6.14" fill="#fec13a"/>
<rect x="453.32" y="236.87" width="9.26" height="6.14" fill="#fec537"/>
<rect x="461.28" y="236.87" width="9.26" height="6.14" fill="#fec834"/>
<rect x="469.24" y="236.87" width="9.26" height="6.14" fill="#fdcd31"/>
<rect x="477.19" y="236.87" width="9.26" height="6.14" fill="#fcd030"/>
<rect x="485.15" y="236.87" width="9.26" height="6.14" fill="#fad52e"/>
<rect x="493.11" y="236.87" width="9.26" height="6.14" fill="#f9d62d"/>
<rect x="501.07" y="236.87" width="9.26" height="6.14" fill="#f9d82c"/>
<rect x="509.03" y="236.87" width="9.26" height="6.14" fill="#f8d92b"/>
<rect x="516.99" y="236.87" width="9.26" height="6.14" fill="#f7db2a"/>
<rect x="524.95" y="236.87" width="9.26" height="6.14" fill="#f7dd2a"/>
<rect x="532.91" y="236.87" width="17.22" height="6.14" fill="#f6de29"/>
<rect x="548.83" y="236.87" width="17.22" height="6.14" fill="#f6e028"/>
<rect x="564.75" y="236.87" width="47.75" height="6.14" fill="#f5e128"/>
<rect x="47.40" y="241.71" width="88.85" height="6.14" fill="#3e26a8"/>
<rect x="134.95" y="241.71" width="9.26" height="6.14" fill="#3e27ac"/>
<rect x="142.91" y="241.71" width="9.26" height="6.14" fill="#3f29b2"/>
<rect x="150.87" y="241.71" width="9.26" height="6.14" fill="#402ab4"/>
<rect x="158.83" y="241.71" width="9.26" height="6.14" fill="#412cba"/>
<rect x="166.79" y="241.71" width="9.26" height="6.14" fill="#412dbd"/>
<rect x="174.75" y="241.71" width="9.26" height="6.14" fill="#4332ca"/>
<rect x="182.71" y="241.71" width="9.26" height="6.14" fill="#4537d5"/>
<rect x="190.66" y="241.71" width="9.26" height="6.14" fill="#463de0"/>
<rect x="198.62" y="241.71" width="9.26" height="6.14" fill="#4744e8"/>
<rect x="206.58" y="241.71" width="9.26" height="6.14" fill="#4849ed"/>
<rect x="214.54" y="241.71" width="9.26" height="6.14" fill="#4853f5"/>
<rect x="222.50" y="241.71" width="9.26" height="6.14" fill="#475dfa"/>
<rect x="230.46" y="241.71" width="9.26" height="6.14" fill="#4465fd"/>
<rect x="238.42" y="241.71" width="9.26" height="6.14" fill="#3e70ff"/>
<rect x="246.38" y="241.71" width="9.26" height="6.14" fill="#337afd"/>
<rect x="254.34" y="241.71" width="9.26" height="6.14" fill="#2f82fa"/>
<rect x="262.30" y="241.71" width="9.26" height="6.14" fill="#2d8af5"/>
<rect x="270.26" y="241.71" width="9.26" height="6.14" fill="#2c90f0"/>
<rect x="278.22" y="241.71" width="9.26" height="6.14" fill="#2798ea"/>
<rect x="286.17" y="241.71" width="9.26" height="6.14" fill="#249fe5"/>
<rect x="294.13" y="241.71" width="9.26" height="6.14" fill="#21a3e3"/>
<rect x="302.09" y="241.71" width="9.26" height="6.14" fill="#1da9e0"/>
<rect x="310.05" y="241.71" width="9.26" height="6.14" fill="#19addc"/>
<rect x="318.01" y="241.71" width="9.26" height="6.14" fill="#10b2d5"/>
<rect x="325.97" y="241.71" width="9.26" height="6.14" fill="#04b6ce"/>
<rect x="333.93" y="241.71" width="9.26" height="6.14" fill="#00bac6"/>
<rect x="341.89" y="241.71" width="9.26" height="6.14" fill="#09bdbd"/>
<rect x="349.85" y="241.71" width="9.26" height="6.14" fill="#1ac0b5"/>
<rect x="357.81" y="241.71" width="9.26" height="6.14" fill="#27c2ac"/>
<rect x="365.77" y="241.71" width="9.26" height="6.14" fill="#2fc5a3"/>
<rect x="373.73" y="241.71" width="9.26" height="6.14" fill="#45cb89"/>
<rect x="381.68" y="241.71" width="9.26" height="6.14" fill="#67cd6c"/>
<rect x="389.64" y="241.71" width="9.26" height="6.14" fill="#8fcb4e"/>
<rect x="397.60" y="241.71" width="9.26" height="6.14" fill="#b5c533"/>
<rect x="405.56" y="241.71" width="9.26" height="6.14" fill="#d9be28"/>
<rect x="413.52" y="241.71" width="9.26" height="6.14" fill="#e3bc2b"/>
<rect x="421.48" y="241.71" width="9.26" height="6.14" fill="#efba35"/>
<rect x="429.44" y="241.71" width="9.26" height="6.14" fill="#f7ba3d"/>
<rect x="437.40" y="241.71" width="9.26" height="6.14" fill="#febe3c"/>
<rect x="445.36" y="241.71" width="9.26" height="6.14" fill="#fec537"/>
<rect x="453.32" y="241.71" width="9.26" height="6.14" fill="#fec834"/>
<rect x="461.28" y="241.71" width="9.26" height="6.14" fill="#fdcb32"/>
<rect x="469.24" y="241.71" width="9.26" height="6.14" fill="#fdce31"/>
<rect x="477.19" y="241.71" width="9.26" height="6.14" fill="#fbd22f"/>
<rect x="485.15" y="241.71" width="17.22" height="6.14" fill="#fad52e"/>
<rect x="501.07" y="241.71" width="17.22" height="6.14" fill="#f9d62d"/>
<rect x="516.99" y="241.71" width="17.22" height="6.14" fill="#f9d82c"/>
<rect x="532.91" y="241.71" width="17.22" height="6.14" fill="#f8d92b"/>
<rect x="548.83" y="241.71" width="9.26" height="6.14" fill="#f7db2a"/>
<rect x="556.79" y="241.71" width="55.71" height="6.14" fill="#f7dd2a"/>
<rect x="47.40" y="246.56" width="17.22" height="6.14" fill="#3e26a8"/>
<rect x="63.32" y="246.56" width="17.22" height="6.14" fill="#3e27ac"/>
<rect x="79.24" y="246.56" width="17.22" height="6.14" fill="#3f28af"/>
<rect x="95.15" y="246.56" width="17.22" height="6.14" fill="#3f29b2"/>
<rect x="111.07" y="246.56" width="17.22" height="6.14" fill="#402ab4"/>
<rect x="126.99" y="246.56" width="9.26" height="6.14" fill="#402bb7"/>
<rect x="134.95" y="246.56" width="9.26" height="6.14" fill="#422ebf"/>
<rect x="142.91" y="246.56" width="9.26" height="6.14" fill="#4331c8"/>
<rect x="150.87" y="246.56" width="9.26" height="6.14" fill="#4434d0"/>
<rect x="158.83" y="246.56" width="9.26" height="6.14" fill="#4538d7"/>
<rect x="166.79" y="246.56" width="9.26" height="6.14" fill="#463bde"/>
<rect x="174.75" y="246.56" width="9.26" height="6.14" fill="#4744e8"/>
<rect x="182.71" y="246.56" width="9.26" height="6.14" fill="#484cf0"/>
<rect x="190.66" y="246.56" width="9.26" height="6.14" fill="#4854f6"/>
<rect x="198.62" y="246.56" width="9.26" height="6.14" fill="#465efb"/>
<rect x="206.58" y="246.56" width="9.26" height="6.14" fill="#4367fd"/>
<rect x="214.54" y="246.56" width="9.26" height="6.14" fill="#3f6eff"/>
<rect x="222.50" y="246.56" width="9.26" height="6.14" fill="#3876fe"/>
<rect x="230.46" y="246.56" width="9.26" height="6.14" fill="#317dfc"/>
<rect x="238.42" y="246.56" width="9.26" height="6.14" fill="#2e84f8"/>
<rect x="246.38" y="246.56" width="9.26" height="6.14" fill="#2d8bf4"/>
<rect x="254.34" y="246.56" width="9.26" height="6.14" fill="#2895ec"/>
<rect x="262.30" y="246.56" width="9.26" height="6.14" fill="#249fe5"/>
<rect x="270.26" y="246.56" width="9.26" height="6.14" fill="#1ea7e1"/>
<rect x="278.22" y="246.56" width="9.26" height="6.14" fill="#16afd9"/>
<rect x="286.17" y="246.56" width="9.26" height="6.14" fill="#04b6ce"/>
<rect x="294.13" y="246.56" width="9.26" height="6.14" fill="#02bbc2"/>
<rect x="302.09" y="246.56" width="9.26" height="6.14" fill="#1ac0b5"/>
<rect x="310.05" y="246.56" width="9.26" height="6.14" fill="#2cc4a6"/>
<rect x="318.01" y="246.56" width="9.26" height="6.14" fill="#36c899"/>
<rect x="325.97" y="246.56" width="9.26" height="6.14" fill="#48cb86"/>
<rect x="333.93" y="246.56" width="9.26" height="6.14" fill="#64cd6f"/>
<rect x="341.89" y="246.56" width="9.26" height="6.14" fill="#88cb53"/>
<rect x="349.85" y="246.56" width="9.26" height="6.14" fill="#a7c73b"/>
<rect x="357.81" y="246.56" width="9.26" height="6.14" fill="#c5c22a"/>
<rect x="365.77" y="246.56" width="9.26" height="6.14" fill="#debc29"/>
<rect x="373.73" y="246.56" width="9.26" height="6.14" fill="#eaba30"/>
<rect x="381.68" y="246.56" width="9.26" height="6.14" fill="#f5ba3b"/>
<rect x="389.64" y="246.56" width="9.26" height="6.14" fill="#febe3c"/>
<rect x="397.60" y="246.56" width="9.26" height="6.14" fill="#fec537"/>
<rect x="405.56" y="246.56" width="9.26" height="6.14" fill="#fdcd31"/>
<rect x="413.52" y="246.56" width="9.26" height="6.14" fill="#fbd22f"/>
<rect x="421.48" y="246.56" width="9.26" height="6.14" fill="#f9d62d"/>
<rect x="429.44" y="246.56" width="9.26" height="6.14" fill="#f7db2a"/>
<rect x="437.40" y="246.56" width="9.26" height="6.14" fill="#f6e028"/>
<rect x="445.36" y="246.56" width="9.26" height="6.14" fill="#f5e526"/>
<rect x="453.32" y="246.56" width="9.26" height="6.14" fill="#f5e825"/>
<rect x="461.28" y="246.56" width="9.26" height="6.14" fill="#f5e924"/>
<rect x="469.24" y="246.56" width="9.26" height="6.14" fill="#f5ec22"/>
<rect x="477.19" y="246.56" width="9.26" height="6.14" fill="#f5ee21"/>
<rect x="485.15" y="246.56" width="9.26" height="6.14" fill="#f6f11f"/>
<rect x="493.11" y="246.56" width="9.26" height="6.14" fill="#f6f21e"/>
<rect x="501.07" y="246.56" width="9.26" height="6.14" fill="#f7f41c"/>
<rect x="509.03" y="246.56" width="9.26" height="6.14" fill="#f7f51b"/>
<rect x="516.99" y="246.56" width="9.26" height="6.14" fill="#f8f71a"/>
<rect x="524.95" y="246.56" width="87.55" height="6.14" fill="#f8f818"/>
<rect x="47.40" y="251.40" width="96.81" height="6.14" fill="#3e26a8"/>
<rect x="142.91" y="251.40" width="17.22" height="6.14" fill="#3e27ac"/>
<rect x="158.83" y="251.40" width="17.22" height="6.14" fill="#3f28af"/>
<rect x="174.75" y="251.40" width="9.26" height="6.14" fill="#3f29b2"/>
<rect x="182.71" y="251.40" width="9.26" height="6.14" fill="#402ab4"/>
<rect x="190.66" y="251.40" width="9.26" height="6.14" fill="#402bb7"/>
<rect x="198.62" y="251.40" width="9.26" height="6.14" fill="#412cba"/>
<rect x="206.58" y="251.40" width="9.26" height="6.14" fill="#412dbd"/>
<rect x="214.54" y="251.40" width="9.26" height="6.14" fill="#422fc2"/>
<rect x="222.50" y="251.40" width="9.26" height="6.14" fill="#4330c5"/>
<rect x="230.46" y="251.40" width="9.26" height="6.14" fill="#4332ca"/>
<rect x="238.42" y="251.40" width="9.26" height="6.14" fill="#4433cd"/>
<rect x="246.38" y="251.40" width="9.26" height="6.14" fill="#4535d2"/>
<rect x="254.34" y="251.40" width="9.26" height="6.14" fill="#473ee1"/>
<rect x="262.30" y="251.40" width="9.26" height="6.14" fill="#4848ec"/>
<rect x="270.26" y="251.40" width="9.26" height="6.14" fill="#4852f4"/>
<rect x="278.22" y="251.40" width="9.26" height="6.14" fill="#475dfa"/>
<rect x="286.17" y="251.40" width="9.26" height="6.14" fill="#4367fd"/>
<rect x="294.13" y="251.40" width="9.26" height="6.14" fill="#3f6eff"/>
<rect x="302.09" y="251.40" width="9.26" height="6.14" fill="#3876fe"/>
<rect x="310.05" y="251.40" width="9.26" height="6.14" fill="#317dfc"/>
<rect x="318.01" y="251.40" width="9.26" height="6.14" fill="#2e84f8"/>
<rect x="325.97" y="251.40" width="9.26" height="6.14" fill="#2d8bf4"/>
<rect x="333.93" y="251.40" width="9.26" height="6.14" fill="#2b91ef"/>
<rect x="341.89" y="251.40" width="9.26" height="6.14" fill="#2699e9"/>
<rect x="349.85" y="251.40" width="9.26" height="6.14" fill="#249fe5"/>
<rect x="357.81" y="251.40" width="9.26" height="6.14" fill="#20a5e3"/>
<rect x="365.77" y="251.40" width="9.26" height="6.14" fill="#1caadf"/>
<rect x="373.73" y="251.40" width="9.26" height="6.14" fill="#10b2d5"/>
<rect x="381.68" y="251.40" width="9.26" height="6.14" fill="#01b7ca"/>
<rect x="389.64" y="251.40" width="9.26" height="6.14" fill="#09bdbd"/>
<rect x="397.60" y="251.40" width="9.26" height="6.14" fill="#23c1af"/>
<rect x="405.56" y="251.40" width="9.26" height="6.14" fill="#2fc5a3"/>
<rect x="413.52" y="251.40" width="9.26" height="6.14" fill="#3dca90"/>
<rect x="421.48" y="251.40" width="9.26" height="6.14" fill="#57cc7a"/>
<rect x="429.44" y="251.40" width="9.26" height="6.14" fill="#72cd64"/>
<rect x="437.40" y="251.40" width="9.26" height="6.14" fill="#93ca4b"/>
<rect x="445.36" y="251.40" width="9.26" height="6.14" fill="#b2c635"/>
<rect x="453.32" y="251.40" width="9.26" height="6.14" fill="#c2c32c"/>
<rect x="461.28" y="251.40" width="9.26" height="6.14" fill="#d0bf27"/>
<rect x="469.24" y="251.40" width="9.26" height="6.14" fill="#debc29"/>
<rect x="477.19" y="251.40" width="9.26" height="6.14" fill="#eaba30"/>
<rect x="485.15" y="251.40" width="9.26" height="6.14" fill="#f5ba3b"/>
<rect x="493.11" y="251.40" width="9.26" height="6.14" fill="#fbbb3e"/>
<rect x="501.07" y="251.40" width="9.26" height="6.14" fill="#febe3c"/>
<rect x="509.03" y="251.40" width="9.26" height="6.14" fill="#fec13a"/>
<rect x="516.99" y="251.40" width="9.26" height="6.14" fill="#fec537"/>
<rect x="524.95" y="251.40" width="9.26" height="6.14" fill="#fec834"/>
<rect x="532.91" y="251.40" width="9.26" height="6.14" fill="#fdcb32"/>
<rect x="540.87" y="251.40" width="9.26" height="6.14" fill="#fdcd31"/>
<rect x="548.83" y="251.40" width="9.26" height="6.14" fill="#fcd030"/>
<rect x="556.79" y="251.40" width="9.26" height="6.14" fill="#fbd22f"/>
<rect x="564.75" y="251.40" width="9.26" height="6.14" fill="#fad52e"/>
<rect x="572.70" y="251.40" width="9.26" height="6.14" fill="#f9d62d"/>
<rect x="580.66" y="251.40" width="9.26" height="6.14" fill="#f9d82c"/>
<rect x="588.62" y="251.40" width="9.26" height="6.14" fill="#f8d92b"/>
<rect x="596.58" y="251.40" width="9.26" height="6.14" fill="#f7db2a"/>
<rect x="604.54" y="251.40" width="7.96" height="6.14" fill="#f7dd2a"/>
<rect x="47.40" y="256.24" width="136.61" height="6.14" fill="#3e26a8"/>
<rect x="182.71" y="256.24" width="17.22" height="6.14" fill="#3e27ac"/>
<rect x="198.62" y="256.24" width="17.22" height="6.14" fill="#3f28af"/>
<rect x="214.54" y="256.24" width="9.26" height="6.14" fill="#402ab4"/>
<rect x="222.50" y="256.24" width="9.26" height="6.14" fill="#402bb7"/>
<rect x="230.46" y="256.24" width="9.26" height="6.14" fill="#412dbd"/>
<rect x="238.42" y="256.24" width="9.26" height="6.14" fill="#422ebf"/>
<rect x="246.38" y="256.24" width="9.26" height="6.14" fill="#4330c5"/>
<rect x="254.34" y="256.24" width="9.26" height="6.14" fill="#4535d2"/>
<rect x="262.30" y="256.24" width="9.26" height="6.14" fill="#463de0"/>
<rect x="270.26" y="256.24" width="9.26" height="6.14" fill="#4745e9"/>
<rect x="278.22" y="256.24" width="9.26" height="6.14" fill="#484cf0"/>
<rect x="286.17" y="256.24" width="9.26" height="6.14" fill="#4854f6"/>
<rect x="294.13" y="256.24" width="9.26" height="6.14" fill="#475bfa"/>
<rect x="302.09" y="256.24" width="9.26" height="6.14" fill="#4562fc"/>
<rect x="310.05" y="256.24" width="9.26" height="6.14" fill="#426afe"/>
<rect x="318.01" y="256.24" width="9.26" height="6.14" fill="#3c71ff"/>
<rect x="325.97" y="256.24" width="9.26" height="6.14" fill="#337afd"/>
<rect x="333.93" y="256.24" width="9.26" height="6.14" fill="#2f82fa"/>
<rect x="341.89" y="256.24" width="9.26" height="6.14" fill="#2d88f6"/>
<rect x="349.85" y="256.24" width="9.26" height="6.14" fill="#2c8ff1"/>
<rect x="357.81" y="256.24" width="9.26" height="6.14" fill="#2895ec"/>
<rect x="365.77" y="256.24" width="9.26" height="6.14" fill="#259be8"/>
<rect x="373.73" y="256.24" width="9.26" height="6.14" fill="#21a3e3"/>
<rect x="381.68" y="256.24" width="9.26" height="6.14" fill="#1caadf"/>
<rect x="389.64" y="256.24" width="9.26" height="6.14" fill="#12b1d6"/>
<rect x="397.60" y="256.24" width="9.26" height="6.14" fill="#02b7cc"/>
<rect x="405.56" y="256.24" width="9.26" height="6.14" fill="#02bbc2"/>
<rect x="413.52" y="256.24" width="9.26" height="6.14" fill="#1ac0b5"/>
<rect x="421.48" y="256.24" width="9.26" height="6.14" fill="#2bc3a8"/>
<rect x="429.44" y="256.24" width="9.26" height="6.14" fill="#35c79b"/>
<rect x="437.40" y="256.24" width="9.26" height="6.14" fill="#42ca8b"/>
<rect x="445.36" y="256.24" width="9.26" height="6.14" fill="#57cc7a"/>
<rect x="453.32" y="256.24" width="9.26" height="6.14" fill="#6ecd66"/>
<rect x="461.28" y="256.24" width="9.26" height="6.14" fill="#88cb53"/>
<rect x="469.24" y="256.24" width="9.26" height="6.14" fill="#9dc943"/>
<rect x="477.19" y="256.24" width="9.26" height="6.14" fill="#b5c533"/>
<rect x="485.15" y="256.24" width="9.26" height="6.14" fill="#cbc128"/>
<rect x="493.11" y="256.24" width="9.26" height="6.14" fill="#d0bf27"/>
<rect x="501.07" y="256.24" width="9.26" height="6.14" fill="#d9be28"/>
<rect x="509.03" y="256.24" width="9.26" height="6.14" fill="#debc29"/>
<rect x="516.99" y="256.24" width="9.26" height="6.14" fill="#e6bb2d"/>
<rect x="524.95" y="256.24" width="9.26" height="6.14" fill="#eaba30"/>
<rect x="532.91" y="256.24" width="9.26" height="6.14" fill="#efba35"/>
<rect x="540.87" y="256.24" width="9.26" height="6.14" fill="#f1ba37"/>
<rect x="548.83" y="256.24" width="9.26" height="6.14" fill="#f5ba3b"/>
<rect x="556.79" y="256.24" width="9.26" height="6.14" fill="#f7ba3d"/>
<rect x="564.75" y="256.24" width="9.26" height="6.14" fill="#fbbb3e"/>
<rect x="572.70" y="256.24" width="9.26" height="6.14" fill="#fcbc3e"/>
<rect x="580.66" y="256.24" width="9.26" height="6.14" fill="#febd3d"/>
<rect x="588.62" y="256.24" width="9.26" height="6.14" fill="#febe3c"/>
<rect x="596.58" y="256.24" width="9.26" height="6.14" fill="#fec03b"/>
<rect x="604.54" y="256.24" width="7.96" height="6.14" fill="#fec13a"/>
<rect x="47.40" y="261.09" width="176.40" height="6.14" fill="#3e26a8"/>
<rect x="222.50" y="261.09" width="17.22" height="6.14" fill="#3e27ac"/>
<rect x="238.42" y="261.09" width="17.22" height="6.14" fill="#3f28af"/>
<rect x="254.34" y="261.09" width="9.26" height="6.14" fill="#3f29b2"/>
<rect x="262.30" y="261.09" width="9.26" height="6.14" fill="#402ab4"/>
<rect x="270.26" y="261.09" width="9.26" height="6.14" fill="#402bb7"/>
<rect x="278.22" y="261.09" width="9.26" height="6.14" fill="#412cba"/>
<rect x="286.17" y="261.09" width="9.26" height="6.14" fill="#412dbd"/>
<rect x="294.13" y="261.09" width="9.26" height="6.14" fill="#4330c5"/>
<rect x="302.09" y="261.09" width="9.26" height="6.14" fill="#4332ca"/>
<rect x="310.05" y="261.09" width="9.26" height="6.14" fill="#4535d2"/>
<rect x="318.01" y="261.09" width="9.26" height="6.14" fill="#4538d7"/>
<rect x="325.97" y="261.09" width="9.26" height="6.14" fill="#463bde"/>
<rect x="333.93" y="261.09" width="9.26" height="6.14" fill="#4744e8"/>
<rect x="341.89" y="261.09" width="9.26" height="6.14" fill="#484cf0"/>
<rect x="349.85" y="261.09" width="9.26" height="6.14" fill="#4854f6"/>
<rect x="357.81" y="261.09" width="9.26" height="6.14" fill="#465efb"/>
<rect x="365.77" y="261.09" width="9.26" height="6.14" fill="#4367fd"/>
<rect x="373.73" y="261.09" width="9.26" height="6.14" fill="#3e70ff"/>
<rect x="381.68" y="261.09" width="9.26" height="6.14" fill="#3579fd"/>
<rect x="389.64" y="261.09" width="9.26" height="6.14" fill="#2f82fa"/>
<rect x="397.60" y="261.09" width="9.26" height="6.14" fill="#2d8af5"/>
<rect x="405.56" y="261.09" width="9.26" height="6.14" fill="#2b91ef"/>
<rect x="413.52" y="261.09" width="9.26" height="6.14" fill="#2699e9"/>
<rect x="421.48" y="261.09" width="9.26" height="6.14" fill="#249fe5"/>
<rect x="429.44" y="261.09" width="9.26" height="6.14" fill="#20a5e3"/>
<rect x="437.40" y="261.09" width="9.26" height="6.14" fill="#1caadf"/>
<rect x="445.36" y="261.09" width="9.26" height="6.14" fill="#16afd9"/>
<rect x="453.32" y="261.09" width="9.26" height="6.14" fill="#0eb3d4"/>
<rect x="461.28" y="261.09" width="9.26" height="6.14" fill="#04b6ce"/>
<rect x="469.24" y="261.09" width="9.26" height="6.14" fill="#00b9c7"/>
<rect x="477.19" y="261.09" width="9.26" height="6.14" fill="#04bbc1"/>
<rect x="485.15" y="261.09" width="9.26" height="6.14" fill="#14beb8"/>
<rect x="493.11" y="261.09" width="9.26" height="6.14" fill="#2ec4a5"/>
<rect x="501.07" y="261.09" width="9.26" height="6.14" fill="#40ca8d"/>
<rect x="509.03" y="261.09" width="9.26" height="6.14" fill="#61cd72"/>
<rect x="516.99" y="261.09" width="9.26" height="6.14" fill="#8bcb51"/>
<rect x="524.95" y="261.09" width="9.26" height="6.14" fill="#b2c635"/>
<rect x="532.91" y="261.09" width="9.26" height="6.14" fill="#bbc42f"/>
<rect x="540.87" y="261.09" width="9.26" height="6.14" fill="#c5c22a"/>
<rect x="548.83" y="261.09" width="9.26" height="6.14" fill="#cec027"/>
<rect x="556.79" y="261.09" width="9.26" height="6.14" fill="#d6be27"/>
<rect x="564.75" y="261.09" width="9.26" height="6.14" fill="#debc29"/>
<rect x="572.70" y="261.09" width="9.26" height="6.14" fill="#e1bc2a"/>
<rect x="580.66" y="261.09" width="9.26" height="6.14" fill="#e3bc2b"/>
<rect x="588.62" y="261.09" width="9.26" height="6.14" fill="#e6bb2d"/>
<rect x="596.58" y="261.09" width="9.26" height="6.14" fill="#e8bb2e"/>
<rect x="604.54" y="261.09" width="7.96" height="6.14" fill="#eaba30"/>
<rect x="47.40" y="265.93" width="168.44" height="6.14" fill="#3e26a8"/>
<rect x="214.54" y="265.93" width="9.26" height="6.14" fill="#3e27ac"/>
<rect x="222.50" y="265.93" width="9.26" height="6.14" fill="#3f28af"/>
<rect x="230.46" y="265.93" width="9.26" height="6.14" fill="#3f29b2"/>
<rect x="238.42" y="265.93" width="9.26" height="6.14" fill="#402ab4"/>
<rect x="246.38" y="265.93" width="9.26" height="6.14" fill="#402bb7"/>
<rect x="254.34" y="265.93" width="9.26" height="6.14" fill="#412dbd"/>
<rect x="262.30" y="265.93" width="9.26" height="6.14" fill="#4330c5"/>
<rect x="270.26" y="265.93" width="9.26" height="6.14" fill="#4332ca"/>
<rect x="278.22" y="265.93" width="9.26" height="6.14" fill="#4535d2"/>
<rect x="286.17" y="265.93" width="9.26" height="6.14" fill="#4538d7"/>
<rect x="294.13" y="265.93" width="9.26" height="6.14" fill="#473ee1"/>
<rect x="302.09" y="265.93" width="9.26" height="6.14" fill="#4744e8"/>
<rect x="310.05" y="265.93" width="9.26" height="6.14" fill="#4849ed"/>
<rect x="318.01" y="265.93" width="9.26" height="6.14" fill="#484ff2"/>
<rect x="325.97" y="265.93" width="9.26" height="6.14" fill="#4854f6"/>
<rect x="333.93" y="265.93" width="9.26" height="6.14" fill="#475bfa"/>
<rect x="341.89" y="265.93" width="9.26" height="6.14" fill="#4562fc"/>
<rect x="349.85" y="265.93" width="9.26" height="6.14" fill="#426afe"/>
<rect x="357.81" y="265.93" width="9.26" height="6.14" fill="#3c71ff"/>
<rect x="365.77" y="265.93" width="9.26" height="6.14" fill="#337afd"/>
<rect x="373.73" y="265.93" width="9.26" height="6.14" fill="#2e83f9"/>
<rect x="381.68" y="265.93" width="9.26" height="6.14" fill="#2d8bf4"/>
<rect x="389.64" y="265.93" width="9.26" height="6.14" fill="#2a93ee"/>
<rect x="397.60" y="265.93" width="9.26" height="6.14" fill="#269ae8"/>
<rect x="405.56" y="265.93" width="9.26" height="6.14" fill="#23a1e4"/>
<rect x="413.52" y="265.93" width="9.26" height="6.14" fill="#1babde"/>
<rect x="421.48" y="265.93" width="9.26" height="6.14" fill="#08b4d1"/>
<rect x="429.44" y="265.93" width="9.26" height="6.14" fill="#02bbc2"/>
<rect x="437.40" y="265.93" width="9.26" height="6.14" fill="#1dc0b3"/>
<rect x="445.36" y="265.93" width="9.26" height="6.14" fill="#2fc5a3"/>
<rect x="453.32" y="265.93" width="9.26" height="6.14" fill="#42ca8b"/>
<rect x="461.28" y="265.93" width="9.26" height="6.14" fill="#61cd72"/>
<rect x="469.24" y="265.93" width="9.26" height="6.14" fill="#84cc56"/>
<rect x="477.19" y="265.93" width="9.26" height="6.14" fill="#a7c73b"/>
<rect x="485.15" y="265.93" width="9.26" height="6.14" fill="#cbc128"/>
<rect x="493.11" y="265.93" width="9.26" height="6.14" fill="#d9be28"/>
<rect x="501.07" y="265.93" width="9.26" height="6.14" fill="#e6bb2d"/>
<rect x="509.03" y="265.93" width="9.26" height="6.14" fill="#f1ba37"/>
<rect x="516.99" y="265.93" width="9.26" height="6.14" fill="#fbbb3e"/>
<rect x="524.95" y="265.93" width="9.26" height="6.14" fill="#fec13a"/>
<rect x="532.91" y="265.93" width="9.26" height="6.14" fill="#fec537"/>
<rect x="540.87" y="265.93" width="9.26" height="6.14" fill="#fec834"/>
<rect x="548.83" y="265.93" width="9.26" height="6.14" fill="#fdcd31"/>
<rect x="556.79" y="265.93" width="9.26" height="6.14" fill="#fcd030"/>
<rect x="564.75" y="265.93" width="9.26" height="6.14" fill="#fad52e"/>
<rect x="572.70" y="265.93" width="9.26" height="6.14" fill="#f9d62d"/>
<rect x="580.66" y="265.93" width="9.26" height="6.14" fill="#f9d82c"/>
<rect x="588.62" y="265.93" width="9.26" height="6.14" fill="#f8d92b"/>
<rect x="596.58" y="265.93" width="9.26" height="6.14" fill="#f7db2a"/>
<rect x="604.54" y="265.93" width="7.96" height="6.14" fill="#f7dd2a"/>
<rect x="47.40" y="270.77" width="88.85" height="6.14" fill="#3e26a8"/>
<rect x="134.95" y="270.77" width="9.26" height="6.14" fill="#3e27ac"/>
<rect x="142.91" y="270.77" width="9.26" height="6.14" fill="#3f29b2"/>
<rect x="150.87" y="270.77" width="9.26" height="6.14" fill="#402ab4"/>
<rect x="158.83" y="270.77" width="9.26" height="6.14" fill="#412cba"/>
<rect x="166.79" y="270.77" width="9.26" height="6.14" fill="#412dbd"/>
<rect x="174.75" y="270.77" width="9.26" height="6.14" fill="#422fc2"/>
<rect x="182.71" y="270.77" width="9.26" height="6.14" fill="#4330c5"/>
<rect x="190.66" y="270.77" width="9.26" height="6.14" fill="#4332ca"/>
<rect x="198.62" y="270.77" width="9.26" height="6.14" fill="#4433cd"/>
<rect x="206.58" y="270.77" width="9.26" height="6.14" fill="#4535d2"/>
<rect x="214.54" y="270.77" width="9.26" height="6.14" fill="#4639d9"/>
<rect x="222.50" y="270.77" width="9.26" height="6.14" fill="#463de0"/>
<rect x="230.46" y="270.77" width="9.26" height="6.14" fill="#4741e5"/>
<rect x="238.42" y="270.77" width="9.26" height="6.14" fill="#4745e9"/>
<rect x="246.38" y="270.77" width="9.26" height="6.14" fill="#4849ed"/>
<rect x="254.34" y="270.77" width="9.26" height="6.14" fill="#4854f6"/>
<rect x="262.30" y="270.77" width="9.26" height="6.14" fill="#4661fc"/>
<rect x="270.26" y="270.77" width="9.26" height="6.14" fill="#406dfe"/>
<rect x="278.22" y="270.77" width="9.26" height="6.14" fill="#3579fd"/>
<rect x="286.17" y="270.77" width="9.26" height="6.14" fill="#2e84f8"/>
<rect x="294.13" y="270.77" width="9.26" height="6.14" fill="#2d8af5"/>
<rect x="302.09" y="270.77" width="9.26" height="6.14" fill="#2c8ff1"/>
<rect x="310.05" y="270.77" width="9.26" height="6.14" fill="#2994ed"/>
<rect x="318.01" y="270.77" width="9.26" height="6.14" fill="#269ae8"/>
<rect x="325.97" y="270.77" width="9.26" height="6.14" fill="#249fe5"/>
<rect x="333.93" y="270.77" width="9.26" height="6.14" fill="#21a3e3"/>
<rect x="341.89" y="270.77" width="9.26" height="6.14" fill="#1da9e0"/>
<rect x="349.85" y="270.77" width="9.26" height="6.14" fill="#19addc"/>
<rect x="357.81" y="270.77" width="9.26" height="6.14" fill="#10b2d5"/>
<rect x="365.77" y="270.77" width="9.26" height="6.14" fill="#04b6ce"/>
<rect x="373.73" y="270.77" width="9.26" height="6.14" fill="#01bac4"/>
<rect x="381.68" y="270.77" width="9.26" height="6.14" fill="#14beb8"/>
<rect x="389.64" y="270.77" width="9.26" height="6.14" fill="#27c2ac"/>
<rect x="397.60" y="270.77" width="9.26" height="6.14" fill="#31c5a1"/>
<rect x="405.56" y="270.77" width="9.26" height="6.14" fill="#3bc992"/>
<rect x="413.52" y="270.77" width="9.26" height="6.14" fill="#4bcb84"/>
<rect x="421.48" y="270.77" width="9.26" height="6.14" fill="#5ecd74"/>
<rect x="429.44" y="270.77" width="9.26" height="6.14" fill="#72cd64"/>
<rect x="437.40" y="270.77" width="9.26" height="6.14" fill="#8bcb51"/>
<rect x="445.36" y="270.77" width="9.26" height="6.14" fill="#a1c840"/>
<rect x="453.32" y="270.77" width="9.26" height="6.14" fill="#b2c635"/>
<rect x="461.28" y="270.77" width="9.26" height="6.14" fill="#c2c32c"/>
<rect x="469.24" y="270.77" width="9.26" height="6.14" fill="#d0bf27"/>
<rect x="477.19" y="270.77" width="9.26" height="6.14" fill="#debc29"/>
<rect x="485.15" y="270.77" width="9.26" height="6.14" fill="#eaba30"/>
<rect x="493.11" y="270.77" width="9.26" height="6.14" fill="#efba35"/>
<rect x="501.07" y="270.77" width="9.26" height="6.14" fill="#f1ba37"/>
<rect x="509.03" y="270.77" width="9.26" height="6.14" fill="#f5ba3b"/>
<rect x="516.99" y="270.77" width="9.26" height="6.14" fill="#f7ba3d"/>
<rect x="524.95" y="270.77" width="9.26" height="6.14" fill="#fbbb3e"/>
<rect x="532.91" y="270.77" width="9.26" height="6.14" fill="#fcbc3e"/>
<rect x="540.87" y="270.77" width="9.26" height="6.14" fill="#febd3d"/>
<rect x="548.83" y="270.77" width="9.26" height="6.14" fill="#febe3c"/>
<rect x="556.79" y="270.77" width="9.26" height="6.14" fill="#fec03b"/>
<rect x="564.75" y="270.77" width="9.26" height="6.14" fill="#fec13a"/>
<rect x="572.70" y="270.77" width="17.22" height="6.14" fill="#fec239"/>
<rect x="588.62" y="270.77" width="17.22" height="6.14" fill="#fec438"/>
<rect x="604.54" y="270.77" width="7.96" height="6.14" fill="#fec537"/>
<rect x="47.40" y="275.61" width="96.81" height="6.14" fill="#3e26a8"/>
<rect x="142.91" y="275.61" width="17.22" height="6.14" fill="#3e27ac"/>
<rect x="158.83" y="275.61" width="17.22" height="6.14" fill="#3f28af"/>
<rect x="174.75" y="275.61" width="9.26" height="6.14" fill="#402ab4"/>
<rect x="182.71" y="275.61" width="9.26" height="6.14" fill="#412cba"/>
<rect x="190.66" y="275.61" width="9.26" height="6.14" fill="#422ebf"/>
<rect x="198.62" y="275.61" width="9.26" height="6.14" fill="#4330c5"/>
<rect x="206.58" y="275.61" width="9.26" height="6.14" fill="#4332ca"/>
<rect x="214.54" y="275.61" width="9.26" height="6.14" fill="#4535d2"/>
<rect x="222.50" y="275.61" width="9.26" height="6.14" fill="#4538d7"/>
<rect x="230.46" y="275.61" width="9.26" height="6.14" fill="#463bde"/>
<rect x="238.42" y="275.61" width="9.26" height="6.14" fill="#473fe3"/>
<rect x="246.38" y="275.61" width="9.26" height="6.14" fill="#4742e6"/>
<rect x="254.34" y="275.61" width="9.26" height="6.14" fill="#4849ed"/>
<rect x="262.30" y="275.61" width="9.26" height="6.14" fill="#4850f3"/>
<rect x="270.26" y="275.61" width="9.26" height="6.14" fill="#4757f7"/>
<rect x="278.22" y="275.61" width="9.26" height="6.14" fill="#4660fb"/>
<rect x="286.17" y="275.61" width="9.26" height="6.14" fill="#4367fd"/>
<rect x="294.13" y="275.61" width="9.26" height="6.14" fill="#3f6eff"/>
<rect x="302.09" y="275.61" width="9.26" height="6.14" fill="#3876fe"/>
<rect x="310.05" y="275.61" width="9.26" height="6.14" fill="#317dfc"/>
<rect x="318.01" y="275.61" width="9.26" height="6.14" fill="#2e84f8"/>
<rect x="325.97" y="275.61" width="9.26" height="6.14" fill="#2d8bf4"/>
<rect x="333.93" y="275.61" width="9.26" height="6.14" fill="#2b91ef"/>
<rect x="341.89" y="275.61" width="9.26" height="6.14" fill="#2699e9"/>
<rect x="349.85" y="275.61" width="9.26" height="6.14" fill="#249fe5"/>
<rect x="357.81" y="275.61" width="9.26" height="6.14" fill="#20a5e3"/>
<rect x="365.77" y="275.61" width="9.26" height="6.14" fill="#1caadf"/>
<rect x="373.73" y="275.61" width="9.26" height="6.14" fill="#1aacdd"/>
<rect x="381.68" y="275.61" width="9.26" height="6.14" fill="#17aeda"/>
<rect x="389.64" y="275.61" width="9.26" height="6.14" fill="#14b0d8"/>
<rect x="397.60" y="275.61" width="9.26" height="6.14" fill="#10b2d5"/>
<rect x="405.56" y="275.61" width="9.26" height="6.14" fill="#0bb3d2"/>
<rect x="413.52" y="275.61" width="9.26" height="6.14" fill="#08b4d1"/>
<rect x="421.48" y="275.61" width="9.26" height="6.14" fill="#06b5cf"/>
<rect x="429.44" y="275.61" width="9.26" height="6.14" fill="#04b6ce"/>
<rect x="437.40" y="275.61" width="9.26" height="6.14" fill="#02b7cc"/>
<rect x="445.36" y="275.61" width="9.26" height="6.14" fill="#01b7ca"/>
<rect x="453.32" y="275.61" width="9.26" height="6.14" fill="#04b6ce"/>
<rect x="461.28" y="275.61" width="9.26" height="6.14" fill="#08b4d1"/>
<rect x="469.24" y="275.61" width="9.26" height="6.14" fill="#0eb3d4"/>
<rect x="477.19" y="275.61" width="9.26" height="6.14" fill="#12b1d6"/>
<rect x="485.15" y="275.61" width="9.26" height="6.14" fill="#16afd9"/>
<rect x="493.11" y="275.61" width="9.26" height="6.14" fill="#19addc"/>
<rect x="501.07" y="275.61" width="9.26" height="6.14" fill="#1babde"/>
<rect x="509.03" y="275.61" width="9.26" height="6.14" fill="#1da9e0"/>
<rect x="516.99" y="275.61" width="9.26" height="6.14" fill="#1ea7e1"/>
<rect x="524.95" y="275.61" width="9.26" height="6.14" fill="#20a5e3"/>
<rect x="532.91" y="275.61" width="17.22" height="6.14" fill="#21a3e3"/>
<rect x="548.83" y="275.61" width="17.22" height="6.14" fill="#22a2e4"/>
<rect x="564.75" y="275.61" width="47.75" height="6.14" fill="#23a1e4"/>
<rect x="47.40" y="280.46" width="128.65" height="4.84" fill="#3e26a8"/>
<rect x="174.75" y="280.46" width="9.26" height="4.84" fill="#3e27ac"/>
<rect x="182.71" y="280.46" width="9.26" height="4.84" fill="#3f28af"/>
<rect x="190.66" y="280.46" width="9.26" height="4.84" fill="#3f29b2"/>
<rect x="198.62" y="280.46" width="9.26" height="4.84" fill="#402ab4"/>
<rect x="206.58" y="280.46" width="9.26" height="4.84" fill="#402bb7"/>
<rect x="214.54" y="280.46" width="9.26" height="4.84" fill="#412cba"/>
<rect x="222.50" y="280.46" width="9.26" height="4.84" fill="#422ebf"/>
<rect x="230.46" y="280.46" width="9.26" height="4.84" fill="#422fc2"/>
<rect x="238.42" y="280.46" width="9.26" height="4.84" fill="#4331c8"/>
<rect x="246.38" y="280.46" width="9.26" height="4.84" fill="#4332ca"/>
<rect x="254.34" y="280.46" width="9.26" height="4.84" fill="#4538d7"/>
<rect x="262.30" y="280.46" width="9.26" height="4.84" fill="#473fe3"/>
<rect x="270.26" y="280.46" width="9.26" height="4.84" fill="#4746eb"/>
<rect x="278.22" y="280.46" width="9.26" height="4.84" fill="#484ef1"/>
<rect x="286.17" y="280.46" width="9.26" height="4.84" fill="#4854f6"/>
<rect x="294.13" y="280.46" width="9.26" height="4.84" fill="#475bfa"/>
<rect x="302.09" y="280.46" width="9.26" height="4.84" fill="#4562fc"/>
<rect x="310.05" y="280.46" width="9.26" height="4.84" fill="#426afe"/>
<rect x="318.01" y="280.46" width="9.26" height="4.84" fill="#3c71ff"/>
<rect x="325.97" y="280.46" width="9.26" height="4.84" fill="#337afd"/>
<rect x="333.93" y="280.46" width="9.26" height="4.84" fill="#2f80fa"/>
<rect x="341.89" y="280.46" width="9.26" height="4.84" fill="#2e86f8"/>
<rect x="349.85" y="280.46" width="9.26" height="4.84" fill="#2d8bf4"/>
<rect x="357.81" y="280.46" width="9.26" height="4.84" fill="#2c90f0"/>
<rect x="365.77" y="280.46" width="9.26" height="4.84" fill="#2895ec"/>
<rect x="373.73" y="280.46" width="9.26" height="4.84" fill="#2699e9"/>
<rect x="381.68" y="280.46" width="9.26" height="4.84" fill="#259ce7"/>
<rect x="389.64" y="280.46" width="9.26" height="4.84" fill="#23a0e5"/>
<rect x="397.60" y="280.46" width="9.26" height="4.84" fill="#21a3e3"/>
<rect x="405.56" y="280.46" width="9.26" height="4.84" fill="#1ea7e1"/>
<rect x="413.52" y="280.46" width="9.26" height="4.84" fill="#1da9e0"/>
<rect x="421.48" y="280.46" width="9.26" height="4.84" fill="#1babde"/>
<rect x="429.44" y="280.46" width="9.26" height="4.84" fill="#19addc"/>
<rect x="437.40" y="280.46" width="9.26" height="4.84" fill="#14b0d8"/>
<rect x="445.36" y="280.46" width="9.26" height="4.84" fill="#10b2d5"/>
<rect x="453.32" y="280.46" width="9.26" height="4.84" fill="#0eb3d4"/>
<rect x="461.28" y="280.46" width="9.26" height="4.84" fill="#08b4d1"/>
<rect x="469.24" y="280.46" width="9.26" height="4.84" fill="#06b5cf"/>
<rect x="477.19" y="280.46" width="9.26" height="4.84" fill="#02b7cc"/>
<rect x="485.15" y="280.46" width="9.26" height="4.84" fill="#01b7ca"/>
<rect x="493.11" y="280.46" width="9.26" height="4.84" fill="#00b9c7"/>
<rect x="501.07" y="280.46" width="9.26" height="4.84" fill="#01bac4"/>
<rect x="509.03" y="280.46" width="9.26" height="4.84" fill="#04bbc1"/>
<rect x="516.99" y="280.46" width="9.26" height="4.84" fill="#09bdbd"/>
<rect x="524.95" y="280.46" width="9.26" height="4.84" fill="#14beb8"/>
<rect x="532.91" y="280.46" width="9.26" height="4.84" fill="#1ac0b5"/>
<rect x="540.87" y="280.46" width="9.26" height="4.84" fill="#23c1af"/>
<rect x="548.83" y="280.46" width="9.26" height="4.84" fill="#27c2ac"/>
<rect x="556.79" y="280.46" width="9.26" height="4.84" fill="#2cc4a6"/>
<rect x="564.75" y="280.46" width="9.26" height="4.84" fill="#2fc5a3"/>
<rect x="572.70" y="280.46" width="9.26" height="4.84" fill="#32c69f"/>
<rect x="580.66" y="280.46" width="9.26" height="4.84" fill="#33c79d"/>
<rect x="588.62" y="280.46" width="9.26" height="4.84" fill="#36c899"/>
<rect x="596.58" y="280.46" width="9.26" height="4.84" fill="#38c896"/>
<rect x="604.54" y="280.46" width="7.96" height="4.84" fill="#3bc992"/>
</g>
<rect x="47.40" y="183.60" width="565.10" height="101.70" fill="none" stroke="#262626" stroke-width="0.8"/>
<path d="M51.38 183.60v5.7M51.38 285.30v-5.7" stroke="#262626" stroke-width="0.7" fill="none"/>
<text x="51.08" y="306.00" text-anchor="middle" font-size="16">-20</text>
<path d="M130.97 183.60v5.7M130.97 285.30v-5.7" stroke="#262626" stroke-width="0.7" fill="none"/>
<text x="130.67" y="306.00" text-anchor="middle" font-size="16">-10</text>
<path d="M210.56 183.60v5.7M210.56 285.30v-5.7" stroke="#262626" stroke-width="0.7" fill="none"/>
<text x="210.26" y="306.00" text-anchor="middle" font-size="16">0</text>
<path d="M290.15 183.60v5.7M290.15 285.30v-5.7" stroke="#262626" stroke-width="0.7" fill="none"/>
<text x="289.85" y="306.00" text-anchor="middle" font-size="16">10</text>
<path d="M369.75 183.60v5.7M369.75 285.30v-5.7" stroke="#262626" stroke-width="0.7" fill="none"/>
<text x="369.45" y="306.00" text-anchor="middle" font-size="16">20</text>
<path d="M449.34 183.60v5.7M449.34 285.30v-5.7" stroke="#262626" stroke-width="0.7" fill="none"/>
<text x="449.04" y="306.00" text-anchor="middle" font-size="16">30</text>
<path d="M528.93 183.60v5.7M528.93 285.30v-5.7" stroke="#262626" stroke-width="0.7" fill="none"/>
<text x="528.63" y="306.00" text-anchor="middle" font-size="16">40</text>
<path d="M608.52 183.60v5.7M608.52 285.30v-5.7" stroke="#262626" stroke-width="0.7" fill="none"/>
<text x="608.22" y="306.00" text-anchor="middle" font-size="16">50</text>
<path d="M47.40 186.02h5.7M612.50 186.02h-5.7" stroke="#262626" stroke-width="0.7" fill="none"/>
<text x="41.80" y="191.62" text-anchor="end" font-size="16">7</text>
<path d="M47.40 210.24h5.7M612.50 210.24h-5.7" stroke="#262626" stroke-width="0.7" fill="none"/>
<text x="41.80" y="215.84" text-anchor="end" font-size="16">8</text>
<path d="M47.40 234.45h5.7M612.50 234.45h-5.7" stroke="#262626" stroke-width="0.7" fill="none"/>
<text x="41.80" y="240.05" text-anchor="end" font-size="16">9</text>
<path d="M47.40 258.66h5.7M612.50 258.66h-5.7" stroke="#262626" stroke-width="0.7" fill="none"/>
<text x="41.80" y="264.26" text-anchor="end" font-size="16">10</text>
<path d="M47.40 282.88h5.7M612.50 282.88h-5.7" stroke="#262626" stroke-width="0.7" fill="none"/>
<text x="41.80" y="288.48" text-anchor="end" font-size="16">11</text>
<text x="132.60" y="175.90" font-size="22.4">Maximum detectable range for tagged drone</text>
<text x="55.90" y="205.00" font-size="22" style="fill:#fff">(b)</text>
<linearGradient id="cb1" x1="0" y1="1" x2="0" y2="0"><stop offset="0.0000" stop-color="#3e26a8"/><stop offset="0.0156" stop-color="#402ab4"/><stop offset="0.0312" stop-color="#422ebf"/><stop offset="0.0469" stop-color="#4332ca"/><stop offset="0.0625" stop-color="#4537d5"/><stop offset="0.0781" stop-color="#463bde"/><stop offset="0.0938" stop-color="#4741e5"/><stop offset="0.1094" stop-color="#4746eb"/><stop offset="0.1250" stop-color="#484cf0"/><stop offset="0.1406" stop-color="#4852f4"/><stop offset="0.1562" stop-color="#4757f7"/><stop offset="0.1719" stop-color="#475dfa"/><stop offset="0.1875" stop-color="#4562fc"/><stop offset="0.2031" stop-color="#4368fe"/><stop offset="0.2188" stop-color="#3f6eff"/><stop offset="0.2344" stop-color="#3974ff"/><stop offset="0.2500" stop-color="#337afd"/><stop offset="0.2656" stop-color="#2f80fa"/><stop offset="0.2812" stop-color="#2e86f8"/><stop offset="0.2969" stop-color="#2d8bf4"/><stop offset="0.3125" stop-color="#2c90f0"/><stop offset="0.3281" stop-color="#2895ec"/><stop offset="0.3438" stop-color="#269ae8"/><stop offset="0.3594" stop-color="#249fe5"/><stop offset="0.3750" stop-color="#21a3e3"/><stop offset="0.3906" stop-color="#1da8e1"/><stop offset="0.4062" stop-color="#1aacdd"/><stop offset="0.4219" stop-color="#14b0d8"/><stop offset="0.4375" stop-color="#0bb3d2"/><stop offset="0.4531" stop-color="#02b7cc"/><stop offset="0.4688" stop-color="#00bac6"/><stop offset="0.4844" stop-color="#06bcbf"/><stop offset="0.5000" stop-color="#14beb8"/><stop offset="0.5156" stop-color="#20c1b1"/><stop offset="0.5312" stop-color="#29c3aa"/><stop offset="0.5469" stop-color="#2fc5a3"/><stop offset="0.5625" stop-color="#35c79b"/><stop offset="0.5781" stop-color="#3bc992"/><stop offset="0.5938" stop-color="#45cb89"/><stop offset="0.6094" stop-color="#51cc7f"/><stop offset="0.6250" stop-color="#5ecd74"/><stop offset="0.6406" stop-color="#6bcd69"/><stop offset="0.6562" stop-color="#79cc5e"/><stop offset="0.6719" stop-color="#88cb53"/><stop offset="0.6875" stop-color="#96ca48"/><stop offset="0.7031" stop-color="#a4c83e"/><stop offset="0.7188" stop-color="#b2c635"/><stop offset="0.7344" stop-color="#bec32d"/><stop offset="0.7500" stop-color="#cbc128"/><stop offset="0.7656" stop-color="#d6be27"/><stop offset="0.7812" stop-color="#e1bc2a"/><stop offset="0.7969" stop-color="#eaba30"/><stop offset="0.8125" stop-color="#f3ba39"/><stop offset="0.8281" stop-color="#fbbb3e"/><stop offset="0.8438" stop-color="#fec03b"/><stop offset="0.8594" stop-color="#fec537"/><stop offset="0.8750" stop-color="#fdcb32"/><stop offset="0.8906" stop-color="#fbd22f"/><stop offset="0.9062" stop-color="#f9d82c"/><stop offset="0.9219" stop-color="#f6de29"/><stop offset="0.9375" stop-color="#f5e526"/><stop offset="0.9531" stop-color="#f5eb23"/><stop offset="0.9688" stop-color="#f6f11f"/><stop offset="0.9844" stop-color="#f8f71a"/><stop offset="1.0000" stop-color="#f9fb15"/></linearGradient>
<rect x="625.20" y="183.60" width="19.00" height="101.70" fill="url(#cb1)" stroke="#262626" stroke-width="0.8"/>
<path d="M644.20 285.30h-1.6" stroke="#262626" stroke-width="0.7"/>
<text x="649.20" y="290.00" font-size="16">0</text>
<path d="M644.20 254.29h-1.6" stroke="#262626" stroke-width="0.7"/>
<text x="649.20" y="258.99" font-size="16">10</text>
<path d="M644.20 223.29h-1.6" stroke="#262626" stroke-width="0.7"/>
<text x="649.20" y="227.99" font-size="16">20</text>
<path d="M644.20 192.28h-1.6" stroke="#262626" stroke-width="0.7"/>
<text x="649.20" y="196.98" font-size="16">30</text>
<text transform="translate(682.30 234.05) rotate(-90)" text-anchor="middle" font-size="18.9">Distance, m</text>
<text transform="translate(17 235.85) rotate(-90)" text-anchor="middle" font-size="22.9">f<tspan font-size="13.9" dy="4.2">carrier</tspan><tspan dy="-4.2">, GHz</tspan></text>
<g>
<rect x="47.40" y="341.40" width="112.73" height="6.16" fill="#4367fd"/>
<rect x="158.83" y="341.40" width="9.26" height="6.16" fill="#4660fb"/>
<rect x="166.79" y="341.40" width="9.26" height="6.16" fill="#4661fc"/>
<rect x="174.75" y="341.40" width="9.26" height="6.16" fill="#4564fd"/>
<rect x="182.71" y="341.40" width="9.26" height="6.16" fill="#4367fd"/>
<rect x="190.66" y="341.40" width="9.26" height="6.16" fill="#4368fe"/>
<rect x="198.62" y="341.40" width="9.26" height="6.16" fill="#4854f6"/>
<rect x="206.58" y="341.40" width="9.26" height="6.16" fill="#426afe"/>
<rect x="214.54" y="341.40" width="17.22" height="6.16" fill="#416bfe"/>
<rect x="230.46" y="341.40" width="17.22" height="6.16" fill="#4757f7"/>
<rect x="246.38" y="341.40" width="17.22" height="6.16" fill="#406dfe"/>
<rect x="262.30" y="341.40" width="17.22" height="6.16" fill="#3f6eff"/>
<rect x="278.22" y="341.40" width="9.26" height="6.16" fill="#3c71ff"/>
<rect x="286.17" y="341.40" width="9.26" height="6.16" fill="#3974ff"/>
<rect x="294.13" y="341.40" width="9.26" height="6.16" fill="#3677fe"/>
<rect x="302.09" y="341.40" width="9.26" height="6.16" fill="#337afd"/>
<rect x="310.05" y="341.40" width="17.22" height="6.16" fill="#2895ec"/>
<rect x="325.97" y="341.40" width="17.22" height="6.16" fill="#2797eb"/>
<rect x="341.89" y="341.40" width="17.22" height="6.16" fill="#2798ea"/>
<rect x="357.81" y="341.40" width="9.26" height="6.16" fill="#1caadf"/>
<rect x="365.77" y="341.40" width="17.22" height="6.16" fill="#2699e9"/>
<rect x="381.68" y="341.40" width="17.22" height="6.16" fill="#269ae8"/>
<rect x="397.60" y="341.40" width="17.22" height="6.16" fill="#259be8"/>
<rect x="413.52" y="341.40" width="9.26" height="6.16" fill="#249ee6"/>
<rect x="421.48" y="341.40" width="9.26" height="6.16" fill="#249fe5"/>
<rect x="429.44" y="341.40" width="9.26" height="6.16" fill="#23a1e4"/>
<rect x="437.40" y="341.40" width="9.26" height="6.16" fill="#22a2e4"/>
<rect x="445.36" y="341.40" width="9.26" height="6.16" fill="#20a5e3"/>
<rect x="453.32" y="341.40" width="9.26" height="6.16" fill="#1fa6e2"/>
<rect x="461.28" y="341.40" width="9.26" height="6.16" fill="#1ea7e1"/>
<rect x="469.24" y="341.40" width="9.26" height="6.16" fill="#1da8e1"/>
<rect x="477.19" y="341.40" width="9.26" height="6.16" fill="#1da9e0"/>
<rect x="485.15" y="341.40" width="9.26" height="6.16" fill="#1caadf"/>
<rect x="493.11" y="341.40" width="9.26" height="6.16" fill="#1babde"/>
<rect x="501.07" y="341.40" width="9.26" height="6.16" fill="#1aacdd"/>
<rect x="509.03" y="341.40" width="9.26" height="6.16" fill="#19addc"/>
<rect x="516.99" y="341.40" width="9.26" height="6.16" fill="#17aeda"/>
<rect x="524.95" y="341.40" width="87.55" height="6.16" fill="#16afd9"/>
<rect x="47.40" y="346.26" width="112.73" height="6.16" fill="#4367fd"/>
<rect x="158.83" y="346.26" width="17.22" height="6.16" fill="#475bfa"/>
<rect x="174.75" y="346.26" width="49.05" height="6.16" fill="#4367fd"/>
<rect x="222.50" y="346.26" width="9.26" height="6.16" fill="#4368fe"/>
<rect x="230.46" y="346.26" width="9.26" height="6.16" fill="#426afe"/>
<rect x="238.42" y="346.26" width="9.26" height="6.16" fill="#416bfe"/>
<rect x="246.38" y="346.26" width="17.22" height="6.16" fill="#406dfe"/>
<rect x="262.30" y="346.26" width="9.26" height="6.16" fill="#3f6eff"/>
<rect x="270.26" y="346.26" width="9.26" height="6.16" fill="#3e70ff"/>
<rect x="278.22" y="346.26" width="41.10" height="6.16" fill="#3c71ff"/>
<rect x="318.01" y="346.26" width="9.26" height="6.16" fill="#4854f6"/>
<rect x="325.97" y="346.26" width="25.18" height="6.16" fill="#3e70ff"/>
<rect x="349.85" y="346.26" width="25.18" height="6.16" fill="#3f6eff"/>
<rect x="373.73" y="346.26" width="9.26" height="6.16" fill="#4368fe"/>
<rect x="381.68" y="346.26" width="9.26" height="6.16" fill="#4661fc"/>
<rect x="389.64" y="346.26" width="33.14" height="6.16" fill="#475bfa"/>
<rect x="421.48" y="346.26" width="9.26" height="6.16" fill="#4564fd"/>
<rect x="429.44" y="346.26" width="25.18" height="6.16" fill="#3f6eff"/>
<rect x="453.32" y="346.26" width="9.26" height="6.16" fill="#475bfa"/>
<rect x="461.28" y="346.26" width="41.10" height="6.16" fill="#3f6eff"/>
<rect x="501.07" y="346.26" width="9.26" height="6.16" fill="#475bfa"/>
<rect x="509.03" y="346.26" width="64.97" height="6.16" fill="#3f6eff"/>
<rect x="572.70" y="346.26" width="9.26" height="6.16" fill="#3e70ff"/>
<rect x="580.66" y="346.26" width="9.26" height="6.16" fill="#3b73ff"/>
<rect x="588.62" y="346.26" width="9.26" height="6.16" fill="#3974ff"/>
<rect x="596.58" y="346.26" width="9.26" height="6.16" fill="#3677fe"/>
<rect x="604.54" y="346.26" width="7.96" height="6.16" fill="#337afd"/>
<rect x="47.40" y="351.11" width="112.73" height="6.16" fill="#4367fd"/>
<rect x="158.83" y="351.11" width="17.22" height="6.16" fill="#4854f6"/>
<rect x="174.75" y="351.11" width="17.22" height="6.16" fill="#4756f7"/>
<rect x="190.66" y="351.11" width="9.26" height="6.16" fill="#4757f7"/>
<rect x="198.62" y="351.11" width="9.26" height="6.16" fill="#484ef1"/>
<rect x="206.58" y="351.11" width="17.22" height="6.16" fill="#3f6eff"/>
<rect x="222.50" y="351.11" width="17.22" height="6.16" fill="#3e70ff"/>
<rect x="238.42" y="351.11" width="17.22" height="6.16" fill="#3c71ff"/>
<rect x="254.34" y="351.11" width="9.26" height="6.16" fill="#4854f6"/>
<rect x="262.30" y="351.11" width="9.26" height="6.16" fill="#3b73ff"/>
<rect x="270.26" y="351.11" width="9.26" height="6.16" fill="#3974ff"/>
<rect x="278.22" y="351.11" width="9.26" height="6.16" fill="#475bfa"/>
<rect x="286.17" y="351.11" width="17.22" height="6.16" fill="#3876fe"/>
<rect x="302.09" y="351.11" width="17.22" height="6.16" fill="#3677fe"/>
<rect x="318.01" y="351.11" width="9.26" height="6.16" fill="#3579fd"/>
<rect x="325.97" y="351.11" width="9.26" height="6.16" fill="#337afd"/>
<rect x="333.93" y="351.11" width="9.26" height="6.16" fill="#406dfe"/>
<rect x="341.89" y="351.11" width="9.26" height="6.16" fill="#4660fb"/>
<rect x="349.85" y="351.11" width="9.26" height="6.16" fill="#4562fc"/>
<rect x="357.81" y="351.11" width="9.26" height="6.16" fill="#4367fd"/>
<rect x="365.77" y="351.11" width="49.05" height="6.16" fill="#4854f6"/>
<rect x="413.52" y="351.11" width="9.26" height="6.16" fill="#4367fd"/>
<rect x="421.48" y="351.11" width="17.22" height="6.16" fill="#4854f6"/>
<rect x="437.40" y="351.11" width="9.26" height="6.16" fill="#4367fd"/>
<rect x="445.36" y="351.11" width="9.26" height="6.16" fill="#416bfe"/>
<rect x="453.32" y="351.11" width="9.26" height="6.16" fill="#3e70ff"/>
<rect x="461.28" y="351.11" width="9.26" height="6.16" fill="#3974ff"/>
<rect x="469.24" y="351.11" width="9.26" height="6.16" fill="#337afd"/>
<rect x="477.19" y="351.11" width="9.26" height="6.16" fill="#3876fe"/>
<rect x="485.15" y="351.11" width="9.26" height="6.16" fill="#3c71ff"/>
<rect x="493.11" y="351.11" width="41.10" height="6.16" fill="#3f6eff"/>
<rect x="532.91" y="351.11" width="9.26" height="6.16" fill="#3974ff"/>
<rect x="540.87" y="351.11" width="9.26" height="6.16" fill="#337afd"/>
<rect x="548.83" y="351.11" width="63.67" height="6.16" fill="#2f82fa"/>
<rect x="47.40" y="355.97" width="128.65" height="6.16" fill="#4367fd"/>
<rect x="174.75" y="355.97" width="9.26" height="6.16" fill="#4368fe"/>
<rect x="182.71" y="355.97" width="9.26" height="6.16" fill="#416bfe"/>
<rect x="190.66" y="355.97" width="9.26" height="6.16" fill="#406dfe"/>
<rect x="198.62" y="355.97" width="9.26" height="6.16" fill="#3e70ff"/>
<rect x="206.58" y="355.97" width="9.26" height="6.16" fill="#3c71ff"/>
<rect x="214.54" y="355.97" width="25.18" height="6.16" fill="#3b73ff"/>
<rect x="238.42" y="355.97" width="17.22" height="6.16" fill="#3974ff"/>
<rect x="254.34" y="355.97" width="25.18" height="6.16" fill="#3876fe"/>
<rect x="278.22" y="355.97" width="25.18" height="6.16" fill="#3677fe"/>
<rect x="302.09" y="355.97" width="17.22" height="6.16" fill="#3579fd"/>
<rect x="318.01" y="355.97" width="9.26" height="6.16" fill="#337afd"/>
<rect x="325.97" y="355.97" width="9.26" height="6.16" fill="#3579fd"/>
<rect x="333.93" y="355.97" width="9.26" height="6.16" fill="#3677fe"/>
<rect x="341.89" y="355.97" width="17.22" height="6.16" fill="#3876fe"/>
<rect x="357.81" y="355.97" width="9.26" height="6.16" fill="#3974ff"/>
<rect x="365.77" y="355.97" width="17.22" height="6.16" fill="#3b73ff"/>
<rect x="381.68" y="355.97" width="9.26" height="6.16" fill="#3c71ff"/>
<rect x="389.64" y="355.97" width="17.22" height="6.16" fill="#3e70ff"/>
<rect x="405.56" y="355.97" width="9.26" height="6.16" fill="#3f6eff"/>
<rect x="413.52" y="355.97" width="9.26" height="6.16" fill="#3c71ff"/>
<rect x="421.48" y="355.97" width="9.26" height="6.16" fill="#3974ff"/>
<rect x="429.44" y="355.97" width="9.26" height="6.16" fill="#3677fe"/>
<rect x="437.40" y="355.97" width="9.26" height="6.16" fill="#337afd"/>
<rect x="445.36" y="355.97" width="9.26" height="6.16" fill="#4367fd"/>
<rect x="453.32" y="355.97" width="17.22" height="6.16" fill="#337afd"/>
<rect x="469.24" y="355.97" width="9.26" height="6.16" fill="#4854f6"/>
<rect x="477.19" y="355.97" width="9.26" height="6.16" fill="#463bde"/>
<rect x="485.15" y="355.97" width="9.26" height="6.16" fill="#4367fd"/>
<rect x="493.11" y="355.97" width="17.22" height="6.16" fill="#4849ed"/>
<rect x="509.03" y="355.97" width="9.26" height="6.16" fill="#4538d7"/>
<rect x="516.99" y="355.97" width="9.26" height="6.16" fill="#4854f6"/>
<rect x="524.95" y="355.97" width="9.26" height="6.16" fill="#4742e6"/>
<rect x="532.91" y="355.97" width="9.26" height="6.16" fill="#4854f6"/>
<rect x="540.87" y="355.97" width="9.26" height="6.16" fill="#4849ed"/>
<rect x="548.83" y="355.97" width="9.26" height="6.16" fill="#4854f6"/>
<rect x="556.79" y="355.97" width="9.26" height="6.16" fill="#4849ed"/>
<rect x="564.75" y="355.97" width="47.75" height="6.16" fill="#4854f6"/>
<rect x="47.40" y="360.83" width="41.10" height="6.16" fill="#4367fd"/>
<rect x="87.20" y="360.83" width="57.01" height="6.16" fill="#4368fe"/>
<rect x="142.91" y="360.83" width="41.10" height="6.16" fill="#426afe"/>
<rect x="182.71" y="360.83" width="25.18" height="6.16" fill="#416bfe"/>
<rect x="206.58" y="360.83" width="25.18" height="6.16" fill="#406dfe"/>
<rect x="230.46" y="360.83" width="17.22" height="6.16" fill="#3f6eff"/>
<rect x="246.38" y="360.83" width="64.97" height="6.16" fill="#475bfa"/>
<rect x="310.05" y="360.83" width="41.10" height="6.16" fill="#3f6eff"/>
<rect x="349.85" y="360.83" width="9.26" height="6.16" fill="#16afd9"/>
<rect x="357.81" y="360.83" width="9.26" height="6.16" fill="#12b1d6"/>
<rect x="365.77" y="360.83" width="9.26" height="6.16" fill="#10b2d5"/>
<rect x="373.73" y="360.83" width="9.26" height="6.16" fill="#0bb3d2"/>
<rect x="381.68" y="360.83" width="9.26" height="6.16" fill="#08b4d1"/>
<rect x="389.64" y="360.83" width="9.26" height="6.16" fill="#04b6ce"/>
<rect x="397.60" y="360.83" width="9.26" height="6.16" fill="#23c1af"/>
<rect x="405.56" y="360.83" width="25.18" height="6.16" fill="#00bac6"/>
<rect x="429.44" y="360.83" width="9.26" height="6.16" fill="#20a5e3"/>
<rect x="437.40" y="360.83" width="25.18" height="6.16" fill="#2d8bf4"/>
<rect x="461.28" y="360.83" width="112.73" height="6.16" fill="#3f6eff"/>
<rect x="572.70" y="360.83" width="9.26" height="6.16" fill="#3e70ff"/>
<rect x="580.66" y="360.83" width="9.26" height="6.16" fill="#3b73ff"/>
<rect x="588.62" y="360.83" width="9.26" height="6.16" fill="#3974ff"/>
<rect x="596.58" y="360.83" width="9.26" height="6.16" fill="#3677fe"/>
<rect x="604.54" y="360.83" width="7.96" height="6.16" fill="#337afd"/>
<rect x="47.40" y="365.69" width="96.81" height="6.16" fill="#4367fd"/>
<rect x="142.91" y="365.69" width="25.18" height="6.16" fill="#475bfa"/>
<rect x="166.79" y="365.69" width="33.14" height="6.16" fill="#4367fd"/>
<rect x="198.62" y="365.69" width="9.26" height="6.16" fill="#2f82fa"/>
<rect x="206.58" y="365.69" width="9.26" height="6.16" fill="#2d8bf4"/>
<rect x="214.54" y="365.69" width="9.26" height="6.16" fill="#2d8ef2"/>
<rect x="222.50" y="365.69" width="9.26" height="6.16" fill="#2c90f0"/>
<rect x="230.46" y="365.69" width="9.26" height="6.16" fill="#2b91ef"/>
<rect x="238.42" y="365.69" width="9.26" height="6.16" fill="#2c90f0"/>
<rect x="246.38" y="365.69" width="9.26" height="6.16" fill="#2c8ff1"/>
<rect x="254.34" y="365.69" width="9.26" height="6.16" fill="#2d8ef2"/>
<rect x="262.30" y="365.69" width="9.26" height="6.16" fill="#2d8cf3"/>
<rect x="270.26" y="365.69" width="9.26" height="6.16" fill="#2d8bf4"/>
<rect x="278.22" y="365.69" width="9.26" height="6.16" fill="#2d8af5"/>
<rect x="286.17" y="365.69" width="9.26" height="6.16" fill="#2e87f7"/>
<rect x="294.13" y="365.69" width="9.26" height="6.16" fill="#2e86f8"/>
<rect x="302.09" y="365.69" width="9.26" height="6.16" fill="#2e84f8"/>
<rect x="310.05" y="365.69" width="41.10" height="6.16" fill="#4854f6"/>
<rect x="349.85" y="365.69" width="224.16" height="6.16" fill="#4367fd"/>
<rect x="572.70" y="365.69" width="9.26" height="6.16" fill="#4368fe"/>
<rect x="580.66" y="365.69" width="9.26" height="6.16" fill="#426afe"/>
<rect x="588.62" y="365.69" width="9.26" height="6.16" fill="#416bfe"/>
<rect x="596.58" y="365.69" width="9.26" height="6.16" fill="#406dfe"/>
<rect x="604.54" y="365.69" width="7.96" height="6.16" fill="#3f6eff"/>
<rect x="47.40" y="370.54" width="49.05" height="6.16" fill="#4367fd"/>
<rect x="95.15" y="370.54" width="9.26" height="6.16" fill="#3f6eff"/>
<rect x="103.11" y="370.54" width="9.26" height="6.16" fill="#3c71ff"/>
<rect x="111.07" y="370.54" width="9.26" height="6.16" fill="#3974ff"/>
<rect x="119.03" y="370.54" width="9.26" height="6.16" fill="#3677fe"/>
<rect x="126.99" y="370.54" width="9.26" height="6.16" fill="#337afd"/>
<rect x="134.95" y="370.54" width="9.26" height="6.16" fill="#327cfc"/>
<rect x="142.91" y="370.54" width="9.26" height="6.16" fill="#317dfc"/>
<rect x="150.87" y="370.54" width="9.26" height="6.16" fill="#307ffb"/>
<rect x="158.83" y="370.54" width="41.10" height="6.16" fill="#2f82fa"/>
<rect x="198.62" y="370.54" width="9.26" height="6.16" fill="#307ffb"/>
<rect x="206.58" y="370.54" width="9.26" height="6.16" fill="#317dfc"/>
<rect x="214.54" y="370.54" width="9.26" height="6.16" fill="#337afd"/>
<rect x="222.50" y="370.54" width="9.26" height="6.16" fill="#3579fd"/>
<rect x="230.46" y="370.54" width="9.26" height="6.16" fill="#3876fe"/>
<rect x="238.42" y="370.54" width="9.26" height="6.16" fill="#3974ff"/>
<rect x="246.38" y="370.54" width="9.26" height="6.16" fill="#3c71ff"/>
<rect x="254.34" y="370.54" width="9.26" height="6.16" fill="#3e70ff"/>
<rect x="262.30" y="370.54" width="9.26" height="6.16" fill="#406dfe"/>
<rect x="270.26" y="370.54" width="9.26" height="6.16" fill="#416bfe"/>
<rect x="278.22" y="370.54" width="9.26" height="6.16" fill="#4368fe"/>
<rect x="286.17" y="370.54" width="9.26" height="6.16" fill="#4367fd"/>
<rect x="294.13" y="370.54" width="9.26" height="6.16" fill="#4368fe"/>
<rect x="302.09" y="370.54" width="9.26" height="6.16" fill="#426afe"/>
<rect x="310.05" y="370.54" width="9.26" height="6.16" fill="#406dfe"/>
<rect x="318.01" y="370.54" width="9.26" height="6.16" fill="#3f6eff"/>
<rect x="325.97" y="370.54" width="9.26" height="6.16" fill="#4854f6"/>
<rect x="333.93" y="370.54" width="9.26" height="6.16" fill="#4853f5"/>
<rect x="341.89" y="370.54" width="9.26" height="6.16" fill="#4850f3"/>
<rect x="349.85" y="370.54" width="9.26" height="6.16" fill="#484ff2"/>
<rect x="357.81" y="370.54" width="80.89" height="6.16" fill="#484ef1"/>
<rect x="437.40" y="370.54" width="9.26" height="6.16" fill="#4535d2"/>
<rect x="445.36" y="370.54" width="9.26" height="6.16" fill="#4849ed"/>
<rect x="453.32" y="370.54" width="17.22" height="6.16" fill="#4537d5"/>
<rect x="469.24" y="370.54" width="9.26" height="6.16" fill="#4849ed"/>
<rect x="477.19" y="370.54" width="9.26" height="6.16" fill="#4538d7"/>
<rect x="485.15" y="370.54" width="9.26" height="6.16" fill="#4639d9"/>
<rect x="493.11" y="370.54" width="9.26" height="6.16" fill="#4849ed"/>
<rect x="501.07" y="370.54" width="17.22" height="6.16" fill="#463adc"/>
<rect x="516.99" y="370.54" width="9.26" height="6.16" fill="#463bde"/>
<rect x="524.95" y="370.54" width="25.18" height="6.16" fill="#4742e6"/>
<rect x="548.83" y="370.54" width="9.26" height="6.16" fill="#473ee1"/>
<rect x="556.79" y="370.54" width="9.26" height="6.16" fill="#4849ed"/>
<rect x="564.75" y="370.54" width="25.18" height="6.16" fill="#412dbd"/>
<rect x="588.62" y="370.54" width="9.26" height="6.16" fill="#4538d7"/>
<rect x="596.58" y="370.54" width="15.92" height="6.16" fill="#412dbd"/>
<rect x="47.40" y="375.40" width="41.10" height="6.16" fill="#4367fd"/>
<rect x="87.20" y="375.40" width="49.05" height="6.16" fill="#4368fe"/>
<rect x="134.95" y="375.40" width="41.10" height="6.16" fill="#426afe"/>
<rect x="174.75" y="375.40" width="25.18" height="6.16" fill="#416bfe"/>
<rect x="198.62" y="375.40" width="25.18" height="6.16" fill="#406dfe"/>
<rect x="222.50" y="375.40" width="9.26" height="6.16" fill="#3f6eff"/>
<rect x="230.46" y="375.40" width="17.22" height="6.16" fill="#484ef1"/>
<rect x="246.38" y="375.40" width="9.26" height="6.16" fill="#4367fd"/>
<rect x="254.34" y="375.40" width="9.26" height="6.16" fill="#4849ed"/>
<rect x="262.30" y="375.40" width="17.22" height="6.16" fill="#4367fd"/>
<rect x="278.22" y="375.40" width="17.22" height="6.16" fill="#4854f6"/>
<rect x="294.13" y="375.40" width="41.10" height="6.16" fill="#4367fd"/>
<rect x="333.93" y="375.40" width="17.22" height="6.16" fill="#4849ed"/>
<rect x="349.85" y="375.40" width="9.26" height="6.16" fill="#4367fd"/>
<rect x="357.81" y="375.40" width="9.26" height="6.16" fill="#426afe"/>
<rect x="365.77" y="375.40" width="9.26" height="6.16" fill="#406dfe"/>
<rect x="373.73" y="375.40" width="9.26" height="6.16" fill="#3e70ff"/>
<rect x="381.68" y="375.40" width="9.26" height="6.16" fill="#3b73ff"/>
<rect x="389.64" y="375.40" width="9.26" height="6.16" fill="#3876fe"/>
<rect x="397.60" y="375.40" width="9.26" height="6.16" fill="#337afd"/>
<rect x="405.56" y="375.40" width="9.26" height="6.16" fill="#3876fe"/>
<rect x="413.52" y="375.40" width="9.26" height="6.16" fill="#3c71ff"/>
<rect x="421.48" y="375.40" width="9.26" height="6.16" fill="#3f6eff"/>
<rect x="429.44" y="375.40" width="9.26" height="6.16" fill="#406dfe"/>
<rect x="437.40" y="375.40" width="9.26" height="6.16" fill="#416bfe"/>
<rect x="445.36" y="375.40" width="9.26" height="6.16" fill="#426afe"/>
<rect x="453.32" y="375.40" width="9.26" height="6.16" fill="#4368fe"/>
<rect x="461.28" y="375.40" width="9.26" height="6.16" fill="#4367fd"/>
<rect x="469.24" y="375.40" width="9.26" height="6.16" fill="#484ef1"/>
<rect x="477.19" y="375.40" width="9.26" height="6.16" fill="#4848ec"/>
<rect x="485.15" y="375.40" width="9.26" height="6.16" fill="#4741e5"/>
<rect x="493.11" y="375.40" width="9.26" height="6.16" fill="#463bde"/>
<rect x="501.07" y="375.40" width="9.26" height="6.16" fill="#4537d5"/>
<rect x="509.03" y="375.40" width="9.26" height="6.16" fill="#4332ca"/>
<rect x="516.99" y="375.40" width="9.26" height="6.16" fill="#463adc"/>
<rect x="524.95" y="375.40" width="9.26" height="6.16" fill="#4742e6"/>
<rect x="532.91" y="375.40" width="9.26" height="6.16" fill="#4745e9"/>
<rect x="540.87" y="375.40" width="9.26" height="6.16" fill="#4746eb"/>
<rect x="548.83" y="375.40" width="9.26" height="6.16" fill="#4849ed"/>
<rect x="556.79" y="375.40" width="9.26" height="6.16" fill="#484bee"/>
<rect x="564.75" y="375.40" width="9.26" height="6.16" fill="#484ef1"/>
<rect x="572.70" y="375.40" width="9.26" height="6.16" fill="#4850f3"/>
<rect x="580.66" y="375.40" width="9.26" height="6.16" fill="#4853f5"/>
<rect x="588.62" y="375.40" width="9.26" height="6.16" fill="#4756f7"/>
<rect x="596.58" y="375.40" width="9.26" height="6.16" fill="#4759f8"/>
<rect x="604.54" y="375.40" width="7.96" height="6.16" fill="#475bfa"/>
<rect x="47.40" y="380.26" width="41.10" height="6.16" fill="#4367fd"/>
<rect x="87.20" y="380.26" width="49.05" height="6.16" fill="#4368fe"/>
<rect x="134.95" y="380.26" width="41.10" height="6.16" fill="#426afe"/>
<rect x="174.75" y="380.26" width="25.18" height="6.16" fill="#416bfe"/>
<rect x="198.62" y="380.26" width="25.18" height="6.16" fill="#406dfe"/>
<rect x="222.50" y="380.26" width="25.18" height="6.16" fill="#3f6eff"/>
<rect x="246.38" y="380.26" width="25.18" height="6.16" fill="#3e70ff"/>
<rect x="270.26" y="380.26" width="25.18" height="6.16" fill="#3c71ff"/>
<rect x="294.13" y="380.26" width="9.26" height="6.16" fill="#337afd"/>
<rect x="302.09" y="380.26" width="9.26" height="6.16" fill="#2f82fa"/>
<rect x="310.05" y="380.26" width="9.26" height="6.16" fill="#0bb3d2"/>
<rect x="318.01" y="380.26" width="9.26" height="6.16" fill="#04b6ce"/>
<rect x="325.97" y="380.26" width="9.26" height="6.16" fill="#01b7ca"/>
<rect x="333.93" y="380.26" width="9.26" height="6.16" fill="#23c1af"/>
<rect x="341.89" y="380.26" width="9.26" height="6.16" fill="#27c2ac"/>
<rect x="349.85" y="380.26" width="9.26" height="6.16" fill="#2bc3a8"/>
<rect x="357.81" y="380.26" width="9.26" height="6.16" fill="#2ec4a5"/>
<rect x="365.77" y="380.26" width="9.26" height="6.16" fill="#31c5a1"/>
<rect x="373.73" y="380.26" width="9.26" height="6.16" fill="#33c79d"/>
<rect x="381.68" y="380.26" width="25.18" height="6.16" fill="#48cb86"/>
<rect x="405.56" y="380.26" width="17.22" height="6.16" fill="#b2c635"/>
<rect x="421.48" y="380.26" width="9.26" height="6.16" fill="#27c2ac"/>
<rect x="429.44" y="380.26" width="9.26" height="6.16" fill="#72cd64"/>
<rect x="437.40" y="380.26" width="9.26" height="6.16" fill="#27c2ac"/>
<rect x="445.36" y="380.26" width="9.26" height="6.16" fill="#04b6ce"/>
<rect x="453.32" y="380.26" width="17.22" height="6.16" fill="#02bbc2"/>
<rect x="469.24" y="380.26" width="9.26" height="6.16" fill="#04b6ce"/>
<rect x="477.19" y="380.26" width="9.26" height="6.16" fill="#00bac6"/>
<rect x="485.15" y="380.26" width="9.26" height="6.16" fill="#14beb8"/>
<rect x="493.11" y="380.26" width="9.26" height="6.16" fill="#27c2ac"/>
<rect x="501.07" y="380.26" width="9.26" height="6.16" fill="#29c3aa"/>
<rect x="509.03" y="380.26" width="9.26" height="6.16" fill="#2cc4a6"/>
<rect x="516.99" y="380.26" width="9.26" height="6.16" fill="#23c1af"/>
<rect x="524.95" y="380.26" width="9.26" height="6.16" fill="#2cc4a6"/>
<rect x="532.91" y="380.26" width="9.26" height="6.16" fill="#2ec4a5"/>
<rect x="540.87" y="380.26" width="9.26" height="6.16" fill="#2fc5a3"/>
<rect x="548.83" y="380.26" width="9.26" height="6.16" fill="#32c69f"/>
<rect x="556.79" y="380.26" width="9.26" height="6.16" fill="#35c79b"/>
<rect x="564.75" y="380.26" width="9.26" height="6.16" fill="#36c899"/>
<rect x="572.70" y="380.26" width="17.22" height="6.16" fill="#38c896"/>
<rect x="588.62" y="380.26" width="17.22" height="6.16" fill="#39c994"/>
<rect x="604.54" y="380.26" width="7.96" height="6.16" fill="#3bc992"/>
<rect x="47.40" y="385.11" width="49.05" height="6.16" fill="#4367fd"/>
<rect x="95.15" y="385.11" width="9.26" height="6.16" fill="#3f6eff"/>
<rect x="103.11" y="385.11" width="9.26" height="6.16" fill="#3677fe"/>
<rect x="111.07" y="385.11" width="9.26" height="6.16" fill="#2f82fa"/>
<rect x="119.03" y="385.11" width="9.26" height="6.16" fill="#2e84f8"/>
<rect x="126.99" y="385.11" width="9.26" height="6.16" fill="#2d88f6"/>
<rect x="134.95" y="385.11" width="9.26" height="6.16" fill="#2d8bf4"/>
<rect x="142.91" y="385.11" width="9.26" height="6.16" fill="#2b91ef"/>
<rect x="150.87" y="385.11" width="9.26" height="6.16" fill="#2797eb"/>
<rect x="158.83" y="385.11" width="9.26" height="6.16" fill="#259be8"/>
<rect x="166.79" y="385.11" width="9.26" height="6.16" fill="#21a3e3"/>
<rect x="174.75" y="385.11" width="9.26" height="6.16" fill="#1caadf"/>
<rect x="182.71" y="385.11" width="9.26" height="6.16" fill="#1aacdd"/>
<rect x="190.66" y="385.11" width="9.26" height="6.16" fill="#16afd9"/>
<rect x="198.62" y="385.11" width="9.26" height="6.16" fill="#01b7ca"/>
<rect x="206.58" y="385.11" width="9.26" height="6.16" fill="#14beb8"/>
<rect x="214.54" y="385.11" width="17.22" height="6.16" fill="#16afd9"/>
<rect x="230.46" y="385.11" width="25.18" height="6.16" fill="#02bbc2"/>
<rect x="254.34" y="385.11" width="9.26" height="6.16" fill="#57cc7a"/>
<rect x="262.30" y="385.11" width="17.22" height="6.16" fill="#2fc5a3"/>
<rect x="278.22" y="385.11" width="9.26" height="6.16" fill="#57cc7a"/>
<rect x="286.17" y="385.11" width="17.22" height="6.16" fill="#a1c840"/>
<rect x="302.09" y="385.11" width="9.26" height="6.16" fill="#23c1af"/>
<rect x="310.05" y="385.11" width="17.22" height="6.16" fill="#b2c635"/>
<rect x="325.97" y="385.11" width="25.18" height="6.16" fill="#debc29"/>
<rect x="349.85" y="385.11" width="9.26" height="6.16" fill="#fec13a"/>
<rect x="357.81" y="385.11" width="33.14" height="6.16" fill="#eaba30"/>
<rect x="389.64" y="385.11" width="9.26" height="6.16" fill="#fdcd31"/>
<rect x="397.60" y="385.11" width="9.26" height="6.16" fill="#b2c635"/>
<rect x="405.56" y="385.11" width="9.26" height="6.16" fill="#eaba30"/>
<rect x="413.52" y="385.11" width="9.26" height="6.16" fill="#b2c635"/>
<rect x="421.48" y="385.11" width="9.26" height="6.16" fill="#debc29"/>
<rect x="429.44" y="385.11" width="9.26" height="6.16" fill="#8fcb4e"/>
<rect x="437.40" y="385.11" width="17.22" height="6.16" fill="#a1c840"/>
<rect x="453.32" y="385.11" width="9.26" height="6.16" fill="#cbc128"/>
<rect x="461.28" y="385.11" width="9.26" height="6.16" fill="#79cc5e"/>
<rect x="469.24" y="385.11" width="17.22" height="6.16" fill="#a1c840"/>
<rect x="485.15" y="385.11" width="25.18" height="6.16" fill="#cbc128"/>
<rect x="509.03" y="385.11" width="9.26" height="6.16" fill="#b2c635"/>
<rect x="516.99" y="385.11" width="9.26" height="6.16" fill="#8fcb4e"/>
<rect x="524.95" y="385.11" width="25.18" height="6.16" fill="#b2c635"/>
<rect x="548.83" y="385.11" width="9.26" height="6.16" fill="#8fcb4e"/>
<rect x="556.79" y="385.11" width="17.22" height="6.16" fill="#a1c840"/>
<rect x="572.70" y="385.11" width="9.26" height="6.16" fill="#cbc128"/>
<rect x="580.66" y="385.11" width="31.84" height="6.16" fill="#8fcb4e"/>
<rect x="47.40" y="389.97" width="9.26" height="6.16" fill="#4367fd"/>
<rect x="55.36" y="389.97" width="25.18" height="6.16" fill="#4465fd"/>
<rect x="79.24" y="389.97" width="25.18" height="6.16" fill="#4564fd"/>
<rect x="103.11" y="389.97" width="33.14" height="6.16" fill="#4562fc"/>
<rect x="134.95" y="389.97" width="25.18" height="6.16" fill="#4661fc"/>
<rect x="158.83" y="389.97" width="25.18" height="6.16" fill="#4660fb"/>
<rect x="182.71" y="389.97" width="9.26" height="6.16" fill="#475dfa"/>
<rect x="190.66" y="389.97" width="9.26" height="6.16" fill="#475bfa"/>
<rect x="198.62" y="389.97" width="9.26" height="6.16" fill="#475af9"/>
<rect x="206.58" y="389.97" width="9.26" height="6.16" fill="#4757f7"/>
<rect x="214.54" y="389.97" width="9.26" height="6.16" fill="#4756f7"/>
<rect x="222.50" y="389.97" width="17.22" height="6.16" fill="#4854f6"/>
<rect x="238.42" y="389.97" width="17.22" height="6.16" fill="#4756f7"/>
<rect x="254.34" y="389.97" width="25.18" height="6.16" fill="#4757f7"/>
<rect x="278.22" y="389.97" width="9.26" height="6.16" fill="#475af9"/>
<rect x="286.17" y="389.97" width="9.26" height="6.16" fill="#475bfa"/>
<rect x="294.13" y="389.97" width="9.26" height="6.16" fill="#475dfa"/>
<rect x="302.09" y="389.97" width="9.26" height="6.16" fill="#4660fb"/>
<rect x="310.05" y="389.97" width="9.26" height="6.16" fill="#2b91ef"/>
<rect x="318.01" y="389.97" width="9.26" height="6.16" fill="#2895ec"/>
<rect x="325.97" y="389.97" width="9.26" height="6.16" fill="#2699e9"/>
<rect x="333.93" y="389.97" width="9.26" height="6.16" fill="#259be8"/>
<rect x="341.89" y="389.97" width="17.22" height="6.16" fill="#269ae8"/>
<rect x="357.81" y="389.97" width="17.22" height="6.16" fill="#2699e9"/>
<rect x="373.73" y="389.97" width="9.26" height="6.16" fill="#269ae8"/>
<rect x="381.68" y="389.97" width="9.26" height="6.16" fill="#259be8"/>
<rect x="389.64" y="389.97" width="9.26" height="6.16" fill="#259ce7"/>
<rect x="397.60" y="389.97" width="9.26" height="6.16" fill="#249ee6"/>
<rect x="405.56" y="389.97" width="9.26" height="6.16" fill="#249fe5"/>
<rect x="413.52" y="389.97" width="9.26" height="6.16" fill="#23a0e5"/>
<rect x="421.48" y="389.97" width="9.26" height="6.16" fill="#22a2e4"/>
<rect x="429.44" y="389.97" width="9.26" height="6.16" fill="#21a3e3"/>
<rect x="437.40" y="389.97" width="9.26" height="6.16" fill="#20a5e3"/>
<rect x="445.36" y="389.97" width="17.22" height="6.16" fill="#23c1af"/>
<rect x="461.28" y="389.97" width="9.26" height="6.16" fill="#48cb86"/>
<rect x="469.24" y="389.97" width="9.26" height="6.16" fill="#a1c840"/>
<rect x="477.19" y="389.97" width="41.10" height="6.16" fill="#48cb86"/>
<rect x="516.99" y="389.97" width="9.26" height="6.16" fill="#3dca90"/>
<rect x="524.95" y="389.97" width="9.26" height="6.16" fill="#36c899"/>
<rect x="532.91" y="389.97" width="9.26" height="6.16" fill="#57cc7a"/>
<rect x="540.87" y="389.97" width="9.26" height="6.16" fill="#42ca8b"/>
<rect x="548.83" y="389.97" width="9.26" height="6.16" fill="#8fcb4e"/>
<rect x="556.79" y="389.97" width="17.22" height="6.16" fill="#51cc7f"/>
<rect x="572.70" y="389.97" width="25.18" height="6.16" fill="#54cc7c"/>
<rect x="596.58" y="389.97" width="15.92" height="6.16" fill="#57cc7a"/>
<rect x="47.40" y="394.83" width="168.44" height="6.16" fill="#4367fd"/>
<rect x="214.54" y="394.83" width="9.26" height="6.16" fill="#475bfa"/>
<rect x="222.50" y="394.83" width="9.26" height="6.16" fill="#4367fd"/>
<rect x="230.46" y="394.83" width="9.26" height="6.16" fill="#426afe"/>
<rect x="238.42" y="394.83" width="9.26" height="6.16" fill="#406dfe"/>
<rect x="246.38" y="394.83" width="9.26" height="6.16" fill="#3e70ff"/>
<rect x="254.34" y="394.83" width="9.26" height="6.16" fill="#3b73ff"/>
<rect x="262.30" y="394.83" width="9.26" height="6.16" fill="#3876fe"/>
<rect x="270.26" y="394.83" width="41.10" height="6.16" fill="#2d8bf4"/>
<rect x="310.05" y="394.83" width="9.26" height="6.16" fill="#337afd"/>
<rect x="318.01" y="394.83" width="9.26" height="6.16" fill="#4367fd"/>
<rect x="325.97" y="394.83" width="9.26" height="6.16" fill="#259be8"/>
<rect x="333.93" y="394.83" width="17.22" height="6.16" fill="#259ce7"/>
<rect x="349.85" y="394.83" width="9.26" height="6.16" fill="#249ee6"/>
<rect x="357.81" y="394.83" width="9.26" height="6.16" fill="#249fe5"/>
<rect x="365.77" y="394.83" width="25.18" height="6.16" fill="#16afd9"/>
<rect x="389.64" y="394.83" width="9.26" height="6.16" fill="#2fc5a3"/>
<rect x="397.60" y="394.83" width="9.26" height="6.16" fill="#8fcb4e"/>
<rect x="405.56" y="394.83" width="17.22" height="6.16" fill="#2fc5a3"/>
<rect x="421.48" y="394.83" width="9.26" height="6.16" fill="#8fcb4e"/>
<rect x="429.44" y="394.83" width="17.22" height="6.16" fill="#02bbc2"/>
<rect x="445.36" y="394.83" width="9.26" height="6.16" fill="#04b6ce"/>
<rect x="453.32" y="394.83" width="17.22" height="6.16" fill="#1caadf"/>
<rect x="469.24" y="394.83" width="9.26" height="6.16" fill="#1babde"/>
<rect x="477.19" y="394.83" width="17.22" height="6.16" fill="#1aacdd"/>
<rect x="493.11" y="394.83" width="17.22" height="6.16" fill="#19addc"/>
<rect x="509.03" y="394.83" width="17.22" height="6.16" fill="#17aeda"/>
<rect x="524.95" y="394.83" width="9.26" height="6.16" fill="#16afd9"/>
<rect x="532.91" y="394.83" width="9.26" height="6.16" fill="#14b0d8"/>
<rect x="540.87" y="394.83" width="17.22" height="6.16" fill="#12b1d6"/>
<rect x="556.79" y="394.83" width="9.26" height="6.16" fill="#10b2d5"/>
<rect x="564.75" y="394.83" width="9.26" height="6.16" fill="#0eb3d4"/>
<rect x="572.70" y="394.83" width="17.22" height="6.16" fill="#0bb3d2"/>
<rect x="588.62" y="394.83" width="9.26" height="6.16" fill="#08b4d1"/>
<rect x="596.58" y="394.83" width="9.26" height="6.16" fill="#06b5cf"/>
<rect x="604.54" y="394.83" width="7.96" height="6.16" fill="#04b6ce"/>
<rect x="47.40" y="399.69" width="120.69" height="6.16" fill="#4367fd"/>
<rect x="166.79" y="399.69" width="17.22" height="6.16" fill="#475bfa"/>
<rect x="182.71" y="399.69" width="17.22" height="6.16" fill="#4367fd"/>
<rect x="198.62" y="399.69" width="9.26" height="6.16" fill="#2f82fa"/>
<rect x="206.58" y="399.69" width="64.97" height="6.16" fill="#337afd"/>
<rect x="270.26" y="399.69" width="9.26" height="6.16" fill="#2b91ef"/>
<rect x="278.22" y="399.69" width="9.26" height="6.16" fill="#2994ed"/>
<rect x="286.17" y="399.69" width="9.26" height="6.16" fill="#2797eb"/>
<rect x="294.13" y="399.69" width="9.26" height="6.16" fill="#2699e9"/>
<rect x="302.09" y="399.69" width="9.26" height="6.16" fill="#259be8"/>
<rect x="310.05" y="399.69" width="9.26" height="6.16" fill="#22a2e4"/>
<rect x="318.01" y="399.69" width="9.26" height="6.16" fill="#1da9e0"/>
<rect x="325.97" y="399.69" width="25.18" height="6.16" fill="#16afd9"/>
<rect x="349.85" y="399.69" width="49.05" height="6.16" fill="#20a5e3"/>
<rect x="397.60" y="399.69" width="41.10" height="6.16" fill="#4367fd"/>
<rect x="437.40" y="399.69" width="41.10" height="6.16" fill="#484ef1"/>
<rect x="477.19" y="399.69" width="9.26" height="6.16" fill="#4854f6"/>
<rect x="485.15" y="399.69" width="25.18" height="6.16" fill="#475bfa"/>
<rect x="509.03" y="399.69" width="25.18" height="6.16" fill="#4742e6"/>
<rect x="532.91" y="399.69" width="25.18" height="6.16" fill="#4854f6"/>
<rect x="556.79" y="399.69" width="25.18" height="6.16" fill="#4756f7"/>
<rect x="580.66" y="399.69" width="31.84" height="6.16" fill="#4757f7"/>
<rect x="47.40" y="404.54" width="72.93" height="6.16" fill="#4367fd"/>
<rect x="119.03" y="404.54" width="9.26" height="6.16" fill="#4757f7"/>
<rect x="126.99" y="404.54" width="9.26" height="6.16" fill="#4367fd"/>
<rect x="134.95" y="404.54" width="9.26" height="6.16" fill="#4854f6"/>
<rect x="142.91" y="404.54" width="9.26" height="6.16" fill="#4367fd"/>
<rect x="150.87" y="404.54" width="9.26" height="6.16" fill="#3c71ff"/>
<rect x="158.83" y="404.54" width="9.26" height="6.16" fill="#3876fe"/>
<rect x="166.79" y="404.54" width="9.26" height="6.16" fill="#337afd"/>
<rect x="174.75" y="404.54" width="9.26" height="6.16" fill="#317dfc"/>
<rect x="182.71" y="404.54" width="9.26" height="6.16" fill="#2f82fa"/>
<rect x="190.66" y="404.54" width="9.26" height="6.16" fill="#2d8bf4"/>
<rect x="198.62" y="404.54" width="9.26" height="6.16" fill="#2895ec"/>
<rect x="206.58" y="404.54" width="9.26" height="6.16" fill="#1caadf"/>
<rect x="214.54" y="404.54" width="57.01" height="6.16" fill="#2d8bf4"/>
<rect x="270.26" y="404.54" width="33.14" height="6.16" fill="#2895ec"/>
<rect x="302.09" y="404.54" width="9.26" height="6.16" fill="#1caadf"/>
<rect x="310.05" y="404.54" width="17.22" height="6.16" fill="#3bc992"/>
<rect x="325.97" y="404.54" width="9.26" height="6.16" fill="#27c2ac"/>
<rect x="333.93" y="404.54" width="17.22" height="6.16" fill="#3bc992"/>
<rect x="349.85" y="404.54" width="9.26" height="6.16" fill="#16afd9"/>
<rect x="357.81" y="404.54" width="9.26" height="6.16" fill="#259be8"/>
<rect x="365.77" y="404.54" width="9.26" height="6.16" fill="#249ee6"/>
<rect x="373.73" y="404.54" width="9.26" height="6.16" fill="#249fe5"/>
<rect x="381.68" y="404.54" width="9.26" height="6.16" fill="#23a1e4"/>
<rect x="389.64" y="404.54" width="9.26" height="6.16" fill="#22a2e4"/>
<rect x="397.60" y="404.54" width="9.26" height="6.16" fill="#20a5e3"/>
<rect x="405.56" y="404.54" width="9.26" height="6.16" fill="#16afd9"/>
<rect x="413.52" y="404.54" width="9.26" height="6.16" fill="#12b1d6"/>
<rect x="421.48" y="404.54" width="9.26" height="6.16" fill="#10b2d5"/>
<rect x="429.44" y="404.54" width="9.26" height="6.16" fill="#0bb3d2"/>
<rect x="437.40" y="404.54" width="9.26" height="6.16" fill="#08b4d1"/>
<rect x="445.36" y="404.54" width="96.81" height="6.16" fill="#04b6ce"/>
<rect x="540.87" y="404.54" width="17.22" height="6.16" fill="#02b7cc"/>
<rect x="556.79" y="404.54" width="17.22" height="6.16" fill="#01b7ca"/>
<rect x="572.70" y="404.54" width="17.22" height="6.16" fill="#00b8c9"/>
<rect x="588.62" y="404.54" width="17.22" height="6.16" fill="#00b9c7"/>
<rect x="604.54" y="404.54" width="7.96" height="6.16" fill="#00bac6"/>
<rect x="47.40" y="409.40" width="25.18" height="6.16" fill="#4367fd"/>
<rect x="71.28" y="409.40" width="25.18" height="6.16" fill="#4368fe"/>
<rect x="95.15" y="409.40" width="25.18" height="6.16" fill="#426afe"/>
<rect x="119.03" y="409.40" width="25.18" height="6.16" fill="#416bfe"/>
<rect x="142.91" y="409.40" width="25.18" height="6.16" fill="#406dfe"/>
<rect x="166.79" y="409.40" width="17.22" height="6.16" fill="#3f6eff"/>
<rect x="182.71" y="409.40" width="9.26" height="6.16" fill="#3e70ff"/>
<rect x="190.66" y="409.40" width="9.26" height="6.16" fill="#3c71ff"/>
<rect x="198.62" y="409.40" width="9.26" height="6.16" fill="#3974ff"/>
<rect x="206.58" y="409.40" width="9.26" height="6.16" fill="#3876fe"/>
<rect x="214.54" y="409.40" width="9.26" height="6.16" fill="#3677fe"/>
<rect x="222.50" y="409.40" width="17.22" height="6.16" fill="#337afd"/>
<rect x="238.42" y="409.40" width="9.26" height="6.16" fill="#327cfc"/>
<rect x="246.38" y="409.40" width="9.26" height="6.16" fill="#317dfc"/>
<rect x="254.34" y="409.40" width="9.26" height="6.16" fill="#307ffb"/>
<rect x="262.30" y="409.40" width="9.26" height="6.16" fill="#2f80fa"/>
<rect x="270.26" y="409.40" width="9.26" height="6.16" fill="#2f82fa"/>
<rect x="278.22" y="409.40" width="9.26" height="6.16" fill="#2e84f8"/>
<rect x="286.17" y="409.40" width="9.26" height="6.16" fill="#2e86f8"/>
<rect x="294.13" y="409.40" width="9.26" height="6.16" fill="#2d88f6"/>
<rect x="302.09" y="409.40" width="9.26" height="6.16" fill="#2d8bf4"/>
<rect x="310.05" y="409.40" width="9.26" height="6.16" fill="#259be8"/>
<rect x="318.01" y="409.40" width="9.26" height="6.16" fill="#249ee6"/>
<rect x="325.97" y="409.40" width="9.26" height="6.16" fill="#249fe5"/>
<rect x="333.93" y="409.40" width="9.26" height="6.16" fill="#23a1e4"/>
<rect x="341.89" y="409.40" width="9.26" height="6.16" fill="#22a2e4"/>
<rect x="349.85" y="409.40" width="9.26" height="6.16" fill="#20a5e3"/>
<rect x="357.81" y="409.40" width="9.26" height="6.16" fill="#17aeda"/>
<rect x="365.77" y="409.40" width="25.18" height="6.16" fill="#04b6ce"/>
<rect x="389.64" y="409.40" width="9.26" height="6.16" fill="#1caadf"/>
<rect x="397.60" y="409.40" width="9.26" height="6.16" fill="#14beb8"/>
<rect x="405.56" y="409.40" width="9.26" height="6.16" fill="#16afd9"/>
<rect x="413.52" y="409.40" width="17.22" height="6.16" fill="#2fc5a3"/>
<rect x="429.44" y="409.40" width="9.26" height="6.16" fill="#02bbc2"/>
<rect x="437.40" y="409.40" width="17.22" height="6.16" fill="#16afd9"/>
<rect x="453.32" y="409.40" width="17.22" height="6.16" fill="#17aeda"/>
<rect x="469.24" y="409.40" width="17.22" height="6.16" fill="#19addc"/>
<rect x="485.15" y="409.40" width="17.22" height="6.16" fill="#1aacdd"/>
<rect x="501.07" y="409.40" width="17.22" height="6.16" fill="#1babde"/>
<rect x="516.99" y="409.40" width="17.22" height="6.16" fill="#1caadf"/>
<rect x="532.91" y="409.40" width="9.26" height="6.16" fill="#1da8e1"/>
<rect x="540.87" y="409.40" width="9.26" height="6.16" fill="#1fa6e2"/>
<rect x="548.83" y="409.40" width="9.26" height="6.16" fill="#20a5e3"/>
<rect x="556.79" y="409.40" width="9.26" height="6.16" fill="#2895ec"/>
<rect x="564.75" y="409.40" width="9.26" height="6.16" fill="#1caadf"/>
<rect x="572.70" y="409.40" width="9.26" height="6.16" fill="#1babde"/>
<rect x="580.66" y="409.40" width="9.26" height="6.16" fill="#1aacdd"/>
<rect x="588.62" y="409.40" width="9.26" height="6.16" fill="#19addc"/>
<rect x="596.58" y="409.40" width="9.26" height="6.16" fill="#17aeda"/>
<rect x="604.54" y="409.40" width="7.96" height="6.16" fill="#16afd9"/>
<rect x="47.40" y="414.26" width="25.18" height="6.16" fill="#4367fd"/>
<rect x="71.28" y="414.26" width="25.18" height="6.16" fill="#4368fe"/>
<rect x="95.15" y="414.26" width="25.18" height="6.16" fill="#426afe"/>
<rect x="119.03" y="414.26" width="25.18" height="6.16" fill="#416bfe"/>
<rect x="142.91" y="414.26" width="25.18" height="6.16" fill="#406dfe"/>
<rect x="166.79" y="414.26" width="17.22" height="6.16" fill="#3f6eff"/>
<rect x="182.71" y="414.26" width="9.26" height="6.16" fill="#3e70ff"/>
<rect x="190.66" y="414.26" width="9.26" height="6.16" fill="#3c71ff"/>
<rect x="198.62" y="414.26" width="9.26" height="6.16" fill="#3974ff"/>
<rect x="206.58" y="414.26" width="9.26" height="6.16" fill="#3876fe"/>
<rect x="214.54" y="414.26" width="9.26" height="6.16" fill="#3677fe"/>
<rect x="222.50" y="414.26" width="25.18" height="6.16" fill="#337afd"/>
<rect x="246.38" y="414.26" width="9.26" height="6.16" fill="#2b91ef"/>
<rect x="254.34" y="414.26" width="9.26" height="6.16" fill="#259be8"/>
<rect x="262.30" y="414.26" width="25.18" height="6.16" fill="#20a5e3"/>
<rect x="286.17" y="414.26" width="33.14" height="6.16" fill="#14beb8"/>
<rect x="318.01" y="414.26" width="9.26" height="6.16" fill="#2cc4a6"/>
<rect x="325.97" y="414.26" width="41.10" height="6.16" fill="#14beb8"/>
<rect x="365.77" y="414.26" width="41.10" height="6.16" fill="#27c2ac"/>
<rect x="405.56" y="414.26" width="9.26" height="6.16" fill="#48cb86"/>
<rect x="413.52" y="414.26" width="9.26" height="6.16" fill="#23c1af"/>
<rect x="421.48" y="414.26" width="9.26" height="6.16" fill="#8fcb4e"/>
<rect x="429.44" y="414.26" width="9.26" height="6.16" fill="#57cc7a"/>
<rect x="437.40" y="414.26" width="9.26" height="6.16" fill="#eaba30"/>
<rect x="445.36" y="414.26" width="17.22" height="6.16" fill="#b2c635"/>
<rect x="461.28" y="414.26" width="9.26" height="6.16" fill="#f5ba3b"/>
<rect x="469.24" y="414.26" width="9.26" height="6.16" fill="#cbc128"/>
<rect x="477.19" y="414.26" width="9.26" height="6.16" fill="#72cd64"/>
<rect x="485.15" y="414.26" width="9.26" height="6.16" fill="#b2c635"/>
<rect x="493.11" y="414.26" width="9.26" height="6.16" fill="#a1c840"/>
<rect x="501.07" y="414.26" width="9.26" height="6.16" fill="#84cc56"/>
<rect x="509.03" y="414.26" width="9.26" height="6.16" fill="#72cd64"/>
<rect x="516.99" y="414.26" width="33.14" height="6.16" fill="#61cd72"/>
<rect x="548.83" y="414.26" width="9.26" height="6.16" fill="#b2c635"/>
<rect x="556.79" y="414.26" width="9.26" height="6.16" fill="#72cd64"/>
<rect x="564.75" y="414.26" width="9.26" height="6.16" fill="#76cc61"/>
<rect x="572.70" y="414.26" width="17.22" height="6.16" fill="#79cc5e"/>
<rect x="588.62" y="414.26" width="9.26" height="6.16" fill="#7dcc5b"/>
<rect x="596.58" y="414.26" width="9.26" height="6.16" fill="#81cc59"/>
<rect x="604.54" y="414.26" width="7.96" height="6.16" fill="#84cc56"/>
<rect x="47.40" y="419.11" width="25.18" height="6.16" fill="#4367fd"/>
<rect x="71.28" y="419.11" width="25.18" height="6.16" fill="#4368fe"/>
<rect x="95.15" y="419.11" width="25.18" height="6.16" fill="#426afe"/>
<rect x="119.03" y="419.11" width="25.18" height="6.16" fill="#416bfe"/>
<rect x="142.91" y="419.11" width="25.18" height="6.16" fill="#406dfe"/>
<rect x="166.79" y="419.11" width="17.22" height="6.16" fill="#3f6eff"/>
<rect x="182.71" y="419.11" width="9.26" height="6.16" fill="#3e70ff"/>
<rect x="190.66" y="419.11" width="9.26" height="6.16" fill="#3c71ff"/>
<rect x="198.62" y="419.11" width="9.26" height="6.16" fill="#3b73ff"/>
<rect x="206.58" y="419.11" width="9.26" height="6.16" fill="#3974ff"/>
<rect x="214.54" y="419.11" width="9.26" height="6.16" fill="#3876fe"/>
<rect x="222.50" y="419.11" width="9.26" height="6.16" fill="#3677fe"/>
<rect x="230.46" y="419.11" width="9.26" height="6.16" fill="#3579fd"/>
<rect x="238.42" y="419.11" width="9.26" height="6.16" fill="#337afd"/>
<rect x="246.38" y="419.11" width="9.26" height="6.16" fill="#327cfc"/>
<rect x="254.34" y="419.11" width="9.26" height="6.16" fill="#307ffb"/>
<rect x="262.30" y="419.11" width="9.26" height="6.16" fill="#2f80fa"/>
<rect x="270.26" y="419.11" width="9.26" height="6.16" fill="#2e83f9"/>
<rect x="278.22" y="419.11" width="9.26" height="6.16" fill="#2e86f8"/>
<rect x="286.17" y="419.11" width="9.26" height="6.16" fill="#2e87f7"/>
<rect x="294.13" y="419.11" width="9.26" height="6.16" fill="#2d8af5"/>
<rect x="302.09" y="419.11" width="9.26" height="6.16" fill="#2d8bf4"/>
<rect x="310.05" y="419.11" width="9.26" height="6.16" fill="#20a5e3"/>
<rect x="318.01" y="419.11" width="9.26" height="6.16" fill="#1fa6e2"/>
<rect x="325.97" y="419.11" width="9.26" height="6.16" fill="#1da8e1"/>
<rect x="333.93" y="419.11" width="9.26" height="6.16" fill="#1da9e0"/>
<rect x="341.89" y="419.11" width="9.26" height="6.16" fill="#1babde"/>
<rect x="349.85" y="419.11" width="9.26" height="6.16" fill="#1aacdd"/>
<rect x="357.81" y="419.11" width="9.26" height="6.16" fill="#17aeda"/>
<rect x="365.77" y="419.11" width="33.14" height="6.16" fill="#16afd9"/>
<rect x="397.60" y="419.11" width="9.26" height="6.16" fill="#2895ec"/>
<rect x="405.56" y="419.11" width="17.22" height="6.16" fill="#337afd"/>
<rect x="421.48" y="419.11" width="17.22" height="6.16" fill="#2d8bf4"/>
<rect x="437.40" y="419.11" width="9.26" height="6.16" fill="#3f6eff"/>
<rect x="445.36" y="419.11" width="9.26" height="6.16" fill="#2895ec"/>
<rect x="453.32" y="419.11" width="33.14" height="6.16" fill="#16afd9"/>
<rect x="485.15" y="419.11" width="9.26" height="6.16" fill="#14beb8"/>
<rect x="493.11" y="419.11" width="9.26" height="6.16" fill="#1ac0b5"/>
<rect x="501.07" y="419.11" width="9.26" height="6.16" fill="#23c1af"/>
<rect x="509.03" y="419.11" width="9.26" height="6.16" fill="#29c3aa"/>
<rect x="516.99" y="419.11" width="9.26" height="6.16" fill="#2fc5a3"/>
<rect x="524.95" y="419.11" width="17.22" height="6.16" fill="#31c5a1"/>
<rect x="540.87" y="419.11" width="17.22" height="6.16" fill="#32c69f"/>
<rect x="556.79" y="419.11" width="17.22" height="6.16" fill="#33c79d"/>
<rect x="572.70" y="419.11" width="25.18" height="6.16" fill="#35c79b"/>
<rect x="596.58" y="419.11" width="15.92" height="6.16" fill="#36c899"/>
<rect x="47.40" y="423.97" width="25.18" height="6.16" fill="#4367fd"/>
<rect x="71.28" y="423.97" width="25.18" height="6.16" fill="#4368fe"/>
<rect x="95.15" y="423.97" width="25.18" height="6.16" fill="#426afe"/>
<rect x="119.03" y="423.97" width="25.18" height="6.16" fill="#416bfe"/>
<rect x="142.91" y="423.97" width="25.18" height="6.16" fill="#406dfe"/>
<rect x="166.79" y="423.97" width="25.18" height="6.16" fill="#3f6eff"/>
<rect x="190.66" y="423.97" width="9.26" height="6.16" fill="#3e70ff"/>
<rect x="198.62" y="423.97" width="17.22" height="6.16" fill="#3c71ff"/>
<rect x="214.54" y="423.97" width="9.26" height="6.16" fill="#3b73ff"/>
<rect x="222.50" y="423.97" width="17.22" height="6.16" fill="#3974ff"/>
<rect x="238.42" y="423.97" width="9.26" height="6.16" fill="#3876fe"/>
<rect x="246.38" y="423.97" width="17.22" height="6.16" fill="#3677fe"/>
<rect x="262.30" y="423.97" width="9.26" height="6.16" fill="#3579fd"/>
<rect x="270.26" y="423.97" width="9.26" height="6.16" fill="#337afd"/>
<rect x="278.22" y="423.97" width="9.26" height="6.16" fill="#327cfc"/>
<rect x="286.17" y="423.97" width="9.26" height="6.16" fill="#307ffb"/>
<rect x="294.13" y="423.97" width="9.26" height="6.16" fill="#2f82fa"/>
<rect x="302.09" y="423.97" width="9.26" height="6.16" fill="#2e84f8"/>
<rect x="310.05" y="423.97" width="9.26" height="6.16" fill="#2d8bf4"/>
<rect x="318.01" y="423.97" width="9.26" height="6.16" fill="#2d8ef2"/>
<rect x="325.97" y="423.97" width="9.26" height="6.16" fill="#2b91ef"/>
<rect x="333.93" y="423.97" width="9.26" height="6.16" fill="#2994ed"/>
<rect x="341.89" y="423.97" width="9.26" height="6.16" fill="#2797eb"/>
<rect x="349.85" y="423.97" width="9.26" height="6.16" fill="#2699e9"/>
<rect x="357.81" y="423.97" width="9.26" height="6.16" fill="#259be8"/>
<rect x="365.77" y="423.97" width="25.18" height="6.16" fill="#27c2ac"/>
<rect x="389.64" y="423.97" width="9.26" height="6.16" fill="#48cb86"/>
<rect x="397.60" y="423.97" width="9.26" height="6.16" fill="#42ca8b"/>
<rect x="405.56" y="423.97" width="9.26" height="6.16" fill="#3bc992"/>
<rect x="413.52" y="423.97" width="9.26" height="6.16" fill="#16afd9"/>
<rect x="421.48" y="423.97" width="17.22" height="6.16" fill="#14beb8"/>
<rect x="437.40" y="423.97" width="9.26" height="6.16" fill="#8fcb4e"/>
<rect x="445.36" y="423.97" width="9.26" height="6.16" fill="#23c1af"/>
<rect x="453.32" y="423.97" width="9.26" height="6.16" fill="#8fcb4e"/>
<rect x="461.28" y="423.97" width="9.26" height="6.16" fill="#2fc5a3"/>
<rect x="469.24" y="423.97" width="9.26" height="6.16" fill="#cbc128"/>
<rect x="477.19" y="423.97" width="9.26" height="6.16" fill="#fec13a"/>
<rect x="485.15" y="423.97" width="9.26" height="6.16" fill="#debc29"/>
<rect x="493.11" y="423.97" width="9.26" height="6.16" fill="#f5ba3b"/>
<rect x="501.07" y="423.97" width="17.22" height="6.16" fill="#fec834"/>
<rect x="516.99" y="423.97" width="9.26" height="6.16" fill="#f7dd2a"/>
<rect x="524.95" y="423.97" width="9.26" height="6.16" fill="#f5e327"/>
<rect x="532.91" y="423.97" width="9.26" height="6.16" fill="#f5e924"/>
<rect x="540.87" y="423.97" width="9.26" height="6.16" fill="#f5ec22"/>
<rect x="548.83" y="423.97" width="9.26" height="6.16" fill="#f6f11f"/>
<rect x="556.79" y="423.97" width="25.18" height="6.16" fill="#f5e924"/>
<rect x="580.66" y="423.97" width="31.84" height="6.16" fill="#f9fb15"/>
<rect x="47.40" y="428.83" width="88.85" height="6.16" fill="#4367fd"/>
<rect x="134.95" y="428.83" width="9.26" height="6.16" fill="#3f6eff"/>
<rect x="142.91" y="428.83" width="9.26" height="6.16" fill="#3974ff"/>
<rect x="150.87" y="428.83" width="41.10" height="6.16" fill="#337afd"/>
<rect x="190.66" y="428.83" width="9.26" height="6.16" fill="#3e70ff"/>
<rect x="198.62" y="428.83" width="17.22" height="6.16" fill="#4367fd"/>
<rect x="214.54" y="428.83" width="9.26" height="6.16" fill="#4849ed"/>
<rect x="222.50" y="428.83" width="9.26" height="6.16" fill="#4660fb"/>
<rect x="230.46" y="428.83" width="17.22" height="6.16" fill="#4742e6"/>
<rect x="246.38" y="428.83" width="25.18" height="6.16" fill="#4854f6"/>
<rect x="270.26" y="428.83" width="25.18" height="6.16" fill="#4367fd"/>
<rect x="294.13" y="428.83" width="9.26" height="6.16" fill="#4742e6"/>
<rect x="302.09" y="428.83" width="9.26" height="6.16" fill="#475bfa"/>
<rect x="310.05" y="428.83" width="9.26" height="6.16" fill="#4854f6"/>
<rect x="318.01" y="428.83" width="9.26" height="6.16" fill="#475bfa"/>
<rect x="325.97" y="428.83" width="9.26" height="6.16" fill="#465efb"/>
<rect x="333.93" y="428.83" width="9.26" height="6.16" fill="#4661fc"/>
<rect x="341.89" y="428.83" width="9.26" height="6.16" fill="#4564fd"/>
<rect x="349.85" y="428.83" width="9.26" height="6.16" fill="#4367fd"/>
<rect x="357.81" y="428.83" width="9.26" height="6.16" fill="#4854f6"/>
<rect x="365.77" y="428.83" width="25.18" height="6.16" fill="#4367fd"/>
<rect x="389.64" y="428.83" width="9.26" height="6.16" fill="#475bfa"/>
<rect x="397.60" y="428.83" width="9.26" height="6.16" fill="#426afe"/>
<rect x="405.56" y="428.83" width="9.26" height="6.16" fill="#337afd"/>
<rect x="413.52" y="428.83" width="9.26" height="6.16" fill="#2f80fa"/>
<rect x="421.48" y="428.83" width="9.26" height="6.16" fill="#2e86f8"/>
<rect x="429.44" y="428.83" width="144.56" height="6.16" fill="#2d8bf4"/>
<rect x="572.70" y="428.83" width="9.26" height="6.16" fill="#2d8af5"/>
<rect x="580.66" y="428.83" width="9.26" height="6.16" fill="#2d88f6"/>
<rect x="588.62" y="428.83" width="9.26" height="6.16" fill="#2e87f7"/>
<rect x="596.58" y="428.83" width="9.26" height="6.16" fill="#2e86f8"/>
<rect x="604.54" y="428.83" width="7.96" height="6.16" fill="#2e84f8"/>
<rect x="47.40" y="433.69" width="136.61" height="6.16" fill="#4367fd"/>
<rect x="182.71" y="433.69" width="9.26" height="6.16" fill="#337afd"/>
<rect x="190.66" y="433.69" width="9.26" height="6.16" fill="#317dfc"/>
<rect x="198.62" y="433.69" width="9.26" height="6.16" fill="#2f82fa"/>
<rect x="206.58" y="433.69" width="9.26" height="6.16" fill="#2e84f8"/>
<rect x="214.54" y="433.69" width="9.26" height="6.16" fill="#2e86f8"/>
<rect x="222.50" y="433.69" width="9.26" height="6.16" fill="#2e87f7"/>
<rect x="230.46" y="433.69" width="9.26" height="6.16" fill="#2d88f6"/>
<rect x="238.42" y="433.69" width="9.26" height="6.16" fill="#2d8af5"/>
<rect x="246.38" y="433.69" width="9.26" height="6.16" fill="#2d8bf4"/>
<rect x="254.34" y="433.69" width="9.26" height="6.16" fill="#2d88f6"/>
<rect x="262.30" y="433.69" width="9.26" height="6.16" fill="#2e84f8"/>
<rect x="270.26" y="433.69" width="9.26" height="6.16" fill="#2f82fa"/>
<rect x="278.22" y="433.69" width="9.26" height="6.16" fill="#2e86f8"/>
<rect x="286.17" y="433.69" width="88.85" height="6.16" fill="#2d8bf4"/>
<rect x="373.73" y="433.69" width="9.26" height="6.16" fill="#2d88f6"/>
<rect x="381.68" y="433.69" width="9.26" height="6.16" fill="#2e84f8"/>
<rect x="389.64" y="433.69" width="9.26" height="6.16" fill="#2f82fa"/>
<rect x="397.60" y="433.69" width="25.18" height="6.16" fill="#3f6eff"/>
<rect x="421.48" y="433.69" width="25.18" height="6.16" fill="#4854f6"/>
<rect x="445.36" y="433.69" width="33.14" height="6.16" fill="#4367fd"/>
<rect x="477.19" y="433.69" width="9.26" height="6.16" fill="#484ef1"/>
<rect x="485.15" y="433.69" width="9.26" height="6.16" fill="#484cf0"/>
<rect x="493.11" y="433.69" width="9.26" height="6.16" fill="#484bee"/>
<rect x="501.07" y="433.69" width="9.26" height="6.16" fill="#4849ed"/>
<rect x="509.03" y="433.69" width="25.18" height="6.16" fill="#4854f6"/>
<rect x="532.91" y="433.69" width="17.22" height="6.16" fill="#4849ed"/>
<rect x="548.83" y="433.69" width="9.26" height="6.16" fill="#475bfa"/>
<rect x="556.79" y="433.69" width="9.26" height="6.16" fill="#4757f7"/>
<rect x="564.75" y="433.69" width="9.26" height="6.16" fill="#4854f6"/>
<rect x="572.70" y="433.69" width="39.80" height="6.16" fill="#4849ed"/>
<rect x="47.40" y="438.54" width="208.24" height="4.86" fill="#4367fd"/>
<rect x="254.34" y="438.54" width="17.22" height="4.86" fill="#4849ed"/>
<rect x="270.26" y="438.54" width="17.22" height="4.86" fill="#4367fd"/>
<rect x="286.17" y="438.54" width="9.26" height="4.86" fill="#4742e6"/>
<rect x="294.13" y="438.54" width="17.22" height="4.86" fill="#4367fd"/>
<rect x="310.05" y="438.54" width="25.18" height="4.86" fill="#4742e6"/>
<rect x="333.93" y="438.54" width="49.05" height="4.86" fill="#4854f6"/>
<rect x="381.68" y="438.54" width="9.26" height="4.86" fill="#4367fd"/>
<rect x="389.64" y="438.54" width="9.26" height="4.86" fill="#3e70ff"/>
<rect x="397.60" y="438.54" width="9.26" height="4.86" fill="#3579fd"/>
<rect x="405.56" y="438.54" width="9.26" height="4.86" fill="#2f82fa"/>
<rect x="413.52" y="438.54" width="9.26" height="4.86" fill="#2e87f7"/>
<rect x="421.48" y="438.54" width="9.26" height="4.86" fill="#2d8cf3"/>
<rect x="429.44" y="438.54" width="9.26" height="4.86" fill="#2b91ef"/>
<rect x="437.40" y="438.54" width="9.26" height="4.86" fill="#2895ec"/>
<rect x="445.36" y="438.54" width="9.26" height="4.86" fill="#2699e9"/>
<rect x="453.32" y="438.54" width="9.26" height="4.86" fill="#259be8"/>
<rect x="461.28" y="438.54" width="9.26" height="4.86" fill="#249fe5"/>
<rect x="469.24" y="438.54" width="9.26" height="4.86" fill="#259ce7"/>
<rect x="477.19" y="438.54" width="9.26" height="4.86" fill="#259be8"/>
<rect x="485.15" y="438.54" width="9.26" height="4.86" fill="#2699e9"/>
<rect x="493.11" y="438.54" width="9.26" height="4.86" fill="#2798ea"/>
<rect x="501.07" y="438.54" width="25.18" height="4.86" fill="#2895ec"/>
<rect x="524.95" y="438.54" width="9.26" height="4.86" fill="#20a5e3"/>
<rect x="532.91" y="438.54" width="9.26" height="4.86" fill="#1fa6e2"/>
<rect x="540.87" y="438.54" width="9.26" height="4.86" fill="#1da8e1"/>
<rect x="548.83" y="438.54" width="9.26" height="4.86" fill="#1caadf"/>
<rect x="556.79" y="438.54" width="17.22" height="4.86" fill="#1babde"/>
<rect x="572.70" y="438.54" width="9.26" height="4.86" fill="#1aacdd"/>
<rect x="580.66" y="438.54" width="9.26" height="4.86" fill="#19addc"/>
<rect x="588.62" y="438.54" width="17.22" height="4.86" fill="#17aeda"/>
<rect x="604.54" y="438.54" width="7.96" height="4.86" fill="#16afd9"/>
</g>
<rect x="47.40" y="341.40" width="565.10" height="102.00" fill="none" stroke="#262626" stroke-width="0.8"/>
<path d="M51.38 341.40v5.7M51.38 443.40v-5.7" stroke="#262626" stroke-width="0.7" fill="none"/>
<text x="51.08" y="464.10" text-anchor="middle" font-size="16">-20</text>
<path d="M130.97 341.40v5.7M130.97 443.40v-5.7" stroke="#262626" stroke-width="0.7" fill="none"/>
<text x="130.67" y="464.10" text-anchor="middle" font-size="16">-10</text>
<path d="M210.56 341.40v5.7M210.56 443.40v-5.7" stroke="#262626" stroke-width="0.7" fill="none"/>
<text x="210.26" y="464.10" text-anchor="middle" font-size="16">0</text>
<path d="M290.15 341.40v5.7M290.15 443.40v-5.7" stroke="#262626" stroke-width="0.7" fill="none"/>
<text x="289.85" y="464.10" text-anchor="middle" font-size="16">10</text>
<path d="M369.75 341.40v5.7M369.75 443.40v-5.7" stroke="#262626" stroke-width="0.7" fill="none"/>
<text x="369.45" y="464.10" text-anchor="middle" font-size="16">20</text>
<path d="M449.34 341.40v5.7M449.34 443.40v-5.7" stroke="#262626" stroke-width="0.7" fill="none"/>
<text x="449.04" y="464.10" text-anchor="middle" font-size="16">30</text>
<path d="M528.93 341.40v5.7M528.93 443.40v-5.7" stroke="#262626" stroke-width="0.7" fill="none"/>
<text x="528.63" y="464.10" text-anchor="middle" font-size="16">40</text>
<path d="M608.52 341.40v5.7M608.52 443.40v-5.7" stroke="#262626" stroke-width="0.7" fill="none"/>
<text x="608.22" y="464.10" text-anchor="middle" font-size="16">50</text>
<path d="M47.40 343.83h5.7M612.50 343.83h-5.7" stroke="#262626" stroke-width="0.7" fill="none"/>
<text x="41.80" y="349.43" text-anchor="end" font-size="16">7</text>
<path d="M47.40 368.11h5.7M612.50 368.11h-5.7" stroke="#262626" stroke-width="0.7" fill="none"/>
<text x="41.80" y="373.71" text-anchor="end" font-size="16">8</text>
<path d="M47.40 392.40h5.7M612.50 392.40h-5.7" stroke="#262626" stroke-width="0.7" fill="none"/>
<text x="41.80" y="398.00" text-anchor="end" font-size="16">9</text>
<path d="M47.40 416.69h5.7M612.50 416.69h-5.7" stroke="#262626" stroke-width="0.7" fill="none"/>
<text x="41.80" y="422.29" text-anchor="end" font-size="16">10</text>
<path d="M47.40 440.97h5.7M612.50 440.97h-5.7" stroke="#262626" stroke-width="0.7" fill="none"/>
<text x="41.80" y="446.57" text-anchor="end" font-size="16">11</text>
<text x="294.90" y="337.30" font-size="22.4">Difference</text>
<text x="55.90" y="362.80" font-size="22" style="fill:#fff">(c)</text>
<linearGradient id="cb2" x1="0" y1="1" x2="0" y2="0"><stop offset="0.0000" stop-color="#3e26a8"/><stop offset="0.0156" stop-color="#402ab4"/><stop offset="0.0312" stop-color="#422ebf"/><stop offset="0.0469" stop-color="#4332ca"/><stop offset="0.0625" stop-color="#4537d5"/><stop offset="0.0781" stop-color="#463bde"/><stop offset="0.0938" stop-color="#4741e5"/><stop offset="0.1094" stop-color="#4746eb"/><stop offset="0.1250" stop-color="#484cf0"/><stop offset="0.1406" stop-color="#4852f4"/><stop offset="0.1562" stop-color="#4757f7"/><stop offset="0.1719" stop-color="#475dfa"/><stop offset="0.1875" stop-color="#4562fc"/><stop offset="0.2031" stop-color="#4368fe"/><stop offset="0.2188" stop-color="#3f6eff"/><stop offset="0.2344" stop-color="#3974ff"/><stop offset="0.2500" stop-color="#337afd"/><stop offset="0.2656" stop-color="#2f80fa"/><stop offset="0.2812" stop-color="#2e86f8"/><stop offset="0.2969" stop-color="#2d8bf4"/><stop offset="0.3125" stop-color="#2c90f0"/><stop offset="0.3281" stop-color="#2895ec"/><stop offset="0.3438" stop-color="#269ae8"/><stop offset="0.3594" stop-color="#249fe5"/><stop offset="0.3750" stop-color="#21a3e3"/><stop offset="0.3906" stop-color="#1da8e1"/><stop offset="0.4062" stop-color="#1aacdd"/><stop offset="0.4219" stop-color="#14b0d8"/><stop offset="0.4375" stop-color="#0bb3d2"/><stop offset="0.4531" stop-color="#02b7cc"/><stop offset="0.4688" stop-color="#00bac6"/><stop offset="0.4844" stop-color="#06bcbf"/><stop offset="0.5000" stop-color="#14beb8"/><stop offset="0.5156" stop-color="#20c1b1"/><stop offset="0.5312" stop-color="#29c3aa"/><stop offset="0.5469" stop-color="#2fc5a3"/><stop offset="0.5625" stop-color="#35c79b"/><stop offset="0.5781" stop-color="#3bc992"/><stop offset="0.5938" stop-color="#45cb89"/><stop offset="0.6094" stop-color="#51cc7f"/><stop offset="0.6250" stop-color="#5ecd74"/><stop offset="0.6406" stop-color="#6bcd69"/><stop offset="0.6562" stop-color="#79cc5e"/><stop offset="0.6719" stop-color="#88cb53"/><stop offset="0.6875" stop-color="#96ca48"/><stop offset="0.7031" stop-color="#a4c83e"/><stop offset="0.7188" stop-color="#b2c635"/><stop offset="0.7344" stop-color="#bec32d"/><stop offset="0.7500" stop-color="#cbc128"/><stop offset="0.7656" stop-color="#d6be27"/><stop offset="0.7812" stop-color="#e1bc2a"/><stop offset="0.7969" stop-color="#eaba30"/><stop offset="0.8125" stop-color="#f3ba39"/><stop offset="0.8281" stop-color="#fbbb3e"/><stop offset="0.8438" stop-color="#fec03b"/><stop offset="0.8594" stop-color="#fec537"/><stop offset="0.8750" stop-color="#fdcb32"/><stop offset="0.8906" stop-color="#fbd22f"/><stop offset="0.9062" stop-color="#f9d82c"/><stop offset="0.9219" stop-color="#f6de29"/><stop offset="0.9375" stop-color="#f5e526"/><stop offset="0.9531" stop-color="#f5eb23"/><stop offset="0.9688" stop-color="#f6f11f"/><stop offset="0.9844" stop-color="#f8f71a"/><stop offset="1.0000" stop-color="#f9fb15"/></linearGradient>
<rect x="625.20" y="341.40" width="19.00" height="102.00" fill="url(#cb2)" stroke="#262626" stroke-width="0.8"/>
<path d="M644.20 423.51h-1.6" stroke="#262626" stroke-width="0.7"/>
<text x="649.20" y="428.21" font-size="16">0</text>
<path d="M644.20 391.44h-1.6" stroke="#262626" stroke-width="0.7"/>
<text x="649.20" y="396.14" font-size="16">5</text>
<path d="M644.20 359.36h-1.6" stroke="#262626" stroke-width="0.7"/>
<text x="649.20" y="364.06" font-size="16">10</text>
<text transform="translate(682.30 390.40) rotate(-90)" text-anchor="middle" font-size="18.9"><tspan textLength="9.7" lengthAdjust="spacingAndGlyphs">Δ</tspan><tspan textLength="35.6" lengthAdjust="spacingAndGlyphs">D, m</tspan></text>
<text transform="translate(17 393.80) rotate(-90)" text-anchor="middle" font-size="22.9">f<tspan font-size="13.9" dy="4.2">carrier</tspan><tspan dy="-4.2">, GHz</tspan></text>
<text x="226.8" y="485.1" font-size="22.4">Artificial additive noise, dB</text>
</svg></body></html>
